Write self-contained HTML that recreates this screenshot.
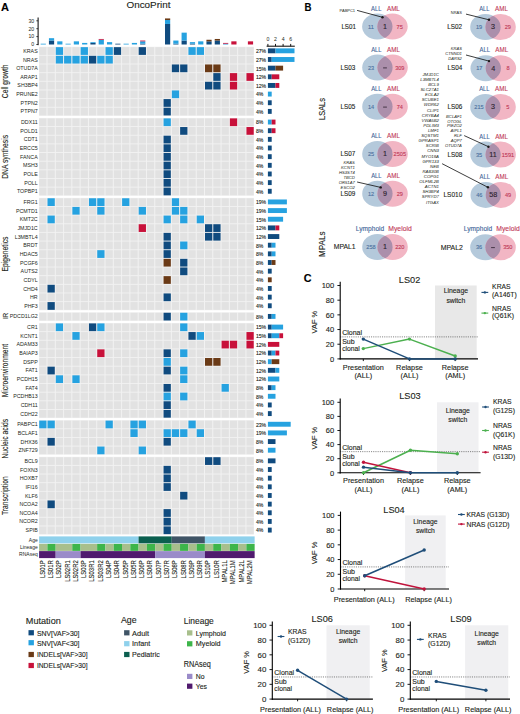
<!DOCTYPE html><html><head><meta charset="utf-8"><title>OncoPrint figure</title><style>html,body{margin:0;padding:0;background:#fff;}svg{display:block;}text{font-family:"Liberation Sans", sans-serif;}</style></head><body>
<svg width="520" height="714" viewBox="0 0 520 714">
<rect x="0" y="0" width="520" height="714" fill="#fff"/>
<text font-size="11" fill="#000" font-weight="bold" transform="translate(1 10.5)" stroke="#000" stroke-width="0.12">A</text>
<text font-size="9.6" fill="#231f20" text-anchor="middle" transform="translate(148.45 7.9) scale(1.029 1)" stroke="#231f20" stroke-width="0.12">OncoPrint</text>
<rect x="39.1" y="46.7" width="214.74" height="69.22" fill="#f2f2f2"/>
<rect x="39.2" y="47.15" width="7.29" height="7.75" fill="#e2e2e2"/>
<rect x="47.49" y="47.15" width="7.29" height="7.75" fill="#e2e2e2"/>
<rect x="55.78" y="47.15" width="7.29" height="7.75" fill="#26a2e0"/>
<rect x="64.07" y="47.15" width="7.29" height="7.75" fill="#e2e2e2"/>
<rect x="72.36" y="47.15" width="7.29" height="7.75" fill="#e2e2e2"/>
<rect x="80.65" y="47.15" width="7.29" height="7.75" fill="#26a2e0"/>
<rect x="88.94" y="47.15" width="7.29" height="7.75" fill="#e2e2e2"/>
<rect x="97.23" y="47.15" width="7.29" height="7.75" fill="#e2e2e2"/>
<rect x="105.52" y="47.15" width="7.29" height="7.75" fill="#26a2e0"/>
<rect x="113.81" y="47.15" width="7.29" height="7.75" fill="#104b7f"/>
<rect x="122.1" y="47.15" width="7.29" height="7.75" fill="#e2e2e2"/>
<rect x="130.39" y="47.15" width="7.29" height="7.75" fill="#e2e2e2"/>
<rect x="138.68" y="47.15" width="7.29" height="7.75" fill="#104b7f"/>
<rect x="146.97" y="47.15" width="7.29" height="7.75" fill="#e2e2e2"/>
<rect x="155.26" y="47.15" width="7.29" height="7.75" fill="#e2e2e2"/>
<rect x="163.55" y="47.15" width="7.29" height="7.75" fill="#e2e2e2"/>
<rect x="171.84" y="47.15" width="7.29" height="7.75" fill="#e2e2e2"/>
<rect x="180.13" y="47.15" width="7.29" height="7.75" fill="#e2e2e2"/>
<rect x="188.42" y="47.15" width="7.29" height="7.75" fill="#26a2e0"/>
<rect x="196.71" y="47.15" width="7.29" height="7.75" fill="#26a2e0"/>
<rect x="205" y="47.15" width="7.29" height="7.75" fill="#e2e2e2"/>
<rect x="213.29" y="47.15" width="7.29" height="7.75" fill="#e2e2e2"/>
<rect x="221.58" y="47.15" width="7.29" height="7.75" fill="#e2e2e2"/>
<rect x="229.87" y="47.15" width="7.29" height="7.75" fill="#e2e2e2"/>
<rect x="238.16" y="47.15" width="7.29" height="7.75" fill="#e2e2e2"/>
<rect x="246.45" y="47.15" width="7.29" height="7.75" fill="#e2e2e2"/>
<text font-size="5.3" fill="#231f20" text-anchor="end" transform="translate(37.7 52.88)">KRAS</text>
<rect x="39.2" y="55.8" width="7.29" height="7.75" fill="#e2e2e2"/>
<rect x="47.49" y="55.8" width="7.29" height="7.75" fill="#e2e2e2"/>
<rect x="55.78" y="55.8" width="7.29" height="7.75" fill="#26a2e0"/>
<rect x="64.07" y="55.8" width="7.29" height="7.75" fill="#26a2e0"/>
<rect x="72.36" y="55.8" width="7.29" height="7.75" fill="#26a2e0"/>
<rect x="80.65" y="55.8" width="7.29" height="7.75" fill="#26a2e0"/>
<rect x="88.94" y="55.8" width="7.29" height="7.75" fill="#104b7f"/>
<rect x="97.23" y="55.8" width="7.29" height="7.75" fill="#26a2e0"/>
<rect x="105.52" y="55.8" width="7.29" height="7.75" fill="#26a2e0"/>
<rect x="113.81" y="55.8" width="7.29" height="7.75" fill="#e2e2e2"/>
<rect x="122.1" y="55.8" width="7.29" height="7.75" fill="#e2e2e2"/>
<rect x="130.39" y="55.8" width="7.29" height="7.75" fill="#e2e2e2"/>
<rect x="138.68" y="55.8" width="7.29" height="7.75" fill="#e2e2e2"/>
<rect x="146.97" y="55.8" width="7.29" height="7.75" fill="#e2e2e2"/>
<rect x="155.26" y="55.8" width="7.29" height="7.75" fill="#e2e2e2"/>
<rect x="163.55" y="55.8" width="7.29" height="7.75" fill="#e2e2e2"/>
<rect x="171.84" y="55.8" width="7.29" height="7.75" fill="#e2e2e2"/>
<rect x="180.13" y="55.8" width="7.29" height="7.75" fill="#e2e2e2"/>
<rect x="188.42" y="55.8" width="7.29" height="7.75" fill="#e2e2e2"/>
<rect x="196.71" y="55.8" width="7.29" height="7.75" fill="#e2e2e2"/>
<rect x="205" y="55.8" width="7.29" height="7.75" fill="#e2e2e2"/>
<rect x="213.29" y="55.8" width="7.29" height="7.75" fill="#e2e2e2"/>
<rect x="221.58" y="55.8" width="7.29" height="7.75" fill="#e2e2e2"/>
<rect x="229.87" y="55.8" width="7.29" height="7.75" fill="#e2e2e2"/>
<rect x="238.16" y="55.8" width="7.29" height="7.75" fill="#e2e2e2"/>
<rect x="246.45" y="55.8" width="7.29" height="7.75" fill="#e2e2e2"/>
<text font-size="5.3" fill="#231f20" text-anchor="end" transform="translate(37.7 61.53)">NRAS</text>
<rect x="39.2" y="64.46" width="7.29" height="7.75" fill="#e2e2e2"/>
<rect x="47.49" y="64.46" width="7.29" height="7.75" fill="#e2e2e2"/>
<rect x="55.78" y="64.46" width="7.29" height="7.75" fill="#e2e2e2"/>
<rect x="64.07" y="64.46" width="7.29" height="7.75" fill="#e2e2e2"/>
<rect x="72.36" y="64.46" width="7.29" height="7.75" fill="#e2e2e2"/>
<rect x="80.65" y="64.46" width="7.29" height="7.75" fill="#e2e2e2"/>
<rect x="88.94" y="64.46" width="7.29" height="7.75" fill="#e2e2e2"/>
<rect x="97.23" y="64.46" width="7.29" height="7.75" fill="#e2e2e2"/>
<rect x="105.52" y="64.46" width="7.29" height="7.75" fill="#e2e2e2"/>
<rect x="113.81" y="64.46" width="7.29" height="7.75" fill="#e2e2e2"/>
<rect x="122.1" y="64.46" width="7.29" height="7.75" fill="#e2e2e2"/>
<rect x="130.39" y="64.46" width="7.29" height="7.75" fill="#e2e2e2"/>
<rect x="138.68" y="64.46" width="7.29" height="7.75" fill="#e2e2e2"/>
<rect x="146.97" y="64.46" width="7.29" height="7.75" fill="#e2e2e2"/>
<rect x="155.26" y="64.46" width="7.29" height="7.75" fill="#e2e2e2"/>
<rect x="163.55" y="64.46" width="7.29" height="7.75" fill="#e2e2e2"/>
<rect x="171.84" y="64.46" width="7.29" height="7.75" fill="#104b7f"/>
<rect x="180.13" y="64.46" width="7.29" height="7.75" fill="#104b7f"/>
<rect x="188.42" y="64.46" width="7.29" height="7.75" fill="#e2e2e2"/>
<rect x="196.71" y="64.46" width="7.29" height="7.75" fill="#e2e2e2"/>
<rect x="205" y="64.46" width="7.29" height="7.75" fill="#6a3a16"/>
<rect x="213.29" y="64.46" width="7.29" height="7.75" fill="#6a3a16"/>
<rect x="221.58" y="64.46" width="7.29" height="7.75" fill="#e2e2e2"/>
<rect x="229.87" y="64.46" width="7.29" height="7.75" fill="#e2e2e2"/>
<rect x="238.16" y="64.46" width="7.29" height="7.75" fill="#e2e2e2"/>
<rect x="246.45" y="64.46" width="7.29" height="7.75" fill="#e2e2e2"/>
<text font-size="5.3" fill="#231f20" text-anchor="end" transform="translate(37.7 70.18)">OTUD7A</text>
<rect x="39.2" y="73.11" width="7.29" height="7.75" fill="#e2e2e2"/>
<rect x="47.49" y="73.11" width="7.29" height="7.75" fill="#e2e2e2"/>
<rect x="55.78" y="73.11" width="7.29" height="7.75" fill="#e2e2e2"/>
<rect x="64.07" y="73.11" width="7.29" height="7.75" fill="#e2e2e2"/>
<rect x="72.36" y="73.11" width="7.29" height="7.75" fill="#e2e2e2"/>
<rect x="80.65" y="73.11" width="7.29" height="7.75" fill="#e2e2e2"/>
<rect x="88.94" y="73.11" width="7.29" height="7.75" fill="#e2e2e2"/>
<rect x="97.23" y="73.11" width="7.29" height="7.75" fill="#e2e2e2"/>
<rect x="105.52" y="73.11" width="7.29" height="7.75" fill="#e2e2e2"/>
<rect x="113.81" y="73.11" width="7.29" height="7.75" fill="#e2e2e2"/>
<rect x="122.1" y="73.11" width="7.29" height="7.75" fill="#e2e2e2"/>
<rect x="130.39" y="73.11" width="7.29" height="7.75" fill="#e2e2e2"/>
<rect x="138.68" y="73.11" width="7.29" height="7.75" fill="#e2e2e2"/>
<rect x="146.97" y="73.11" width="7.29" height="7.75" fill="#e2e2e2"/>
<rect x="155.26" y="73.11" width="7.29" height="7.75" fill="#e2e2e2"/>
<rect x="163.55" y="73.11" width="7.29" height="7.75" fill="#e2e2e2"/>
<rect x="171.84" y="73.11" width="7.29" height="7.75" fill="#e2e2e2"/>
<rect x="180.13" y="73.11" width="7.29" height="7.75" fill="#e2e2e2"/>
<rect x="188.42" y="73.11" width="7.29" height="7.75" fill="#e2e2e2"/>
<rect x="196.71" y="73.11" width="7.29" height="7.75" fill="#e2e2e2"/>
<rect x="205" y="73.11" width="7.29" height="7.75" fill="#e2e2e2"/>
<rect x="213.29" y="73.11" width="7.29" height="7.75" fill="#104b7f"/>
<rect x="221.58" y="73.11" width="7.29" height="7.75" fill="#e2e2e2"/>
<rect x="229.87" y="73.11" width="7.29" height="7.75" fill="#c8113a"/>
<rect x="238.16" y="73.11" width="7.29" height="7.75" fill="#e2e2e2"/>
<rect x="246.45" y="73.11" width="7.29" height="7.75" fill="#c8113a"/>
<text font-size="5.3" fill="#231f20" text-anchor="end" transform="translate(37.7 78.84)">ARAP1</text>
<rect x="39.2" y="81.76" width="7.29" height="7.75" fill="#e2e2e2"/>
<rect x="47.49" y="81.76" width="7.29" height="7.75" fill="#e2e2e2"/>
<rect x="55.78" y="81.76" width="7.29" height="7.75" fill="#e2e2e2"/>
<rect x="64.07" y="81.76" width="7.29" height="7.75" fill="#e2e2e2"/>
<rect x="72.36" y="81.76" width="7.29" height="7.75" fill="#e2e2e2"/>
<rect x="80.65" y="81.76" width="7.29" height="7.75" fill="#e2e2e2"/>
<rect x="88.94" y="81.76" width="7.29" height="7.75" fill="#e2e2e2"/>
<rect x="97.23" y="81.76" width="7.29" height="7.75" fill="#e2e2e2"/>
<rect x="105.52" y="81.76" width="7.29" height="7.75" fill="#e2e2e2"/>
<rect x="113.81" y="81.76" width="7.29" height="7.75" fill="#e2e2e2"/>
<rect x="122.1" y="81.76" width="7.29" height="7.75" fill="#e2e2e2"/>
<rect x="130.39" y="81.76" width="7.29" height="7.75" fill="#e2e2e2"/>
<rect x="138.68" y="81.76" width="7.29" height="7.75" fill="#e2e2e2"/>
<rect x="146.97" y="81.76" width="7.29" height="7.75" fill="#e2e2e2"/>
<rect x="155.26" y="81.76" width="7.29" height="7.75" fill="#e2e2e2"/>
<rect x="163.55" y="81.76" width="7.29" height="7.75" fill="#e2e2e2"/>
<rect x="171.84" y="81.76" width="7.29" height="7.75" fill="#e2e2e2"/>
<rect x="180.13" y="81.76" width="7.29" height="7.75" fill="#e2e2e2"/>
<rect x="188.42" y="81.76" width="7.29" height="7.75" fill="#e2e2e2"/>
<rect x="196.71" y="81.76" width="7.29" height="7.75" fill="#e2e2e2"/>
<rect x="205" y="81.76" width="7.29" height="7.75" fill="#104b7f"/>
<rect x="213.29" y="81.76" width="7.29" height="7.75" fill="#104b7f"/>
<rect x="221.58" y="81.76" width="7.29" height="7.75" fill="#e2e2e2"/>
<rect x="229.87" y="81.76" width="7.29" height="7.75" fill="#c8113a"/>
<rect x="238.16" y="81.76" width="7.29" height="7.75" fill="#e2e2e2"/>
<rect x="246.45" y="81.76" width="7.29" height="7.75" fill="#e2e2e2"/>
<text font-size="5.3" fill="#231f20" text-anchor="end" transform="translate(37.7 87.49)">SH3BP4</text>
<rect x="39.2" y="90.42" width="7.29" height="7.75" fill="#e2e2e2"/>
<rect x="47.49" y="90.42" width="7.29" height="7.75" fill="#e2e2e2"/>
<rect x="55.78" y="90.42" width="7.29" height="7.75" fill="#e2e2e2"/>
<rect x="64.07" y="90.42" width="7.29" height="7.75" fill="#e2e2e2"/>
<rect x="72.36" y="90.42" width="7.29" height="7.75" fill="#e2e2e2"/>
<rect x="80.65" y="90.42" width="7.29" height="7.75" fill="#e2e2e2"/>
<rect x="88.94" y="90.42" width="7.29" height="7.75" fill="#e2e2e2"/>
<rect x="97.23" y="90.42" width="7.29" height="7.75" fill="#e2e2e2"/>
<rect x="105.52" y="90.42" width="7.29" height="7.75" fill="#e2e2e2"/>
<rect x="113.81" y="90.42" width="7.29" height="7.75" fill="#e2e2e2"/>
<rect x="122.1" y="90.42" width="7.29" height="7.75" fill="#e2e2e2"/>
<rect x="130.39" y="90.42" width="7.29" height="7.75" fill="#e2e2e2"/>
<rect x="138.68" y="90.42" width="7.29" height="7.75" fill="#e2e2e2"/>
<rect x="146.97" y="90.42" width="7.29" height="7.75" fill="#e2e2e2"/>
<rect x="155.26" y="90.42" width="7.29" height="7.75" fill="#e2e2e2"/>
<rect x="163.55" y="90.42" width="7.29" height="7.75" fill="#e2e2e2"/>
<rect x="171.84" y="90.42" width="7.29" height="7.75" fill="#26a2e0"/>
<rect x="180.13" y="90.42" width="7.29" height="7.75" fill="#e2e2e2"/>
<rect x="188.42" y="90.42" width="7.29" height="7.75" fill="#e2e2e2"/>
<rect x="196.71" y="90.42" width="7.29" height="7.75" fill="#e2e2e2"/>
<rect x="205" y="90.42" width="7.29" height="7.75" fill="#e2e2e2"/>
<rect x="213.29" y="90.42" width="7.29" height="7.75" fill="#e2e2e2"/>
<rect x="221.58" y="90.42" width="7.29" height="7.75" fill="#e2e2e2"/>
<rect x="229.87" y="90.42" width="7.29" height="7.75" fill="#e2e2e2"/>
<rect x="238.16" y="90.42" width="7.29" height="7.75" fill="#e2e2e2"/>
<rect x="246.45" y="90.42" width="7.29" height="7.75" fill="#e2e2e2"/>
<text font-size="5.3" fill="#231f20" text-anchor="end" transform="translate(37.7 96.14)">PRUNE2</text>
<rect x="39.2" y="99.07" width="7.29" height="7.75" fill="#e2e2e2"/>
<rect x="47.49" y="99.07" width="7.29" height="7.75" fill="#e2e2e2"/>
<rect x="55.78" y="99.07" width="7.29" height="7.75" fill="#e2e2e2"/>
<rect x="64.07" y="99.07" width="7.29" height="7.75" fill="#e2e2e2"/>
<rect x="72.36" y="99.07" width="7.29" height="7.75" fill="#e2e2e2"/>
<rect x="80.65" y="99.07" width="7.29" height="7.75" fill="#e2e2e2"/>
<rect x="88.94" y="99.07" width="7.29" height="7.75" fill="#e2e2e2"/>
<rect x="97.23" y="99.07" width="7.29" height="7.75" fill="#e2e2e2"/>
<rect x="105.52" y="99.07" width="7.29" height="7.75" fill="#e2e2e2"/>
<rect x="113.81" y="99.07" width="7.29" height="7.75" fill="#e2e2e2"/>
<rect x="122.1" y="99.07" width="7.29" height="7.75" fill="#e2e2e2"/>
<rect x="130.39" y="99.07" width="7.29" height="7.75" fill="#e2e2e2"/>
<rect x="138.68" y="99.07" width="7.29" height="7.75" fill="#e2e2e2"/>
<rect x="146.97" y="99.07" width="7.29" height="7.75" fill="#e2e2e2"/>
<rect x="155.26" y="99.07" width="7.29" height="7.75" fill="#e2e2e2"/>
<rect x="163.55" y="99.07" width="7.29" height="7.75" fill="#104b7f"/>
<rect x="171.84" y="99.07" width="7.29" height="7.75" fill="#e2e2e2"/>
<rect x="180.13" y="99.07" width="7.29" height="7.75" fill="#e2e2e2"/>
<rect x="188.42" y="99.07" width="7.29" height="7.75" fill="#e2e2e2"/>
<rect x="196.71" y="99.07" width="7.29" height="7.75" fill="#e2e2e2"/>
<rect x="205" y="99.07" width="7.29" height="7.75" fill="#e2e2e2"/>
<rect x="213.29" y="99.07" width="7.29" height="7.75" fill="#e2e2e2"/>
<rect x="221.58" y="99.07" width="7.29" height="7.75" fill="#e2e2e2"/>
<rect x="229.87" y="99.07" width="7.29" height="7.75" fill="#e2e2e2"/>
<rect x="238.16" y="99.07" width="7.29" height="7.75" fill="#e2e2e2"/>
<rect x="246.45" y="99.07" width="7.29" height="7.75" fill="#e2e2e2"/>
<text font-size="5.3" fill="#231f20" text-anchor="end" transform="translate(37.7 104.79)">PTPN2</text>
<rect x="39.2" y="107.72" width="7.29" height="7.75" fill="#e2e2e2"/>
<rect x="47.49" y="107.72" width="7.29" height="7.75" fill="#e2e2e2"/>
<rect x="55.78" y="107.72" width="7.29" height="7.75" fill="#e2e2e2"/>
<rect x="64.07" y="107.72" width="7.29" height="7.75" fill="#e2e2e2"/>
<rect x="72.36" y="107.72" width="7.29" height="7.75" fill="#e2e2e2"/>
<rect x="80.65" y="107.72" width="7.29" height="7.75" fill="#e2e2e2"/>
<rect x="88.94" y="107.72" width="7.29" height="7.75" fill="#e2e2e2"/>
<rect x="97.23" y="107.72" width="7.29" height="7.75" fill="#e2e2e2"/>
<rect x="105.52" y="107.72" width="7.29" height="7.75" fill="#e2e2e2"/>
<rect x="113.81" y="107.72" width="7.29" height="7.75" fill="#e2e2e2"/>
<rect x="122.1" y="107.72" width="7.29" height="7.75" fill="#e2e2e2"/>
<rect x="130.39" y="107.72" width="7.29" height="7.75" fill="#e2e2e2"/>
<rect x="138.68" y="107.72" width="7.29" height="7.75" fill="#e2e2e2"/>
<rect x="146.97" y="107.72" width="7.29" height="7.75" fill="#e2e2e2"/>
<rect x="155.26" y="107.72" width="7.29" height="7.75" fill="#e2e2e2"/>
<rect x="163.55" y="107.72" width="7.29" height="7.75" fill="#104b7f"/>
<rect x="171.84" y="107.72" width="7.29" height="7.75" fill="#e2e2e2"/>
<rect x="180.13" y="107.72" width="7.29" height="7.75" fill="#e2e2e2"/>
<rect x="188.42" y="107.72" width="7.29" height="7.75" fill="#e2e2e2"/>
<rect x="196.71" y="107.72" width="7.29" height="7.75" fill="#e2e2e2"/>
<rect x="205" y="107.72" width="7.29" height="7.75" fill="#e2e2e2"/>
<rect x="213.29" y="107.72" width="7.29" height="7.75" fill="#e2e2e2"/>
<rect x="221.58" y="107.72" width="7.29" height="7.75" fill="#e2e2e2"/>
<rect x="229.87" y="107.72" width="7.29" height="7.75" fill="#e2e2e2"/>
<rect x="238.16" y="107.72" width="7.29" height="7.75" fill="#e2e2e2"/>
<rect x="246.45" y="107.72" width="7.29" height="7.75" fill="#e2e2e2"/>
<text font-size="5.3" fill="#231f20" text-anchor="end" transform="translate(37.7 113.45)">PTPN7</text>
<text font-size="8.8" fill="#231f20" text-anchor="middle" transform="translate(7.6 81.31) rotate(-90) scale(0.767 1)" stroke="#231f20" stroke-width="0.12">Cell growth</text>
<rect x="39.1" y="117.92" width="214.74" height="77.88" fill="#f2f2f2"/>
<rect x="39.2" y="118.37" width="7.29" height="7.75" fill="#e2e2e2"/>
<rect x="47.49" y="118.37" width="7.29" height="7.75" fill="#e2e2e2"/>
<rect x="55.78" y="118.37" width="7.29" height="7.75" fill="#e2e2e2"/>
<rect x="64.07" y="118.37" width="7.29" height="7.75" fill="#e2e2e2"/>
<rect x="72.36" y="118.37" width="7.29" height="7.75" fill="#e2e2e2"/>
<rect x="80.65" y="118.37" width="7.29" height="7.75" fill="#e2e2e2"/>
<rect x="88.94" y="118.37" width="7.29" height="7.75" fill="#e2e2e2"/>
<rect x="97.23" y="118.37" width="7.29" height="7.75" fill="#e2e2e2"/>
<rect x="105.52" y="118.37" width="7.29" height="7.75" fill="#e2e2e2"/>
<rect x="113.81" y="118.37" width="7.29" height="7.75" fill="#e2e2e2"/>
<rect x="122.1" y="118.37" width="7.29" height="7.75" fill="#e2e2e2"/>
<rect x="130.39" y="118.37" width="7.29" height="7.75" fill="#e2e2e2"/>
<rect x="138.68" y="118.37" width="7.29" height="7.75" fill="#e2e2e2"/>
<rect x="146.97" y="118.37" width="7.29" height="7.75" fill="#e2e2e2"/>
<rect x="155.26" y="118.37" width="7.29" height="7.75" fill="#e2e2e2"/>
<rect x="163.55" y="118.37" width="7.29" height="7.75" fill="#26a2e0"/>
<rect x="171.84" y="118.37" width="7.29" height="7.75" fill="#e2e2e2"/>
<rect x="180.13" y="118.37" width="7.29" height="7.75" fill="#e2e2e2"/>
<rect x="188.42" y="118.37" width="7.29" height="7.75" fill="#e2e2e2"/>
<rect x="196.71" y="118.37" width="7.29" height="7.75" fill="#e2e2e2"/>
<rect x="205" y="118.37" width="7.29" height="7.75" fill="#e2e2e2"/>
<rect x="213.29" y="118.37" width="7.29" height="7.75" fill="#e2e2e2"/>
<rect x="221.58" y="118.37" width="7.29" height="7.75" fill="#e2e2e2"/>
<rect x="229.87" y="118.37" width="7.29" height="7.75" fill="#c8113a"/>
<rect x="238.16" y="118.37" width="7.29" height="7.75" fill="#e2e2e2"/>
<rect x="246.45" y="118.37" width="7.29" height="7.75" fill="#e2e2e2"/>
<text font-size="5.3" fill="#231f20" text-anchor="end" transform="translate(37.7 124.1)">DDX11</text>
<rect x="39.2" y="127.03" width="7.29" height="7.75" fill="#e2e2e2"/>
<rect x="47.49" y="127.03" width="7.29" height="7.75" fill="#e2e2e2"/>
<rect x="55.78" y="127.03" width="7.29" height="7.75" fill="#e2e2e2"/>
<rect x="64.07" y="127.03" width="7.29" height="7.75" fill="#e2e2e2"/>
<rect x="72.36" y="127.03" width="7.29" height="7.75" fill="#e2e2e2"/>
<rect x="80.65" y="127.03" width="7.29" height="7.75" fill="#e2e2e2"/>
<rect x="88.94" y="127.03" width="7.29" height="7.75" fill="#e2e2e2"/>
<rect x="97.23" y="127.03" width="7.29" height="7.75" fill="#e2e2e2"/>
<rect x="105.52" y="127.03" width="7.29" height="7.75" fill="#e2e2e2"/>
<rect x="113.81" y="127.03" width="7.29" height="7.75" fill="#e2e2e2"/>
<rect x="122.1" y="127.03" width="7.29" height="7.75" fill="#e2e2e2"/>
<rect x="130.39" y="127.03" width="7.29" height="7.75" fill="#e2e2e2"/>
<rect x="138.68" y="127.03" width="7.29" height="7.75" fill="#e2e2e2"/>
<rect x="146.97" y="127.03" width="7.29" height="7.75" fill="#e2e2e2"/>
<rect x="155.26" y="127.03" width="7.29" height="7.75" fill="#e2e2e2"/>
<rect x="163.55" y="127.03" width="7.29" height="7.75" fill="#e2e2e2"/>
<rect x="171.84" y="127.03" width="7.29" height="7.75" fill="#e2e2e2"/>
<rect x="180.13" y="127.03" width="7.29" height="7.75" fill="#104b7f"/>
<rect x="188.42" y="127.03" width="7.29" height="7.75" fill="#e2e2e2"/>
<rect x="196.71" y="127.03" width="7.29" height="7.75" fill="#e2e2e2"/>
<rect x="205" y="127.03" width="7.29" height="7.75" fill="#e2e2e2"/>
<rect x="213.29" y="127.03" width="7.29" height="7.75" fill="#e2e2e2"/>
<rect x="221.58" y="127.03" width="7.29" height="7.75" fill="#e2e2e2"/>
<rect x="229.87" y="127.03" width="7.29" height="7.75" fill="#e2e2e2"/>
<rect x="238.16" y="127.03" width="7.29" height="7.75" fill="#e2e2e2"/>
<rect x="246.45" y="127.03" width="7.29" height="7.75" fill="#c8113a"/>
<text font-size="5.3" fill="#231f20" text-anchor="end" transform="translate(37.7 132.75)">POLD1</text>
<rect x="39.2" y="135.68" width="7.29" height="7.75" fill="#e2e2e2"/>
<rect x="47.49" y="135.68" width="7.29" height="7.75" fill="#e2e2e2"/>
<rect x="55.78" y="135.68" width="7.29" height="7.75" fill="#e2e2e2"/>
<rect x="64.07" y="135.68" width="7.29" height="7.75" fill="#e2e2e2"/>
<rect x="72.36" y="135.68" width="7.29" height="7.75" fill="#e2e2e2"/>
<rect x="80.65" y="135.68" width="7.29" height="7.75" fill="#e2e2e2"/>
<rect x="88.94" y="135.68" width="7.29" height="7.75" fill="#e2e2e2"/>
<rect x="97.23" y="135.68" width="7.29" height="7.75" fill="#e2e2e2"/>
<rect x="105.52" y="135.68" width="7.29" height="7.75" fill="#e2e2e2"/>
<rect x="113.81" y="135.68" width="7.29" height="7.75" fill="#e2e2e2"/>
<rect x="122.1" y="135.68" width="7.29" height="7.75" fill="#e2e2e2"/>
<rect x="130.39" y="135.68" width="7.29" height="7.75" fill="#e2e2e2"/>
<rect x="138.68" y="135.68" width="7.29" height="7.75" fill="#e2e2e2"/>
<rect x="146.97" y="135.68" width="7.29" height="7.75" fill="#e2e2e2"/>
<rect x="155.26" y="135.68" width="7.29" height="7.75" fill="#e2e2e2"/>
<rect x="163.55" y="135.68" width="7.29" height="7.75" fill="#104b7f"/>
<rect x="171.84" y="135.68" width="7.29" height="7.75" fill="#e2e2e2"/>
<rect x="180.13" y="135.68" width="7.29" height="7.75" fill="#e2e2e2"/>
<rect x="188.42" y="135.68" width="7.29" height="7.75" fill="#e2e2e2"/>
<rect x="196.71" y="135.68" width="7.29" height="7.75" fill="#e2e2e2"/>
<rect x="205" y="135.68" width="7.29" height="7.75" fill="#e2e2e2"/>
<rect x="213.29" y="135.68" width="7.29" height="7.75" fill="#e2e2e2"/>
<rect x="221.58" y="135.68" width="7.29" height="7.75" fill="#e2e2e2"/>
<rect x="229.87" y="135.68" width="7.29" height="7.75" fill="#e2e2e2"/>
<rect x="238.16" y="135.68" width="7.29" height="7.75" fill="#e2e2e2"/>
<rect x="246.45" y="135.68" width="7.29" height="7.75" fill="#e2e2e2"/>
<text font-size="5.3" fill="#231f20" text-anchor="end" transform="translate(37.7 141.41)">CDT1</text>
<rect x="39.2" y="144.33" width="7.29" height="7.75" fill="#e2e2e2"/>
<rect x="47.49" y="144.33" width="7.29" height="7.75" fill="#e2e2e2"/>
<rect x="55.78" y="144.33" width="7.29" height="7.75" fill="#e2e2e2"/>
<rect x="64.07" y="144.33" width="7.29" height="7.75" fill="#e2e2e2"/>
<rect x="72.36" y="144.33" width="7.29" height="7.75" fill="#e2e2e2"/>
<rect x="80.65" y="144.33" width="7.29" height="7.75" fill="#e2e2e2"/>
<rect x="88.94" y="144.33" width="7.29" height="7.75" fill="#e2e2e2"/>
<rect x="97.23" y="144.33" width="7.29" height="7.75" fill="#e2e2e2"/>
<rect x="105.52" y="144.33" width="7.29" height="7.75" fill="#e2e2e2"/>
<rect x="113.81" y="144.33" width="7.29" height="7.75" fill="#e2e2e2"/>
<rect x="122.1" y="144.33" width="7.29" height="7.75" fill="#e2e2e2"/>
<rect x="130.39" y="144.33" width="7.29" height="7.75" fill="#e2e2e2"/>
<rect x="138.68" y="144.33" width="7.29" height="7.75" fill="#e2e2e2"/>
<rect x="146.97" y="144.33" width="7.29" height="7.75" fill="#e2e2e2"/>
<rect x="155.26" y="144.33" width="7.29" height="7.75" fill="#e2e2e2"/>
<rect x="163.55" y="144.33" width="7.29" height="7.75" fill="#104b7f"/>
<rect x="171.84" y="144.33" width="7.29" height="7.75" fill="#e2e2e2"/>
<rect x="180.13" y="144.33" width="7.29" height="7.75" fill="#e2e2e2"/>
<rect x="188.42" y="144.33" width="7.29" height="7.75" fill="#e2e2e2"/>
<rect x="196.71" y="144.33" width="7.29" height="7.75" fill="#e2e2e2"/>
<rect x="205" y="144.33" width="7.29" height="7.75" fill="#e2e2e2"/>
<rect x="213.29" y="144.33" width="7.29" height="7.75" fill="#e2e2e2"/>
<rect x="221.58" y="144.33" width="7.29" height="7.75" fill="#e2e2e2"/>
<rect x="229.87" y="144.33" width="7.29" height="7.75" fill="#e2e2e2"/>
<rect x="238.16" y="144.33" width="7.29" height="7.75" fill="#e2e2e2"/>
<rect x="246.45" y="144.33" width="7.29" height="7.75" fill="#e2e2e2"/>
<text font-size="5.3" fill="#231f20" text-anchor="end" transform="translate(37.7 150.06)">ERCC5</text>
<rect x="39.2" y="152.99" width="7.29" height="7.75" fill="#e2e2e2"/>
<rect x="47.49" y="152.99" width="7.29" height="7.75" fill="#e2e2e2"/>
<rect x="55.78" y="152.99" width="7.29" height="7.75" fill="#e2e2e2"/>
<rect x="64.07" y="152.99" width="7.29" height="7.75" fill="#e2e2e2"/>
<rect x="72.36" y="152.99" width="7.29" height="7.75" fill="#e2e2e2"/>
<rect x="80.65" y="152.99" width="7.29" height="7.75" fill="#e2e2e2"/>
<rect x="88.94" y="152.99" width="7.29" height="7.75" fill="#e2e2e2"/>
<rect x="97.23" y="152.99" width="7.29" height="7.75" fill="#e2e2e2"/>
<rect x="105.52" y="152.99" width="7.29" height="7.75" fill="#e2e2e2"/>
<rect x="113.81" y="152.99" width="7.29" height="7.75" fill="#e2e2e2"/>
<rect x="122.1" y="152.99" width="7.29" height="7.75" fill="#e2e2e2"/>
<rect x="130.39" y="152.99" width="7.29" height="7.75" fill="#e2e2e2"/>
<rect x="138.68" y="152.99" width="7.29" height="7.75" fill="#e2e2e2"/>
<rect x="146.97" y="152.99" width="7.29" height="7.75" fill="#e2e2e2"/>
<rect x="155.26" y="152.99" width="7.29" height="7.75" fill="#e2e2e2"/>
<rect x="163.55" y="152.99" width="7.29" height="7.75" fill="#104b7f"/>
<rect x="171.84" y="152.99" width="7.29" height="7.75" fill="#e2e2e2"/>
<rect x="180.13" y="152.99" width="7.29" height="7.75" fill="#e2e2e2"/>
<rect x="188.42" y="152.99" width="7.29" height="7.75" fill="#e2e2e2"/>
<rect x="196.71" y="152.99" width="7.29" height="7.75" fill="#e2e2e2"/>
<rect x="205" y="152.99" width="7.29" height="7.75" fill="#e2e2e2"/>
<rect x="213.29" y="152.99" width="7.29" height="7.75" fill="#e2e2e2"/>
<rect x="221.58" y="152.99" width="7.29" height="7.75" fill="#e2e2e2"/>
<rect x="229.87" y="152.99" width="7.29" height="7.75" fill="#e2e2e2"/>
<rect x="238.16" y="152.99" width="7.29" height="7.75" fill="#e2e2e2"/>
<rect x="246.45" y="152.99" width="7.29" height="7.75" fill="#e2e2e2"/>
<text font-size="5.3" fill="#231f20" text-anchor="end" transform="translate(37.7 158.71)">FANCA</text>
<rect x="39.2" y="161.64" width="7.29" height="7.75" fill="#e2e2e2"/>
<rect x="47.49" y="161.64" width="7.29" height="7.75" fill="#e2e2e2"/>
<rect x="55.78" y="161.64" width="7.29" height="7.75" fill="#e2e2e2"/>
<rect x="64.07" y="161.64" width="7.29" height="7.75" fill="#e2e2e2"/>
<rect x="72.36" y="161.64" width="7.29" height="7.75" fill="#e2e2e2"/>
<rect x="80.65" y="161.64" width="7.29" height="7.75" fill="#e2e2e2"/>
<rect x="88.94" y="161.64" width="7.29" height="7.75" fill="#e2e2e2"/>
<rect x="97.23" y="161.64" width="7.29" height="7.75" fill="#e2e2e2"/>
<rect x="105.52" y="161.64" width="7.29" height="7.75" fill="#e2e2e2"/>
<rect x="113.81" y="161.64" width="7.29" height="7.75" fill="#e2e2e2"/>
<rect x="122.1" y="161.64" width="7.29" height="7.75" fill="#e2e2e2"/>
<rect x="130.39" y="161.64" width="7.29" height="7.75" fill="#e2e2e2"/>
<rect x="138.68" y="161.64" width="7.29" height="7.75" fill="#e2e2e2"/>
<rect x="146.97" y="161.64" width="7.29" height="7.75" fill="#e2e2e2"/>
<rect x="155.26" y="161.64" width="7.29" height="7.75" fill="#e2e2e2"/>
<rect x="163.55" y="161.64" width="7.29" height="7.75" fill="#104b7f"/>
<rect x="171.84" y="161.64" width="7.29" height="7.75" fill="#e2e2e2"/>
<rect x="180.13" y="161.64" width="7.29" height="7.75" fill="#e2e2e2"/>
<rect x="188.42" y="161.64" width="7.29" height="7.75" fill="#e2e2e2"/>
<rect x="196.71" y="161.64" width="7.29" height="7.75" fill="#e2e2e2"/>
<rect x="205" y="161.64" width="7.29" height="7.75" fill="#e2e2e2"/>
<rect x="213.29" y="161.64" width="7.29" height="7.75" fill="#e2e2e2"/>
<rect x="221.58" y="161.64" width="7.29" height="7.75" fill="#e2e2e2"/>
<rect x="229.87" y="161.64" width="7.29" height="7.75" fill="#e2e2e2"/>
<rect x="238.16" y="161.64" width="7.29" height="7.75" fill="#e2e2e2"/>
<rect x="246.45" y="161.64" width="7.29" height="7.75" fill="#e2e2e2"/>
<text font-size="5.3" fill="#231f20" text-anchor="end" transform="translate(37.7 167.37)">MSH3</text>
<rect x="39.2" y="170.29" width="7.29" height="7.75" fill="#e2e2e2"/>
<rect x="47.49" y="170.29" width="7.29" height="7.75" fill="#e2e2e2"/>
<rect x="55.78" y="170.29" width="7.29" height="7.75" fill="#e2e2e2"/>
<rect x="64.07" y="170.29" width="7.29" height="7.75" fill="#e2e2e2"/>
<rect x="72.36" y="170.29" width="7.29" height="7.75" fill="#e2e2e2"/>
<rect x="80.65" y="170.29" width="7.29" height="7.75" fill="#e2e2e2"/>
<rect x="88.94" y="170.29" width="7.29" height="7.75" fill="#e2e2e2"/>
<rect x="97.23" y="170.29" width="7.29" height="7.75" fill="#e2e2e2"/>
<rect x="105.52" y="170.29" width="7.29" height="7.75" fill="#e2e2e2"/>
<rect x="113.81" y="170.29" width="7.29" height="7.75" fill="#e2e2e2"/>
<rect x="122.1" y="170.29" width="7.29" height="7.75" fill="#e2e2e2"/>
<rect x="130.39" y="170.29" width="7.29" height="7.75" fill="#e2e2e2"/>
<rect x="138.68" y="170.29" width="7.29" height="7.75" fill="#e2e2e2"/>
<rect x="146.97" y="170.29" width="7.29" height="7.75" fill="#e2e2e2"/>
<rect x="155.26" y="170.29" width="7.29" height="7.75" fill="#e2e2e2"/>
<rect x="163.55" y="170.29" width="7.29" height="7.75" fill="#104b7f"/>
<rect x="171.84" y="170.29" width="7.29" height="7.75" fill="#e2e2e2"/>
<rect x="180.13" y="170.29" width="7.29" height="7.75" fill="#e2e2e2"/>
<rect x="188.42" y="170.29" width="7.29" height="7.75" fill="#e2e2e2"/>
<rect x="196.71" y="170.29" width="7.29" height="7.75" fill="#e2e2e2"/>
<rect x="205" y="170.29" width="7.29" height="7.75" fill="#e2e2e2"/>
<rect x="213.29" y="170.29" width="7.29" height="7.75" fill="#e2e2e2"/>
<rect x="221.58" y="170.29" width="7.29" height="7.75" fill="#e2e2e2"/>
<rect x="229.87" y="170.29" width="7.29" height="7.75" fill="#e2e2e2"/>
<rect x="238.16" y="170.29" width="7.29" height="7.75" fill="#e2e2e2"/>
<rect x="246.45" y="170.29" width="7.29" height="7.75" fill="#e2e2e2"/>
<text font-size="5.3" fill="#231f20" text-anchor="end" transform="translate(37.7 176.02)">POLE</text>
<rect x="39.2" y="178.94" width="7.29" height="7.75" fill="#e2e2e2"/>
<rect x="47.49" y="178.94" width="7.29" height="7.75" fill="#e2e2e2"/>
<rect x="55.78" y="178.94" width="7.29" height="7.75" fill="#e2e2e2"/>
<rect x="64.07" y="178.94" width="7.29" height="7.75" fill="#e2e2e2"/>
<rect x="72.36" y="178.94" width="7.29" height="7.75" fill="#e2e2e2"/>
<rect x="80.65" y="178.94" width="7.29" height="7.75" fill="#e2e2e2"/>
<rect x="88.94" y="178.94" width="7.29" height="7.75" fill="#e2e2e2"/>
<rect x="97.23" y="178.94" width="7.29" height="7.75" fill="#e2e2e2"/>
<rect x="105.52" y="178.94" width="7.29" height="7.75" fill="#e2e2e2"/>
<rect x="113.81" y="178.94" width="7.29" height="7.75" fill="#e2e2e2"/>
<rect x="122.1" y="178.94" width="7.29" height="7.75" fill="#e2e2e2"/>
<rect x="130.39" y="178.94" width="7.29" height="7.75" fill="#e2e2e2"/>
<rect x="138.68" y="178.94" width="7.29" height="7.75" fill="#e2e2e2"/>
<rect x="146.97" y="178.94" width="7.29" height="7.75" fill="#e2e2e2"/>
<rect x="155.26" y="178.94" width="7.29" height="7.75" fill="#e2e2e2"/>
<rect x="163.55" y="178.94" width="7.29" height="7.75" fill="#104b7f"/>
<rect x="171.84" y="178.94" width="7.29" height="7.75" fill="#e2e2e2"/>
<rect x="180.13" y="178.94" width="7.29" height="7.75" fill="#e2e2e2"/>
<rect x="188.42" y="178.94" width="7.29" height="7.75" fill="#e2e2e2"/>
<rect x="196.71" y="178.94" width="7.29" height="7.75" fill="#e2e2e2"/>
<rect x="205" y="178.94" width="7.29" height="7.75" fill="#e2e2e2"/>
<rect x="213.29" y="178.94" width="7.29" height="7.75" fill="#e2e2e2"/>
<rect x="221.58" y="178.94" width="7.29" height="7.75" fill="#e2e2e2"/>
<rect x="229.87" y="178.94" width="7.29" height="7.75" fill="#e2e2e2"/>
<rect x="238.16" y="178.94" width="7.29" height="7.75" fill="#e2e2e2"/>
<rect x="246.45" y="178.94" width="7.29" height="7.75" fill="#e2e2e2"/>
<text font-size="5.3" fill="#231f20" text-anchor="end" transform="translate(37.7 184.67)">POLL</text>
<rect x="39.2" y="187.6" width="7.29" height="7.75" fill="#e2e2e2"/>
<rect x="47.49" y="187.6" width="7.29" height="7.75" fill="#e2e2e2"/>
<rect x="55.78" y="187.6" width="7.29" height="7.75" fill="#e2e2e2"/>
<rect x="64.07" y="187.6" width="7.29" height="7.75" fill="#e2e2e2"/>
<rect x="72.36" y="187.6" width="7.29" height="7.75" fill="#e2e2e2"/>
<rect x="80.65" y="187.6" width="7.29" height="7.75" fill="#e2e2e2"/>
<rect x="88.94" y="187.6" width="7.29" height="7.75" fill="#e2e2e2"/>
<rect x="97.23" y="187.6" width="7.29" height="7.75" fill="#e2e2e2"/>
<rect x="105.52" y="187.6" width="7.29" height="7.75" fill="#e2e2e2"/>
<rect x="113.81" y="187.6" width="7.29" height="7.75" fill="#e2e2e2"/>
<rect x="122.1" y="187.6" width="7.29" height="7.75" fill="#e2e2e2"/>
<rect x="130.39" y="187.6" width="7.29" height="7.75" fill="#e2e2e2"/>
<rect x="138.68" y="187.6" width="7.29" height="7.75" fill="#e2e2e2"/>
<rect x="146.97" y="187.6" width="7.29" height="7.75" fill="#e2e2e2"/>
<rect x="155.26" y="187.6" width="7.29" height="7.75" fill="#e2e2e2"/>
<rect x="163.55" y="187.6" width="7.29" height="7.75" fill="#104b7f"/>
<rect x="171.84" y="187.6" width="7.29" height="7.75" fill="#e2e2e2"/>
<rect x="180.13" y="187.6" width="7.29" height="7.75" fill="#e2e2e2"/>
<rect x="188.42" y="187.6" width="7.29" height="7.75" fill="#e2e2e2"/>
<rect x="196.71" y="187.6" width="7.29" height="7.75" fill="#e2e2e2"/>
<rect x="205" y="187.6" width="7.29" height="7.75" fill="#e2e2e2"/>
<rect x="213.29" y="187.6" width="7.29" height="7.75" fill="#e2e2e2"/>
<rect x="221.58" y="187.6" width="7.29" height="7.75" fill="#e2e2e2"/>
<rect x="229.87" y="187.6" width="7.29" height="7.75" fill="#e2e2e2"/>
<rect x="238.16" y="187.6" width="7.29" height="7.75" fill="#e2e2e2"/>
<rect x="246.45" y="187.6" width="7.29" height="7.75" fill="#e2e2e2"/>
<text font-size="5.3" fill="#231f20" text-anchor="end" transform="translate(37.7 193.32)">TOPBP1</text>
<text font-size="8.8" fill="#231f20" text-anchor="middle" transform="translate(7.6 156.86) rotate(-90) scale(0.767 1)" stroke="#231f20" stroke-width="0.12">DNA synthesis</text>
<rect x="39.1" y="197.8" width="214.74" height="112.49" fill="#f2f2f2"/>
<rect x="39.2" y="198.25" width="7.29" height="7.75" fill="#e2e2e2"/>
<rect x="47.49" y="198.25" width="7.29" height="7.75" fill="#26a2e0"/>
<rect x="55.78" y="198.25" width="7.29" height="7.75" fill="#e2e2e2"/>
<rect x="64.07" y="198.25" width="7.29" height="7.75" fill="#e2e2e2"/>
<rect x="72.36" y="198.25" width="7.29" height="7.75" fill="#e2e2e2"/>
<rect x="80.65" y="198.25" width="7.29" height="7.75" fill="#e2e2e2"/>
<rect x="88.94" y="198.25" width="7.29" height="7.75" fill="#26a2e0"/>
<rect x="97.23" y="198.25" width="7.29" height="7.75" fill="#26a2e0"/>
<rect x="105.52" y="198.25" width="7.29" height="7.75" fill="#e2e2e2"/>
<rect x="113.81" y="198.25" width="7.29" height="7.75" fill="#e2e2e2"/>
<rect x="122.1" y="198.25" width="7.29" height="7.75" fill="#26a2e0"/>
<rect x="130.39" y="198.25" width="7.29" height="7.75" fill="#e2e2e2"/>
<rect x="138.68" y="198.25" width="7.29" height="7.75" fill="#e2e2e2"/>
<rect x="146.97" y="198.25" width="7.29" height="7.75" fill="#e2e2e2"/>
<rect x="155.26" y="198.25" width="7.29" height="7.75" fill="#e2e2e2"/>
<rect x="163.55" y="198.25" width="7.29" height="7.75" fill="#e2e2e2"/>
<rect x="171.84" y="198.25" width="7.29" height="7.75" fill="#26a2e0"/>
<rect x="180.13" y="198.25" width="7.29" height="7.75" fill="#e2e2e2"/>
<rect x="188.42" y="198.25" width="7.29" height="7.75" fill="#e2e2e2"/>
<rect x="196.71" y="198.25" width="7.29" height="7.75" fill="#e2e2e2"/>
<rect x="205" y="198.25" width="7.29" height="7.75" fill="#e2e2e2"/>
<rect x="213.29" y="198.25" width="7.29" height="7.75" fill="#e2e2e2"/>
<rect x="221.58" y="198.25" width="7.29" height="7.75" fill="#e2e2e2"/>
<rect x="229.87" y="198.25" width="7.29" height="7.75" fill="#e2e2e2"/>
<rect x="238.16" y="198.25" width="7.29" height="7.75" fill="#e2e2e2"/>
<rect x="246.45" y="198.25" width="7.29" height="7.75" fill="#e2e2e2"/>
<text font-size="5.3" fill="#231f20" text-anchor="end" transform="translate(37.7 203.98)">FRG1</text>
<rect x="39.2" y="206.9" width="7.29" height="7.75" fill="#e2e2e2"/>
<rect x="47.49" y="206.9" width="7.29" height="7.75" fill="#e2e2e2"/>
<rect x="55.78" y="206.9" width="7.29" height="7.75" fill="#e2e2e2"/>
<rect x="64.07" y="206.9" width="7.29" height="7.75" fill="#e2e2e2"/>
<rect x="72.36" y="206.9" width="7.29" height="7.75" fill="#26a2e0"/>
<rect x="80.65" y="206.9" width="7.29" height="7.75" fill="#e2e2e2"/>
<rect x="88.94" y="206.9" width="7.29" height="7.75" fill="#e2e2e2"/>
<rect x="97.23" y="206.9" width="7.29" height="7.75" fill="#26a2e0"/>
<rect x="105.52" y="206.9" width="7.29" height="7.75" fill="#e2e2e2"/>
<rect x="113.81" y="206.9" width="7.29" height="7.75" fill="#e2e2e2"/>
<rect x="122.1" y="206.9" width="7.29" height="7.75" fill="#e2e2e2"/>
<rect x="130.39" y="206.9" width="7.29" height="7.75" fill="#e2e2e2"/>
<rect x="138.68" y="206.9" width="7.29" height="7.75" fill="#26a2e0"/>
<rect x="146.97" y="206.9" width="7.29" height="7.75" fill="#e2e2e2"/>
<rect x="155.26" y="206.9" width="7.29" height="7.75" fill="#e2e2e2"/>
<rect x="163.55" y="206.9" width="7.29" height="7.75" fill="#e2e2e2"/>
<rect x="171.84" y="206.9" width="7.29" height="7.75" fill="#26a2e0"/>
<rect x="180.13" y="206.9" width="7.29" height="7.75" fill="#26a2e0"/>
<rect x="188.42" y="206.9" width="7.29" height="7.75" fill="#e2e2e2"/>
<rect x="196.71" y="206.9" width="7.29" height="7.75" fill="#e2e2e2"/>
<rect x="205" y="206.9" width="7.29" height="7.75" fill="#e2e2e2"/>
<rect x="213.29" y="206.9" width="7.29" height="7.75" fill="#e2e2e2"/>
<rect x="221.58" y="206.9" width="7.29" height="7.75" fill="#e2e2e2"/>
<rect x="229.87" y="206.9" width="7.29" height="7.75" fill="#e2e2e2"/>
<rect x="238.16" y="206.9" width="7.29" height="7.75" fill="#e2e2e2"/>
<rect x="246.45" y="206.9" width="7.29" height="7.75" fill="#e2e2e2"/>
<text font-size="5.3" fill="#231f20" text-anchor="end" transform="translate(37.7 212.63)">PCMTD1</text>
<rect x="39.2" y="215.56" width="7.29" height="7.75" fill="#e2e2e2"/>
<rect x="47.49" y="215.56" width="7.29" height="7.75" fill="#26a2e0"/>
<rect x="55.78" y="215.56" width="7.29" height="7.75" fill="#e2e2e2"/>
<rect x="64.07" y="215.56" width="7.29" height="7.75" fill="#e2e2e2"/>
<rect x="72.36" y="215.56" width="7.29" height="7.75" fill="#e2e2e2"/>
<rect x="80.65" y="215.56" width="7.29" height="7.75" fill="#e2e2e2"/>
<rect x="88.94" y="215.56" width="7.29" height="7.75" fill="#e2e2e2"/>
<rect x="97.23" y="215.56" width="7.29" height="7.75" fill="#e2e2e2"/>
<rect x="105.52" y="215.56" width="7.29" height="7.75" fill="#e2e2e2"/>
<rect x="113.81" y="215.56" width="7.29" height="7.75" fill="#e2e2e2"/>
<rect x="122.1" y="215.56" width="7.29" height="7.75" fill="#e2e2e2"/>
<rect x="130.39" y="215.56" width="7.29" height="7.75" fill="#e2e2e2"/>
<rect x="138.68" y="215.56" width="7.29" height="7.75" fill="#e2e2e2"/>
<rect x="146.97" y="215.56" width="7.29" height="7.75" fill="#e2e2e2"/>
<rect x="155.26" y="215.56" width="7.29" height="7.75" fill="#e2e2e2"/>
<rect x="163.55" y="215.56" width="7.29" height="7.75" fill="#26a2e0"/>
<rect x="171.84" y="215.56" width="7.29" height="7.75" fill="#e2e2e2"/>
<rect x="180.13" y="215.56" width="7.29" height="7.75" fill="#26a2e0"/>
<rect x="188.42" y="215.56" width="7.29" height="7.75" fill="#e2e2e2"/>
<rect x="196.71" y="215.56" width="7.29" height="7.75" fill="#26a2e0"/>
<rect x="205" y="215.56" width="7.29" height="7.75" fill="#e2e2e2"/>
<rect x="213.29" y="215.56" width="7.29" height="7.75" fill="#e2e2e2"/>
<rect x="221.58" y="215.56" width="7.29" height="7.75" fill="#e2e2e2"/>
<rect x="229.87" y="215.56" width="7.29" height="7.75" fill="#e2e2e2"/>
<rect x="238.16" y="215.56" width="7.29" height="7.75" fill="#e2e2e2"/>
<rect x="246.45" y="215.56" width="7.29" height="7.75" fill="#e2e2e2"/>
<text font-size="5.3" fill="#231f20" text-anchor="end" transform="translate(37.7 221.28)">KMT2C</text>
<rect x="39.2" y="224.21" width="7.29" height="7.75" fill="#e2e2e2"/>
<rect x="47.49" y="224.21" width="7.29" height="7.75" fill="#e2e2e2"/>
<rect x="55.78" y="224.21" width="7.29" height="7.75" fill="#e2e2e2"/>
<rect x="64.07" y="224.21" width="7.29" height="7.75" fill="#e2e2e2"/>
<rect x="72.36" y="224.21" width="7.29" height="7.75" fill="#e2e2e2"/>
<rect x="80.65" y="224.21" width="7.29" height="7.75" fill="#e2e2e2"/>
<rect x="88.94" y="224.21" width="7.29" height="7.75" fill="#e2e2e2"/>
<rect x="97.23" y="224.21" width="7.29" height="7.75" fill="#e2e2e2"/>
<rect x="105.52" y="224.21" width="7.29" height="7.75" fill="#e2e2e2"/>
<rect x="113.81" y="224.21" width="7.29" height="7.75" fill="#e2e2e2"/>
<rect x="122.1" y="224.21" width="7.29" height="7.75" fill="#e2e2e2"/>
<rect x="130.39" y="224.21" width="7.29" height="7.75" fill="#e2e2e2"/>
<rect x="138.68" y="224.21" width="7.29" height="7.75" fill="#c8113a"/>
<rect x="146.97" y="224.21" width="7.29" height="7.75" fill="#e2e2e2"/>
<rect x="155.26" y="224.21" width="7.29" height="7.75" fill="#e2e2e2"/>
<rect x="163.55" y="224.21" width="7.29" height="7.75" fill="#e2e2e2"/>
<rect x="171.84" y="224.21" width="7.29" height="7.75" fill="#e2e2e2"/>
<rect x="180.13" y="224.21" width="7.29" height="7.75" fill="#e2e2e2"/>
<rect x="188.42" y="224.21" width="7.29" height="7.75" fill="#e2e2e2"/>
<rect x="196.71" y="224.21" width="7.29" height="7.75" fill="#e2e2e2"/>
<rect x="205" y="224.21" width="7.29" height="7.75" fill="#104b7f"/>
<rect x="213.29" y="224.21" width="7.29" height="7.75" fill="#104b7f"/>
<rect x="221.58" y="224.21" width="7.29" height="7.75" fill="#e2e2e2"/>
<rect x="229.87" y="224.21" width="7.29" height="7.75" fill="#e2e2e2"/>
<rect x="238.16" y="224.21" width="7.29" height="7.75" fill="#e2e2e2"/>
<rect x="246.45" y="224.21" width="7.29" height="7.75" fill="#e2e2e2"/>
<text font-size="5.3" fill="#231f20" text-anchor="end" transform="translate(37.7 229.94)">JMJD1C</text>
<rect x="39.2" y="232.86" width="7.29" height="7.75" fill="#e2e2e2"/>
<rect x="47.49" y="232.86" width="7.29" height="7.75" fill="#e2e2e2"/>
<rect x="55.78" y="232.86" width="7.29" height="7.75" fill="#e2e2e2"/>
<rect x="64.07" y="232.86" width="7.29" height="7.75" fill="#e2e2e2"/>
<rect x="72.36" y="232.86" width="7.29" height="7.75" fill="#e2e2e2"/>
<rect x="80.65" y="232.86" width="7.29" height="7.75" fill="#e2e2e2"/>
<rect x="88.94" y="232.86" width="7.29" height="7.75" fill="#e2e2e2"/>
<rect x="97.23" y="232.86" width="7.29" height="7.75" fill="#e2e2e2"/>
<rect x="105.52" y="232.86" width="7.29" height="7.75" fill="#e2e2e2"/>
<rect x="113.81" y="232.86" width="7.29" height="7.75" fill="#e2e2e2"/>
<rect x="122.1" y="232.86" width="7.29" height="7.75" fill="#e2e2e2"/>
<rect x="130.39" y="232.86" width="7.29" height="7.75" fill="#e2e2e2"/>
<rect x="138.68" y="232.86" width="7.29" height="7.75" fill="#e2e2e2"/>
<rect x="146.97" y="232.86" width="7.29" height="7.75" fill="#e2e2e2"/>
<rect x="155.26" y="232.86" width="7.29" height="7.75" fill="#e2e2e2"/>
<rect x="163.55" y="232.86" width="7.29" height="7.75" fill="#104b7f"/>
<rect x="171.84" y="232.86" width="7.29" height="7.75" fill="#e2e2e2"/>
<rect x="180.13" y="232.86" width="7.29" height="7.75" fill="#e2e2e2"/>
<rect x="188.42" y="232.86" width="7.29" height="7.75" fill="#e2e2e2"/>
<rect x="196.71" y="232.86" width="7.29" height="7.75" fill="#e2e2e2"/>
<rect x="205" y="232.86" width="7.29" height="7.75" fill="#104b7f"/>
<rect x="213.29" y="232.86" width="7.29" height="7.75" fill="#104b7f"/>
<rect x="221.58" y="232.86" width="7.29" height="7.75" fill="#e2e2e2"/>
<rect x="229.87" y="232.86" width="7.29" height="7.75" fill="#e2e2e2"/>
<rect x="238.16" y="232.86" width="7.29" height="7.75" fill="#e2e2e2"/>
<rect x="246.45" y="232.86" width="7.29" height="7.75" fill="#e2e2e2"/>
<text font-size="5.3" fill="#231f20" text-anchor="end" transform="translate(37.7 238.59)">L3MBTL4</text>
<rect x="39.2" y="241.52" width="7.29" height="7.75" fill="#e2e2e2"/>
<rect x="47.49" y="241.52" width="7.29" height="7.75" fill="#e2e2e2"/>
<rect x="55.78" y="241.52" width="7.29" height="7.75" fill="#e2e2e2"/>
<rect x="64.07" y="241.52" width="7.29" height="7.75" fill="#e2e2e2"/>
<rect x="72.36" y="241.52" width="7.29" height="7.75" fill="#e2e2e2"/>
<rect x="80.65" y="241.52" width="7.29" height="7.75" fill="#e2e2e2"/>
<rect x="88.94" y="241.52" width="7.29" height="7.75" fill="#e2e2e2"/>
<rect x="97.23" y="241.52" width="7.29" height="7.75" fill="#e2e2e2"/>
<rect x="105.52" y="241.52" width="7.29" height="7.75" fill="#e2e2e2"/>
<rect x="113.81" y="241.52" width="7.29" height="7.75" fill="#e2e2e2"/>
<rect x="122.1" y="241.52" width="7.29" height="7.75" fill="#e2e2e2"/>
<rect x="130.39" y="241.52" width="7.29" height="7.75" fill="#e2e2e2"/>
<rect x="138.68" y="241.52" width="7.29" height="7.75" fill="#e2e2e2"/>
<rect x="146.97" y="241.52" width="7.29" height="7.75" fill="#e2e2e2"/>
<rect x="155.26" y="241.52" width="7.29" height="7.75" fill="#e2e2e2"/>
<rect x="163.55" y="241.52" width="7.29" height="7.75" fill="#104b7f"/>
<rect x="171.84" y="241.52" width="7.29" height="7.75" fill="#e2e2e2"/>
<rect x="180.13" y="241.52" width="7.29" height="7.75" fill="#26a2e0"/>
<rect x="188.42" y="241.52" width="7.29" height="7.75" fill="#e2e2e2"/>
<rect x="196.71" y="241.52" width="7.29" height="7.75" fill="#e2e2e2"/>
<rect x="205" y="241.52" width="7.29" height="7.75" fill="#e2e2e2"/>
<rect x="213.29" y="241.52" width="7.29" height="7.75" fill="#e2e2e2"/>
<rect x="221.58" y="241.52" width="7.29" height="7.75" fill="#e2e2e2"/>
<rect x="229.87" y="241.52" width="7.29" height="7.75" fill="#e2e2e2"/>
<rect x="238.16" y="241.52" width="7.29" height="7.75" fill="#e2e2e2"/>
<rect x="246.45" y="241.52" width="7.29" height="7.75" fill="#e2e2e2"/>
<text font-size="5.3" fill="#231f20" text-anchor="end" transform="translate(37.7 247.24)">BRDT</text>
<rect x="39.2" y="250.17" width="7.29" height="7.75" fill="#e2e2e2"/>
<rect x="47.49" y="250.17" width="7.29" height="7.75" fill="#e2e2e2"/>
<rect x="55.78" y="250.17" width="7.29" height="7.75" fill="#e2e2e2"/>
<rect x="64.07" y="250.17" width="7.29" height="7.75" fill="#e2e2e2"/>
<rect x="72.36" y="250.17" width="7.29" height="7.75" fill="#e2e2e2"/>
<rect x="80.65" y="250.17" width="7.29" height="7.75" fill="#e2e2e2"/>
<rect x="88.94" y="250.17" width="7.29" height="7.75" fill="#e2e2e2"/>
<rect x="97.23" y="250.17" width="7.29" height="7.75" fill="#26a2e0"/>
<rect x="105.52" y="250.17" width="7.29" height="7.75" fill="#e2e2e2"/>
<rect x="113.81" y="250.17" width="7.29" height="7.75" fill="#e2e2e2"/>
<rect x="122.1" y="250.17" width="7.29" height="7.75" fill="#e2e2e2"/>
<rect x="130.39" y="250.17" width="7.29" height="7.75" fill="#e2e2e2"/>
<rect x="138.68" y="250.17" width="7.29" height="7.75" fill="#e2e2e2"/>
<rect x="146.97" y="250.17" width="7.29" height="7.75" fill="#e2e2e2"/>
<rect x="155.26" y="250.17" width="7.29" height="7.75" fill="#e2e2e2"/>
<rect x="163.55" y="250.17" width="7.29" height="7.75" fill="#104b7f"/>
<rect x="171.84" y="250.17" width="7.29" height="7.75" fill="#e2e2e2"/>
<rect x="180.13" y="250.17" width="7.29" height="7.75" fill="#e2e2e2"/>
<rect x="188.42" y="250.17" width="7.29" height="7.75" fill="#e2e2e2"/>
<rect x="196.71" y="250.17" width="7.29" height="7.75" fill="#e2e2e2"/>
<rect x="205" y="250.17" width="7.29" height="7.75" fill="#e2e2e2"/>
<rect x="213.29" y="250.17" width="7.29" height="7.75" fill="#e2e2e2"/>
<rect x="221.58" y="250.17" width="7.29" height="7.75" fill="#e2e2e2"/>
<rect x="229.87" y="250.17" width="7.29" height="7.75" fill="#e2e2e2"/>
<rect x="238.16" y="250.17" width="7.29" height="7.75" fill="#e2e2e2"/>
<rect x="246.45" y="250.17" width="7.29" height="7.75" fill="#e2e2e2"/>
<text font-size="5.3" fill="#231f20" text-anchor="end" transform="translate(37.7 255.9)">HDAC5</text>
<rect x="39.2" y="258.82" width="7.29" height="7.75" fill="#e2e2e2"/>
<rect x="47.49" y="258.82" width="7.29" height="7.75" fill="#e2e2e2"/>
<rect x="55.78" y="258.82" width="7.29" height="7.75" fill="#e2e2e2"/>
<rect x="64.07" y="258.82" width="7.29" height="7.75" fill="#e2e2e2"/>
<rect x="72.36" y="258.82" width="7.29" height="7.75" fill="#e2e2e2"/>
<rect x="80.65" y="258.82" width="7.29" height="7.75" fill="#e2e2e2"/>
<rect x="88.94" y="258.82" width="7.29" height="7.75" fill="#e2e2e2"/>
<rect x="97.23" y="258.82" width="7.29" height="7.75" fill="#e2e2e2"/>
<rect x="105.52" y="258.82" width="7.29" height="7.75" fill="#e2e2e2"/>
<rect x="113.81" y="258.82" width="7.29" height="7.75" fill="#e2e2e2"/>
<rect x="122.1" y="258.82" width="7.29" height="7.75" fill="#e2e2e2"/>
<rect x="130.39" y="258.82" width="7.29" height="7.75" fill="#e2e2e2"/>
<rect x="138.68" y="258.82" width="7.29" height="7.75" fill="#e2e2e2"/>
<rect x="146.97" y="258.82" width="7.29" height="7.75" fill="#e2e2e2"/>
<rect x="155.26" y="258.82" width="7.29" height="7.75" fill="#e2e2e2"/>
<rect x="163.55" y="258.82" width="7.29" height="7.75" fill="#6a3a16"/>
<rect x="171.84" y="258.82" width="7.29" height="7.75" fill="#e2e2e2"/>
<rect x="180.13" y="258.82" width="7.29" height="7.75" fill="#104b7f"/>
<rect x="188.42" y="258.82" width="7.29" height="7.75" fill="#e2e2e2"/>
<rect x="196.71" y="258.82" width="7.29" height="7.75" fill="#e2e2e2"/>
<rect x="205" y="258.82" width="7.29" height="7.75" fill="#e2e2e2"/>
<rect x="213.29" y="258.82" width="7.29" height="7.75" fill="#e2e2e2"/>
<rect x="221.58" y="258.82" width="7.29" height="7.75" fill="#e2e2e2"/>
<rect x="229.87" y="258.82" width="7.29" height="7.75" fill="#e2e2e2"/>
<rect x="238.16" y="258.82" width="7.29" height="7.75" fill="#e2e2e2"/>
<rect x="246.45" y="258.82" width="7.29" height="7.75" fill="#e2e2e2"/>
<text font-size="5.3" fill="#231f20" text-anchor="end" transform="translate(37.7 264.55)">PCGF6</text>
<rect x="39.2" y="267.47" width="7.29" height="7.75" fill="#e2e2e2"/>
<rect x="47.49" y="267.47" width="7.29" height="7.75" fill="#e2e2e2"/>
<rect x="55.78" y="267.47" width="7.29" height="7.75" fill="#e2e2e2"/>
<rect x="64.07" y="267.47" width="7.29" height="7.75" fill="#e2e2e2"/>
<rect x="72.36" y="267.47" width="7.29" height="7.75" fill="#e2e2e2"/>
<rect x="80.65" y="267.47" width="7.29" height="7.75" fill="#e2e2e2"/>
<rect x="88.94" y="267.47" width="7.29" height="7.75" fill="#e2e2e2"/>
<rect x="97.23" y="267.47" width="7.29" height="7.75" fill="#e2e2e2"/>
<rect x="105.52" y="267.47" width="7.29" height="7.75" fill="#e2e2e2"/>
<rect x="113.81" y="267.47" width="7.29" height="7.75" fill="#e2e2e2"/>
<rect x="122.1" y="267.47" width="7.29" height="7.75" fill="#e2e2e2"/>
<rect x="130.39" y="267.47" width="7.29" height="7.75" fill="#e2e2e2"/>
<rect x="138.68" y="267.47" width="7.29" height="7.75" fill="#e2e2e2"/>
<rect x="146.97" y="267.47" width="7.29" height="7.75" fill="#e2e2e2"/>
<rect x="155.26" y="267.47" width="7.29" height="7.75" fill="#e2e2e2"/>
<rect x="163.55" y="267.47" width="7.29" height="7.75" fill="#e2e2e2"/>
<rect x="171.84" y="267.47" width="7.29" height="7.75" fill="#e2e2e2"/>
<rect x="180.13" y="267.47" width="7.29" height="7.75" fill="#104b7f"/>
<rect x="188.42" y="267.47" width="7.29" height="7.75" fill="#e2e2e2"/>
<rect x="196.71" y="267.47" width="7.29" height="7.75" fill="#e2e2e2"/>
<rect x="205" y="267.47" width="7.29" height="7.75" fill="#e2e2e2"/>
<rect x="213.29" y="267.47" width="7.29" height="7.75" fill="#e2e2e2"/>
<rect x="221.58" y="267.47" width="7.29" height="7.75" fill="#e2e2e2"/>
<rect x="229.87" y="267.47" width="7.29" height="7.75" fill="#e2e2e2"/>
<rect x="238.16" y="267.47" width="7.29" height="7.75" fill="#e2e2e2"/>
<rect x="246.45" y="267.47" width="7.29" height="7.75" fill="#e2e2e2"/>
<text font-size="5.3" fill="#231f20" text-anchor="end" transform="translate(37.7 273.2)">AUTS2</text>
<rect x="39.2" y="276.13" width="7.29" height="7.75" fill="#e2e2e2"/>
<rect x="47.49" y="276.13" width="7.29" height="7.75" fill="#e2e2e2"/>
<rect x="55.78" y="276.13" width="7.29" height="7.75" fill="#e2e2e2"/>
<rect x="64.07" y="276.13" width="7.29" height="7.75" fill="#e2e2e2"/>
<rect x="72.36" y="276.13" width="7.29" height="7.75" fill="#e2e2e2"/>
<rect x="80.65" y="276.13" width="7.29" height="7.75" fill="#e2e2e2"/>
<rect x="88.94" y="276.13" width="7.29" height="7.75" fill="#e2e2e2"/>
<rect x="97.23" y="276.13" width="7.29" height="7.75" fill="#e2e2e2"/>
<rect x="105.52" y="276.13" width="7.29" height="7.75" fill="#e2e2e2"/>
<rect x="113.81" y="276.13" width="7.29" height="7.75" fill="#e2e2e2"/>
<rect x="122.1" y="276.13" width="7.29" height="7.75" fill="#e2e2e2"/>
<rect x="130.39" y="276.13" width="7.29" height="7.75" fill="#e2e2e2"/>
<rect x="138.68" y="276.13" width="7.29" height="7.75" fill="#e2e2e2"/>
<rect x="146.97" y="276.13" width="7.29" height="7.75" fill="#e2e2e2"/>
<rect x="155.26" y="276.13" width="7.29" height="7.75" fill="#e2e2e2"/>
<rect x="163.55" y="276.13" width="7.29" height="7.75" fill="#6a3a16"/>
<rect x="171.84" y="276.13" width="7.29" height="7.75" fill="#e2e2e2"/>
<rect x="180.13" y="276.13" width="7.29" height="7.75" fill="#e2e2e2"/>
<rect x="188.42" y="276.13" width="7.29" height="7.75" fill="#e2e2e2"/>
<rect x="196.71" y="276.13" width="7.29" height="7.75" fill="#e2e2e2"/>
<rect x="205" y="276.13" width="7.29" height="7.75" fill="#e2e2e2"/>
<rect x="213.29" y="276.13" width="7.29" height="7.75" fill="#e2e2e2"/>
<rect x="221.58" y="276.13" width="7.29" height="7.75" fill="#e2e2e2"/>
<rect x="229.87" y="276.13" width="7.29" height="7.75" fill="#e2e2e2"/>
<rect x="238.16" y="276.13" width="7.29" height="7.75" fill="#e2e2e2"/>
<rect x="246.45" y="276.13" width="7.29" height="7.75" fill="#e2e2e2"/>
<text font-size="5.3" fill="#231f20" text-anchor="end" transform="translate(37.7 281.85)">CDYL</text>
<rect x="39.2" y="284.78" width="7.29" height="7.75" fill="#e2e2e2"/>
<rect x="47.49" y="284.78" width="7.29" height="7.75" fill="#104b7f"/>
<rect x="55.78" y="284.78" width="7.29" height="7.75" fill="#e2e2e2"/>
<rect x="64.07" y="284.78" width="7.29" height="7.75" fill="#e2e2e2"/>
<rect x="72.36" y="284.78" width="7.29" height="7.75" fill="#e2e2e2"/>
<rect x="80.65" y="284.78" width="7.29" height="7.75" fill="#e2e2e2"/>
<rect x="88.94" y="284.78" width="7.29" height="7.75" fill="#e2e2e2"/>
<rect x="97.23" y="284.78" width="7.29" height="7.75" fill="#e2e2e2"/>
<rect x="105.52" y="284.78" width="7.29" height="7.75" fill="#e2e2e2"/>
<rect x="113.81" y="284.78" width="7.29" height="7.75" fill="#e2e2e2"/>
<rect x="122.1" y="284.78" width="7.29" height="7.75" fill="#e2e2e2"/>
<rect x="130.39" y="284.78" width="7.29" height="7.75" fill="#e2e2e2"/>
<rect x="138.68" y="284.78" width="7.29" height="7.75" fill="#e2e2e2"/>
<rect x="146.97" y="284.78" width="7.29" height="7.75" fill="#e2e2e2"/>
<rect x="155.26" y="284.78" width="7.29" height="7.75" fill="#e2e2e2"/>
<rect x="163.55" y="284.78" width="7.29" height="7.75" fill="#e2e2e2"/>
<rect x="171.84" y="284.78" width="7.29" height="7.75" fill="#e2e2e2"/>
<rect x="180.13" y="284.78" width="7.29" height="7.75" fill="#e2e2e2"/>
<rect x="188.42" y="284.78" width="7.29" height="7.75" fill="#e2e2e2"/>
<rect x="196.71" y="284.78" width="7.29" height="7.75" fill="#e2e2e2"/>
<rect x="205" y="284.78" width="7.29" height="7.75" fill="#e2e2e2"/>
<rect x="213.29" y="284.78" width="7.29" height="7.75" fill="#e2e2e2"/>
<rect x="221.58" y="284.78" width="7.29" height="7.75" fill="#e2e2e2"/>
<rect x="229.87" y="284.78" width="7.29" height="7.75" fill="#e2e2e2"/>
<rect x="238.16" y="284.78" width="7.29" height="7.75" fill="#e2e2e2"/>
<rect x="246.45" y="284.78" width="7.29" height="7.75" fill="#e2e2e2"/>
<text font-size="5.3" fill="#231f20" text-anchor="end" transform="translate(37.7 290.51)">CHD4</text>
<rect x="39.2" y="293.43" width="7.29" height="7.75" fill="#e2e2e2"/>
<rect x="47.49" y="293.43" width="7.29" height="7.75" fill="#e2e2e2"/>
<rect x="55.78" y="293.43" width="7.29" height="7.75" fill="#e2e2e2"/>
<rect x="64.07" y="293.43" width="7.29" height="7.75" fill="#e2e2e2"/>
<rect x="72.36" y="293.43" width="7.29" height="7.75" fill="#e2e2e2"/>
<rect x="80.65" y="293.43" width="7.29" height="7.75" fill="#e2e2e2"/>
<rect x="88.94" y="293.43" width="7.29" height="7.75" fill="#e2e2e2"/>
<rect x="97.23" y="293.43" width="7.29" height="7.75" fill="#e2e2e2"/>
<rect x="105.52" y="293.43" width="7.29" height="7.75" fill="#e2e2e2"/>
<rect x="113.81" y="293.43" width="7.29" height="7.75" fill="#e2e2e2"/>
<rect x="122.1" y="293.43" width="7.29" height="7.75" fill="#e2e2e2"/>
<rect x="130.39" y="293.43" width="7.29" height="7.75" fill="#e2e2e2"/>
<rect x="138.68" y="293.43" width="7.29" height="7.75" fill="#e2e2e2"/>
<rect x="146.97" y="293.43" width="7.29" height="7.75" fill="#e2e2e2"/>
<rect x="155.26" y="293.43" width="7.29" height="7.75" fill="#e2e2e2"/>
<rect x="163.55" y="293.43" width="7.29" height="7.75" fill="#104b7f"/>
<rect x="171.84" y="293.43" width="7.29" height="7.75" fill="#e2e2e2"/>
<rect x="180.13" y="293.43" width="7.29" height="7.75" fill="#e2e2e2"/>
<rect x="188.42" y="293.43" width="7.29" height="7.75" fill="#e2e2e2"/>
<rect x="196.71" y="293.43" width="7.29" height="7.75" fill="#e2e2e2"/>
<rect x="205" y="293.43" width="7.29" height="7.75" fill="#e2e2e2"/>
<rect x="213.29" y="293.43" width="7.29" height="7.75" fill="#e2e2e2"/>
<rect x="221.58" y="293.43" width="7.29" height="7.75" fill="#e2e2e2"/>
<rect x="229.87" y="293.43" width="7.29" height="7.75" fill="#e2e2e2"/>
<rect x="238.16" y="293.43" width="7.29" height="7.75" fill="#e2e2e2"/>
<rect x="246.45" y="293.43" width="7.29" height="7.75" fill="#e2e2e2"/>
<text font-size="5.3" fill="#231f20" text-anchor="end" transform="translate(37.7 299.16)">HR</text>
<rect x="39.2" y="302.09" width="7.29" height="7.75" fill="#e2e2e2"/>
<rect x="47.49" y="302.09" width="7.29" height="7.75" fill="#104b7f"/>
<rect x="55.78" y="302.09" width="7.29" height="7.75" fill="#e2e2e2"/>
<rect x="64.07" y="302.09" width="7.29" height="7.75" fill="#e2e2e2"/>
<rect x="72.36" y="302.09" width="7.29" height="7.75" fill="#e2e2e2"/>
<rect x="80.65" y="302.09" width="7.29" height="7.75" fill="#e2e2e2"/>
<rect x="88.94" y="302.09" width="7.29" height="7.75" fill="#e2e2e2"/>
<rect x="97.23" y="302.09" width="7.29" height="7.75" fill="#e2e2e2"/>
<rect x="105.52" y="302.09" width="7.29" height="7.75" fill="#e2e2e2"/>
<rect x="113.81" y="302.09" width="7.29" height="7.75" fill="#e2e2e2"/>
<rect x="122.1" y="302.09" width="7.29" height="7.75" fill="#e2e2e2"/>
<rect x="130.39" y="302.09" width="7.29" height="7.75" fill="#e2e2e2"/>
<rect x="138.68" y="302.09" width="7.29" height="7.75" fill="#e2e2e2"/>
<rect x="146.97" y="302.09" width="7.29" height="7.75" fill="#e2e2e2"/>
<rect x="155.26" y="302.09" width="7.29" height="7.75" fill="#e2e2e2"/>
<rect x="163.55" y="302.09" width="7.29" height="7.75" fill="#e2e2e2"/>
<rect x="171.84" y="302.09" width="7.29" height="7.75" fill="#e2e2e2"/>
<rect x="180.13" y="302.09" width="7.29" height="7.75" fill="#e2e2e2"/>
<rect x="188.42" y="302.09" width="7.29" height="7.75" fill="#e2e2e2"/>
<rect x="196.71" y="302.09" width="7.29" height="7.75" fill="#e2e2e2"/>
<rect x="205" y="302.09" width="7.29" height="7.75" fill="#e2e2e2"/>
<rect x="213.29" y="302.09" width="7.29" height="7.75" fill="#e2e2e2"/>
<rect x="221.58" y="302.09" width="7.29" height="7.75" fill="#e2e2e2"/>
<rect x="229.87" y="302.09" width="7.29" height="7.75" fill="#e2e2e2"/>
<rect x="238.16" y="302.09" width="7.29" height="7.75" fill="#e2e2e2"/>
<rect x="246.45" y="302.09" width="7.29" height="7.75" fill="#e2e2e2"/>
<text font-size="5.3" fill="#231f20" text-anchor="end" transform="translate(37.7 307.81)">PHF3</text>
<text font-size="8.8" fill="#231f20" text-anchor="middle" transform="translate(7.6 254.05) rotate(-90) scale(0.767 1)" stroke="#231f20" stroke-width="0.12">Epigenetics</text>
<rect x="39.1" y="312.29" width="214.74" height="8.65" fill="#f2f2f2"/>
<rect x="39.2" y="312.74" width="7.29" height="7.75" fill="#e2e2e2"/>
<rect x="47.49" y="312.74" width="7.29" height="7.75" fill="#e2e2e2"/>
<rect x="55.78" y="312.74" width="7.29" height="7.75" fill="#e2e2e2"/>
<rect x="64.07" y="312.74" width="7.29" height="7.75" fill="#e2e2e2"/>
<rect x="72.36" y="312.74" width="7.29" height="7.75" fill="#e2e2e2"/>
<rect x="80.65" y="312.74" width="7.29" height="7.75" fill="#e2e2e2"/>
<rect x="88.94" y="312.74" width="7.29" height="7.75" fill="#e2e2e2"/>
<rect x="97.23" y="312.74" width="7.29" height="7.75" fill="#e2e2e2"/>
<rect x="105.52" y="312.74" width="7.29" height="7.75" fill="#e2e2e2"/>
<rect x="113.81" y="312.74" width="7.29" height="7.75" fill="#e2e2e2"/>
<rect x="122.1" y="312.74" width="7.29" height="7.75" fill="#e2e2e2"/>
<rect x="130.39" y="312.74" width="7.29" height="7.75" fill="#e2e2e2"/>
<rect x="138.68" y="312.74" width="7.29" height="7.75" fill="#e2e2e2"/>
<rect x="146.97" y="312.74" width="7.29" height="7.75" fill="#e2e2e2"/>
<rect x="155.26" y="312.74" width="7.29" height="7.75" fill="#e2e2e2"/>
<rect x="163.55" y="312.74" width="7.29" height="7.75" fill="#104b7f"/>
<rect x="171.84" y="312.74" width="7.29" height="7.75" fill="#e2e2e2"/>
<rect x="180.13" y="312.74" width="7.29" height="7.75" fill="#26a2e0"/>
<rect x="188.42" y="312.74" width="7.29" height="7.75" fill="#e2e2e2"/>
<rect x="196.71" y="312.74" width="7.29" height="7.75" fill="#e2e2e2"/>
<rect x="205" y="312.74" width="7.29" height="7.75" fill="#e2e2e2"/>
<rect x="213.29" y="312.74" width="7.29" height="7.75" fill="#e2e2e2"/>
<rect x="221.58" y="312.74" width="7.29" height="7.75" fill="#e2e2e2"/>
<rect x="229.87" y="312.74" width="7.29" height="7.75" fill="#e2e2e2"/>
<rect x="238.16" y="312.74" width="7.29" height="7.75" fill="#e2e2e2"/>
<rect x="246.45" y="312.74" width="7.29" height="7.75" fill="#e2e2e2"/>
<text font-size="5.3" fill="#231f20" text-anchor="end" transform="translate(37.7 318.47)">PDCD1LG2</text>
<text font-size="7.8" fill="#231f20" text-anchor="middle" transform="translate(7.6 316.02) rotate(-90) scale(0.769 1)" stroke="#231f20" stroke-width="0.12">IR</text>
<rect x="39.1" y="322.94" width="214.74" height="95.18" fill="#f2f2f2"/>
<rect x="39.2" y="323.39" width="7.29" height="7.75" fill="#e2e2e2"/>
<rect x="47.49" y="323.39" width="7.29" height="7.75" fill="#e2e2e2"/>
<rect x="55.78" y="323.39" width="7.29" height="7.75" fill="#26a2e0"/>
<rect x="64.07" y="323.39" width="7.29" height="7.75" fill="#e2e2e2"/>
<rect x="72.36" y="323.39" width="7.29" height="7.75" fill="#e2e2e2"/>
<rect x="80.65" y="323.39" width="7.29" height="7.75" fill="#e2e2e2"/>
<rect x="88.94" y="323.39" width="7.29" height="7.75" fill="#104b7f"/>
<rect x="97.23" y="323.39" width="7.29" height="7.75" fill="#26a2e0"/>
<rect x="105.52" y="323.39" width="7.29" height="7.75" fill="#e2e2e2"/>
<rect x="113.81" y="323.39" width="7.29" height="7.75" fill="#e2e2e2"/>
<rect x="122.1" y="323.39" width="7.29" height="7.75" fill="#e2e2e2"/>
<rect x="130.39" y="323.39" width="7.29" height="7.75" fill="#e2e2e2"/>
<rect x="138.68" y="323.39" width="7.29" height="7.75" fill="#e2e2e2"/>
<rect x="146.97" y="323.39" width="7.29" height="7.75" fill="#e2e2e2"/>
<rect x="155.26" y="323.39" width="7.29" height="7.75" fill="#e2e2e2"/>
<rect x="163.55" y="323.39" width="7.29" height="7.75" fill="#e2e2e2"/>
<rect x="171.84" y="323.39" width="7.29" height="7.75" fill="#e2e2e2"/>
<rect x="180.13" y="323.39" width="7.29" height="7.75" fill="#26a2e0"/>
<rect x="188.42" y="323.39" width="7.29" height="7.75" fill="#e2e2e2"/>
<rect x="196.71" y="323.39" width="7.29" height="7.75" fill="#e2e2e2"/>
<rect x="205" y="323.39" width="7.29" height="7.75" fill="#e2e2e2"/>
<rect x="213.29" y="323.39" width="7.29" height="7.75" fill="#e2e2e2"/>
<rect x="221.58" y="323.39" width="7.29" height="7.75" fill="#e2e2e2"/>
<rect x="229.87" y="323.39" width="7.29" height="7.75" fill="#e2e2e2"/>
<rect x="238.16" y="323.39" width="7.29" height="7.75" fill="#e2e2e2"/>
<rect x="246.45" y="323.39" width="7.29" height="7.75" fill="#e2e2e2"/>
<text font-size="5.3" fill="#231f20" text-anchor="end" transform="translate(37.7 329.12)">CR1</text>
<rect x="39.2" y="332.05" width="7.29" height="7.75" fill="#e2e2e2"/>
<rect x="47.49" y="332.05" width="7.29" height="7.75" fill="#e2e2e2"/>
<rect x="55.78" y="332.05" width="7.29" height="7.75" fill="#e2e2e2"/>
<rect x="64.07" y="332.05" width="7.29" height="7.75" fill="#e2e2e2"/>
<rect x="72.36" y="332.05" width="7.29" height="7.75" fill="#26a2e0"/>
<rect x="80.65" y="332.05" width="7.29" height="7.75" fill="#e2e2e2"/>
<rect x="88.94" y="332.05" width="7.29" height="7.75" fill="#e2e2e2"/>
<rect x="97.23" y="332.05" width="7.29" height="7.75" fill="#e2e2e2"/>
<rect x="105.52" y="332.05" width="7.29" height="7.75" fill="#e2e2e2"/>
<rect x="113.81" y="332.05" width="7.29" height="7.75" fill="#e2e2e2"/>
<rect x="122.1" y="332.05" width="7.29" height="7.75" fill="#e2e2e2"/>
<rect x="130.39" y="332.05" width="7.29" height="7.75" fill="#e2e2e2"/>
<rect x="138.68" y="332.05" width="7.29" height="7.75" fill="#e2e2e2"/>
<rect x="146.97" y="332.05" width="7.29" height="7.75" fill="#e2e2e2"/>
<rect x="155.26" y="332.05" width="7.29" height="7.75" fill="#e2e2e2"/>
<rect x="163.55" y="332.05" width="7.29" height="7.75" fill="#e2e2e2"/>
<rect x="171.84" y="332.05" width="7.29" height="7.75" fill="#e2e2e2"/>
<rect x="180.13" y="332.05" width="7.29" height="7.75" fill="#e2e2e2"/>
<rect x="188.42" y="332.05" width="7.29" height="7.75" fill="#104b7f"/>
<rect x="196.71" y="332.05" width="7.29" height="7.75" fill="#26a2e0"/>
<rect x="205" y="332.05" width="7.29" height="7.75" fill="#e2e2e2"/>
<rect x="213.29" y="332.05" width="7.29" height="7.75" fill="#e2e2e2"/>
<rect x="221.58" y="332.05" width="7.29" height="7.75" fill="#e2e2e2"/>
<rect x="229.87" y="332.05" width="7.29" height="7.75" fill="#e2e2e2"/>
<rect x="238.16" y="332.05" width="7.29" height="7.75" fill="#e2e2e2"/>
<rect x="246.45" y="332.05" width="7.29" height="7.75" fill="#c8113a"/>
<text font-size="5.3" fill="#231f20" text-anchor="end" transform="translate(37.7 337.77)">KCNT1</text>
<rect x="39.2" y="340.7" width="7.29" height="7.75" fill="#e2e2e2"/>
<rect x="47.49" y="340.7" width="7.29" height="7.75" fill="#e2e2e2"/>
<rect x="55.78" y="340.7" width="7.29" height="7.75" fill="#e2e2e2"/>
<rect x="64.07" y="340.7" width="7.29" height="7.75" fill="#e2e2e2"/>
<rect x="72.36" y="340.7" width="7.29" height="7.75" fill="#e2e2e2"/>
<rect x="80.65" y="340.7" width="7.29" height="7.75" fill="#e2e2e2"/>
<rect x="88.94" y="340.7" width="7.29" height="7.75" fill="#e2e2e2"/>
<rect x="97.23" y="340.7" width="7.29" height="7.75" fill="#e2e2e2"/>
<rect x="105.52" y="340.7" width="7.29" height="7.75" fill="#e2e2e2"/>
<rect x="113.81" y="340.7" width="7.29" height="7.75" fill="#e2e2e2"/>
<rect x="122.1" y="340.7" width="7.29" height="7.75" fill="#e2e2e2"/>
<rect x="130.39" y="340.7" width="7.29" height="7.75" fill="#e2e2e2"/>
<rect x="138.68" y="340.7" width="7.29" height="7.75" fill="#e2e2e2"/>
<rect x="146.97" y="340.7" width="7.29" height="7.75" fill="#e2e2e2"/>
<rect x="155.26" y="340.7" width="7.29" height="7.75" fill="#e2e2e2"/>
<rect x="163.55" y="340.7" width="7.29" height="7.75" fill="#e2e2e2"/>
<rect x="171.84" y="340.7" width="7.29" height="7.75" fill="#e2e2e2"/>
<rect x="180.13" y="340.7" width="7.29" height="7.75" fill="#e2e2e2"/>
<rect x="188.42" y="340.7" width="7.29" height="7.75" fill="#e2e2e2"/>
<rect x="196.71" y="340.7" width="7.29" height="7.75" fill="#e2e2e2"/>
<rect x="205" y="340.7" width="7.29" height="7.75" fill="#e2e2e2"/>
<rect x="213.29" y="340.7" width="7.29" height="7.75" fill="#e2e2e2"/>
<rect x="221.58" y="340.7" width="7.29" height="7.75" fill="#c8113a"/>
<rect x="229.87" y="340.7" width="7.29" height="7.75" fill="#c8113a"/>
<rect x="238.16" y="340.7" width="7.29" height="7.75" fill="#e2e2e2"/>
<rect x="246.45" y="340.7" width="7.29" height="7.75" fill="#c8113a"/>
<text font-size="5.3" fill="#231f20" text-anchor="end" transform="translate(37.7 346.43)">ADAM33</text>
<rect x="39.2" y="349.35" width="7.29" height="7.75" fill="#e2e2e2"/>
<rect x="47.49" y="349.35" width="7.29" height="7.75" fill="#e2e2e2"/>
<rect x="55.78" y="349.35" width="7.29" height="7.75" fill="#e2e2e2"/>
<rect x="64.07" y="349.35" width="7.29" height="7.75" fill="#e2e2e2"/>
<rect x="72.36" y="349.35" width="7.29" height="7.75" fill="#e2e2e2"/>
<rect x="80.65" y="349.35" width="7.29" height="7.75" fill="#e2e2e2"/>
<rect x="88.94" y="349.35" width="7.29" height="7.75" fill="#e2e2e2"/>
<rect x="97.23" y="349.35" width="7.29" height="7.75" fill="#c8113a"/>
<rect x="105.52" y="349.35" width="7.29" height="7.75" fill="#e2e2e2"/>
<rect x="113.81" y="349.35" width="7.29" height="7.75" fill="#e2e2e2"/>
<rect x="122.1" y="349.35" width="7.29" height="7.75" fill="#e2e2e2"/>
<rect x="130.39" y="349.35" width="7.29" height="7.75" fill="#e2e2e2"/>
<rect x="138.68" y="349.35" width="7.29" height="7.75" fill="#e2e2e2"/>
<rect x="146.97" y="349.35" width="7.29" height="7.75" fill="#e2e2e2"/>
<rect x="155.26" y="349.35" width="7.29" height="7.75" fill="#e2e2e2"/>
<rect x="163.55" y="349.35" width="7.29" height="7.75" fill="#104b7f"/>
<rect x="171.84" y="349.35" width="7.29" height="7.75" fill="#e2e2e2"/>
<rect x="180.13" y="349.35" width="7.29" height="7.75" fill="#26a2e0"/>
<rect x="188.42" y="349.35" width="7.29" height="7.75" fill="#e2e2e2"/>
<rect x="196.71" y="349.35" width="7.29" height="7.75" fill="#e2e2e2"/>
<rect x="205" y="349.35" width="7.29" height="7.75" fill="#e2e2e2"/>
<rect x="213.29" y="349.35" width="7.29" height="7.75" fill="#e2e2e2"/>
<rect x="221.58" y="349.35" width="7.29" height="7.75" fill="#e2e2e2"/>
<rect x="229.87" y="349.35" width="7.29" height="7.75" fill="#e2e2e2"/>
<rect x="238.16" y="349.35" width="7.29" height="7.75" fill="#e2e2e2"/>
<rect x="246.45" y="349.35" width="7.29" height="7.75" fill="#e2e2e2"/>
<text font-size="5.3" fill="#231f20" text-anchor="end" transform="translate(37.7 355.08)">BAIAP3</text>
<rect x="39.2" y="358.01" width="7.29" height="7.75" fill="#e2e2e2"/>
<rect x="47.49" y="358.01" width="7.29" height="7.75" fill="#e2e2e2"/>
<rect x="55.78" y="358.01" width="7.29" height="7.75" fill="#e2e2e2"/>
<rect x="64.07" y="358.01" width="7.29" height="7.75" fill="#e2e2e2"/>
<rect x="72.36" y="358.01" width="7.29" height="7.75" fill="#e2e2e2"/>
<rect x="80.65" y="358.01" width="7.29" height="7.75" fill="#e2e2e2"/>
<rect x="88.94" y="358.01" width="7.29" height="7.75" fill="#e2e2e2"/>
<rect x="97.23" y="358.01" width="7.29" height="7.75" fill="#e2e2e2"/>
<rect x="105.52" y="358.01" width="7.29" height="7.75" fill="#e2e2e2"/>
<rect x="113.81" y="358.01" width="7.29" height="7.75" fill="#e2e2e2"/>
<rect x="122.1" y="358.01" width="7.29" height="7.75" fill="#e2e2e2"/>
<rect x="130.39" y="358.01" width="7.29" height="7.75" fill="#e2e2e2"/>
<rect x="138.68" y="358.01" width="7.29" height="7.75" fill="#e2e2e2"/>
<rect x="146.97" y="358.01" width="7.29" height="7.75" fill="#e2e2e2"/>
<rect x="155.26" y="358.01" width="7.29" height="7.75" fill="#e2e2e2"/>
<rect x="163.55" y="358.01" width="7.29" height="7.75" fill="#26a2e0"/>
<rect x="171.84" y="358.01" width="7.29" height="7.75" fill="#e2e2e2"/>
<rect x="180.13" y="358.01" width="7.29" height="7.75" fill="#e2e2e2"/>
<rect x="188.42" y="358.01" width="7.29" height="7.75" fill="#e2e2e2"/>
<rect x="196.71" y="358.01" width="7.29" height="7.75" fill="#e2e2e2"/>
<rect x="205" y="358.01" width="7.29" height="7.75" fill="#6a3a16"/>
<rect x="213.29" y="358.01" width="7.29" height="7.75" fill="#6a3a16"/>
<rect x="221.58" y="358.01" width="7.29" height="7.75" fill="#e2e2e2"/>
<rect x="229.87" y="358.01" width="7.29" height="7.75" fill="#e2e2e2"/>
<rect x="238.16" y="358.01" width="7.29" height="7.75" fill="#e2e2e2"/>
<rect x="246.45" y="358.01" width="7.29" height="7.75" fill="#e2e2e2"/>
<text font-size="5.3" fill="#231f20" text-anchor="end" transform="translate(37.7 363.73)">DSPP</text>
<rect x="39.2" y="366.66" width="7.29" height="7.75" fill="#e2e2e2"/>
<rect x="47.49" y="366.66" width="7.29" height="7.75" fill="#104b7f"/>
<rect x="55.78" y="366.66" width="7.29" height="7.75" fill="#e2e2e2"/>
<rect x="64.07" y="366.66" width="7.29" height="7.75" fill="#e2e2e2"/>
<rect x="72.36" y="366.66" width="7.29" height="7.75" fill="#e2e2e2"/>
<rect x="80.65" y="366.66" width="7.29" height="7.75" fill="#e2e2e2"/>
<rect x="88.94" y="366.66" width="7.29" height="7.75" fill="#e2e2e2"/>
<rect x="97.23" y="366.66" width="7.29" height="7.75" fill="#e2e2e2"/>
<rect x="105.52" y="366.66" width="7.29" height="7.75" fill="#e2e2e2"/>
<rect x="113.81" y="366.66" width="7.29" height="7.75" fill="#e2e2e2"/>
<rect x="122.1" y="366.66" width="7.29" height="7.75" fill="#e2e2e2"/>
<rect x="130.39" y="366.66" width="7.29" height="7.75" fill="#e2e2e2"/>
<rect x="138.68" y="366.66" width="7.29" height="7.75" fill="#e2e2e2"/>
<rect x="146.97" y="366.66" width="7.29" height="7.75" fill="#e2e2e2"/>
<rect x="155.26" y="366.66" width="7.29" height="7.75" fill="#e2e2e2"/>
<rect x="163.55" y="366.66" width="7.29" height="7.75" fill="#104b7f"/>
<rect x="171.84" y="366.66" width="7.29" height="7.75" fill="#e2e2e2"/>
<rect x="180.13" y="366.66" width="7.29" height="7.75" fill="#26a2e0"/>
<rect x="188.42" y="366.66" width="7.29" height="7.75" fill="#e2e2e2"/>
<rect x="196.71" y="366.66" width="7.29" height="7.75" fill="#e2e2e2"/>
<rect x="205" y="366.66" width="7.29" height="7.75" fill="#e2e2e2"/>
<rect x="213.29" y="366.66" width="7.29" height="7.75" fill="#e2e2e2"/>
<rect x="221.58" y="366.66" width="7.29" height="7.75" fill="#e2e2e2"/>
<rect x="229.87" y="366.66" width="7.29" height="7.75" fill="#e2e2e2"/>
<rect x="238.16" y="366.66" width="7.29" height="7.75" fill="#e2e2e2"/>
<rect x="246.45" y="366.66" width="7.29" height="7.75" fill="#e2e2e2"/>
<text font-size="5.3" fill="#231f20" text-anchor="end" transform="translate(37.7 372.38)">FAT1</text>
<rect x="39.2" y="375.31" width="7.29" height="7.75" fill="#e2e2e2"/>
<rect x="47.49" y="375.31" width="7.29" height="7.75" fill="#e2e2e2"/>
<rect x="55.78" y="375.31" width="7.29" height="7.75" fill="#26a2e0"/>
<rect x="64.07" y="375.31" width="7.29" height="7.75" fill="#e2e2e2"/>
<rect x="72.36" y="375.31" width="7.29" height="7.75" fill="#26a2e0"/>
<rect x="80.65" y="375.31" width="7.29" height="7.75" fill="#e2e2e2"/>
<rect x="88.94" y="375.31" width="7.29" height="7.75" fill="#e2e2e2"/>
<rect x="97.23" y="375.31" width="7.29" height="7.75" fill="#e2e2e2"/>
<rect x="105.52" y="375.31" width="7.29" height="7.75" fill="#e2e2e2"/>
<rect x="113.81" y="375.31" width="7.29" height="7.75" fill="#e2e2e2"/>
<rect x="122.1" y="375.31" width="7.29" height="7.75" fill="#e2e2e2"/>
<rect x="130.39" y="375.31" width="7.29" height="7.75" fill="#e2e2e2"/>
<rect x="138.68" y="375.31" width="7.29" height="7.75" fill="#e2e2e2"/>
<rect x="146.97" y="375.31" width="7.29" height="7.75" fill="#e2e2e2"/>
<rect x="155.26" y="375.31" width="7.29" height="7.75" fill="#e2e2e2"/>
<rect x="163.55" y="375.31" width="7.29" height="7.75" fill="#e2e2e2"/>
<rect x="171.84" y="375.31" width="7.29" height="7.75" fill="#e2e2e2"/>
<rect x="180.13" y="375.31" width="7.29" height="7.75" fill="#26a2e0"/>
<rect x="188.42" y="375.31" width="7.29" height="7.75" fill="#e2e2e2"/>
<rect x="196.71" y="375.31" width="7.29" height="7.75" fill="#e2e2e2"/>
<rect x="205" y="375.31" width="7.29" height="7.75" fill="#e2e2e2"/>
<rect x="213.29" y="375.31" width="7.29" height="7.75" fill="#e2e2e2"/>
<rect x="221.58" y="375.31" width="7.29" height="7.75" fill="#e2e2e2"/>
<rect x="229.87" y="375.31" width="7.29" height="7.75" fill="#e2e2e2"/>
<rect x="238.16" y="375.31" width="7.29" height="7.75" fill="#e2e2e2"/>
<rect x="246.45" y="375.31" width="7.29" height="7.75" fill="#e2e2e2"/>
<text font-size="5.3" fill="#231f20" text-anchor="end" transform="translate(37.7 381.04)">PCDH15</text>
<rect x="39.2" y="383.96" width="7.29" height="7.75" fill="#e2e2e2"/>
<rect x="47.49" y="383.96" width="7.29" height="7.75" fill="#e2e2e2"/>
<rect x="55.78" y="383.96" width="7.29" height="7.75" fill="#e2e2e2"/>
<rect x="64.07" y="383.96" width="7.29" height="7.75" fill="#e2e2e2"/>
<rect x="72.36" y="383.96" width="7.29" height="7.75" fill="#e2e2e2"/>
<rect x="80.65" y="383.96" width="7.29" height="7.75" fill="#e2e2e2"/>
<rect x="88.94" y="383.96" width="7.29" height="7.75" fill="#e2e2e2"/>
<rect x="97.23" y="383.96" width="7.29" height="7.75" fill="#e2e2e2"/>
<rect x="105.52" y="383.96" width="7.29" height="7.75" fill="#e2e2e2"/>
<rect x="113.81" y="383.96" width="7.29" height="7.75" fill="#e2e2e2"/>
<rect x="122.1" y="383.96" width="7.29" height="7.75" fill="#e2e2e2"/>
<rect x="130.39" y="383.96" width="7.29" height="7.75" fill="#e2e2e2"/>
<rect x="138.68" y="383.96" width="7.29" height="7.75" fill="#e2e2e2"/>
<rect x="146.97" y="383.96" width="7.29" height="7.75" fill="#e2e2e2"/>
<rect x="155.26" y="383.96" width="7.29" height="7.75" fill="#e2e2e2"/>
<rect x="163.55" y="383.96" width="7.29" height="7.75" fill="#104b7f"/>
<rect x="171.84" y="383.96" width="7.29" height="7.75" fill="#e2e2e2"/>
<rect x="180.13" y="383.96" width="7.29" height="7.75" fill="#e2e2e2"/>
<rect x="188.42" y="383.96" width="7.29" height="7.75" fill="#e2e2e2"/>
<rect x="196.71" y="383.96" width="7.29" height="7.75" fill="#e2e2e2"/>
<rect x="205" y="383.96" width="7.29" height="7.75" fill="#e2e2e2"/>
<rect x="213.29" y="383.96" width="7.29" height="7.75" fill="#e2e2e2"/>
<rect x="221.58" y="383.96" width="7.29" height="7.75" fill="#26a2e0"/>
<rect x="229.87" y="383.96" width="7.29" height="7.75" fill="#e2e2e2"/>
<rect x="238.16" y="383.96" width="7.29" height="7.75" fill="#e2e2e2"/>
<rect x="246.45" y="383.96" width="7.29" height="7.75" fill="#e2e2e2"/>
<text font-size="5.3" fill="#231f20" text-anchor="end" transform="translate(37.7 389.69)">FAT4</text>
<rect x="39.2" y="392.62" width="7.29" height="7.75" fill="#e2e2e2"/>
<rect x="47.49" y="392.62" width="7.29" height="7.75" fill="#e2e2e2"/>
<rect x="55.78" y="392.62" width="7.29" height="7.75" fill="#e2e2e2"/>
<rect x="64.07" y="392.62" width="7.29" height="7.75" fill="#e2e2e2"/>
<rect x="72.36" y="392.62" width="7.29" height="7.75" fill="#e2e2e2"/>
<rect x="80.65" y="392.62" width="7.29" height="7.75" fill="#e2e2e2"/>
<rect x="88.94" y="392.62" width="7.29" height="7.75" fill="#e2e2e2"/>
<rect x="97.23" y="392.62" width="7.29" height="7.75" fill="#e2e2e2"/>
<rect x="105.52" y="392.62" width="7.29" height="7.75" fill="#e2e2e2"/>
<rect x="113.81" y="392.62" width="7.29" height="7.75" fill="#e2e2e2"/>
<rect x="122.1" y="392.62" width="7.29" height="7.75" fill="#e2e2e2"/>
<rect x="130.39" y="392.62" width="7.29" height="7.75" fill="#e2e2e2"/>
<rect x="138.68" y="392.62" width="7.29" height="7.75" fill="#e2e2e2"/>
<rect x="146.97" y="392.62" width="7.29" height="7.75" fill="#e2e2e2"/>
<rect x="155.26" y="392.62" width="7.29" height="7.75" fill="#e2e2e2"/>
<rect x="163.55" y="392.62" width="7.29" height="7.75" fill="#26a2e0"/>
<rect x="171.84" y="392.62" width="7.29" height="7.75" fill="#e2e2e2"/>
<rect x="180.13" y="392.62" width="7.29" height="7.75" fill="#26a2e0"/>
<rect x="188.42" y="392.62" width="7.29" height="7.75" fill="#e2e2e2"/>
<rect x="196.71" y="392.62" width="7.29" height="7.75" fill="#e2e2e2"/>
<rect x="205" y="392.62" width="7.29" height="7.75" fill="#e2e2e2"/>
<rect x="213.29" y="392.62" width="7.29" height="7.75" fill="#e2e2e2"/>
<rect x="221.58" y="392.62" width="7.29" height="7.75" fill="#e2e2e2"/>
<rect x="229.87" y="392.62" width="7.29" height="7.75" fill="#e2e2e2"/>
<rect x="238.16" y="392.62" width="7.29" height="7.75" fill="#e2e2e2"/>
<rect x="246.45" y="392.62" width="7.29" height="7.75" fill="#e2e2e2"/>
<text font-size="5.3" fill="#231f20" text-anchor="end" transform="translate(37.7 398.34)">PCDHB13</text>
<rect x="39.2" y="401.27" width="7.29" height="7.75" fill="#e2e2e2"/>
<rect x="47.49" y="401.27" width="7.29" height="7.75" fill="#e2e2e2"/>
<rect x="55.78" y="401.27" width="7.29" height="7.75" fill="#e2e2e2"/>
<rect x="64.07" y="401.27" width="7.29" height="7.75" fill="#e2e2e2"/>
<rect x="72.36" y="401.27" width="7.29" height="7.75" fill="#e2e2e2"/>
<rect x="80.65" y="401.27" width="7.29" height="7.75" fill="#e2e2e2"/>
<rect x="88.94" y="401.27" width="7.29" height="7.75" fill="#e2e2e2"/>
<rect x="97.23" y="401.27" width="7.29" height="7.75" fill="#e2e2e2"/>
<rect x="105.52" y="401.27" width="7.29" height="7.75" fill="#e2e2e2"/>
<rect x="113.81" y="401.27" width="7.29" height="7.75" fill="#e2e2e2"/>
<rect x="122.1" y="401.27" width="7.29" height="7.75" fill="#e2e2e2"/>
<rect x="130.39" y="401.27" width="7.29" height="7.75" fill="#e2e2e2"/>
<rect x="138.68" y="401.27" width="7.29" height="7.75" fill="#e2e2e2"/>
<rect x="146.97" y="401.27" width="7.29" height="7.75" fill="#e2e2e2"/>
<rect x="155.26" y="401.27" width="7.29" height="7.75" fill="#e2e2e2"/>
<rect x="163.55" y="401.27" width="7.29" height="7.75" fill="#104b7f"/>
<rect x="171.84" y="401.27" width="7.29" height="7.75" fill="#e2e2e2"/>
<rect x="180.13" y="401.27" width="7.29" height="7.75" fill="#e2e2e2"/>
<rect x="188.42" y="401.27" width="7.29" height="7.75" fill="#e2e2e2"/>
<rect x="196.71" y="401.27" width="7.29" height="7.75" fill="#e2e2e2"/>
<rect x="205" y="401.27" width="7.29" height="7.75" fill="#e2e2e2"/>
<rect x="213.29" y="401.27" width="7.29" height="7.75" fill="#e2e2e2"/>
<rect x="221.58" y="401.27" width="7.29" height="7.75" fill="#e2e2e2"/>
<rect x="229.87" y="401.27" width="7.29" height="7.75" fill="#e2e2e2"/>
<rect x="238.16" y="401.27" width="7.29" height="7.75" fill="#e2e2e2"/>
<rect x="246.45" y="401.27" width="7.29" height="7.75" fill="#e2e2e2"/>
<text font-size="5.3" fill="#231f20" text-anchor="end" transform="translate(37.7 407)">CDH11</text>
<rect x="39.2" y="409.92" width="7.29" height="7.75" fill="#e2e2e2"/>
<rect x="47.49" y="409.92" width="7.29" height="7.75" fill="#e2e2e2"/>
<rect x="55.78" y="409.92" width="7.29" height="7.75" fill="#e2e2e2"/>
<rect x="64.07" y="409.92" width="7.29" height="7.75" fill="#e2e2e2"/>
<rect x="72.36" y="409.92" width="7.29" height="7.75" fill="#e2e2e2"/>
<rect x="80.65" y="409.92" width="7.29" height="7.75" fill="#e2e2e2"/>
<rect x="88.94" y="409.92" width="7.29" height="7.75" fill="#e2e2e2"/>
<rect x="97.23" y="409.92" width="7.29" height="7.75" fill="#e2e2e2"/>
<rect x="105.52" y="409.92" width="7.29" height="7.75" fill="#e2e2e2"/>
<rect x="113.81" y="409.92" width="7.29" height="7.75" fill="#e2e2e2"/>
<rect x="122.1" y="409.92" width="7.29" height="7.75" fill="#e2e2e2"/>
<rect x="130.39" y="409.92" width="7.29" height="7.75" fill="#e2e2e2"/>
<rect x="138.68" y="409.92" width="7.29" height="7.75" fill="#e2e2e2"/>
<rect x="146.97" y="409.92" width="7.29" height="7.75" fill="#e2e2e2"/>
<rect x="155.26" y="409.92" width="7.29" height="7.75" fill="#e2e2e2"/>
<rect x="163.55" y="409.92" width="7.29" height="7.75" fill="#104b7f"/>
<rect x="171.84" y="409.92" width="7.29" height="7.75" fill="#e2e2e2"/>
<rect x="180.13" y="409.92" width="7.29" height="7.75" fill="#e2e2e2"/>
<rect x="188.42" y="409.92" width="7.29" height="7.75" fill="#e2e2e2"/>
<rect x="196.71" y="409.92" width="7.29" height="7.75" fill="#e2e2e2"/>
<rect x="205" y="409.92" width="7.29" height="7.75" fill="#e2e2e2"/>
<rect x="213.29" y="409.92" width="7.29" height="7.75" fill="#e2e2e2"/>
<rect x="221.58" y="409.92" width="7.29" height="7.75" fill="#e2e2e2"/>
<rect x="229.87" y="409.92" width="7.29" height="7.75" fill="#e2e2e2"/>
<rect x="238.16" y="409.92" width="7.29" height="7.75" fill="#e2e2e2"/>
<rect x="246.45" y="409.92" width="7.29" height="7.75" fill="#e2e2e2"/>
<text font-size="5.3" fill="#231f20" text-anchor="end" transform="translate(37.7 415.65)">CDH22</text>
<text font-size="8.8" fill="#231f20" text-anchor="middle" transform="translate(7.6 370.53) rotate(-90) scale(0.767 1)" stroke="#231f20" stroke-width="0.12">Microenvironment</text>
<rect x="39.1" y="420.13" width="214.74" height="34.61" fill="#f2f2f2"/>
<rect x="39.2" y="420.58" width="7.29" height="7.75" fill="#26a2e0"/>
<rect x="47.49" y="420.58" width="7.29" height="7.75" fill="#26a2e0"/>
<rect x="55.78" y="420.58" width="7.29" height="7.75" fill="#e2e2e2"/>
<rect x="64.07" y="420.58" width="7.29" height="7.75" fill="#e2e2e2"/>
<rect x="72.36" y="420.58" width="7.29" height="7.75" fill="#e2e2e2"/>
<rect x="80.65" y="420.58" width="7.29" height="7.75" fill="#e2e2e2"/>
<rect x="88.94" y="420.58" width="7.29" height="7.75" fill="#e2e2e2"/>
<rect x="97.23" y="420.58" width="7.29" height="7.75" fill="#e2e2e2"/>
<rect x="105.52" y="420.58" width="7.29" height="7.75" fill="#26a2e0"/>
<rect x="113.81" y="420.58" width="7.29" height="7.75" fill="#e2e2e2"/>
<rect x="122.1" y="420.58" width="7.29" height="7.75" fill="#e2e2e2"/>
<rect x="130.39" y="420.58" width="7.29" height="7.75" fill="#26a2e0"/>
<rect x="138.68" y="420.58" width="7.29" height="7.75" fill="#26a2e0"/>
<rect x="146.97" y="420.58" width="7.29" height="7.75" fill="#e2e2e2"/>
<rect x="155.26" y="420.58" width="7.29" height="7.75" fill="#e2e2e2"/>
<rect x="163.55" y="420.58" width="7.29" height="7.75" fill="#e2e2e2"/>
<rect x="171.84" y="420.58" width="7.29" height="7.75" fill="#e2e2e2"/>
<rect x="180.13" y="420.58" width="7.29" height="7.75" fill="#e2e2e2"/>
<rect x="188.42" y="420.58" width="7.29" height="7.75" fill="#26a2e0"/>
<rect x="196.71" y="420.58" width="7.29" height="7.75" fill="#e2e2e2"/>
<rect x="205" y="420.58" width="7.29" height="7.75" fill="#e2e2e2"/>
<rect x="213.29" y="420.58" width="7.29" height="7.75" fill="#e2e2e2"/>
<rect x="221.58" y="420.58" width="7.29" height="7.75" fill="#e2e2e2"/>
<rect x="229.87" y="420.58" width="7.29" height="7.75" fill="#e2e2e2"/>
<rect x="238.16" y="420.58" width="7.29" height="7.75" fill="#e2e2e2"/>
<rect x="246.45" y="420.58" width="7.29" height="7.75" fill="#e2e2e2"/>
<text font-size="5.3" fill="#231f20" text-anchor="end" transform="translate(37.7 426.3)">PABPC1</text>
<rect x="39.2" y="429.23" width="7.29" height="7.75" fill="#e2e2e2"/>
<rect x="47.49" y="429.23" width="7.29" height="7.75" fill="#e2e2e2"/>
<rect x="55.78" y="429.23" width="7.29" height="7.75" fill="#e2e2e2"/>
<rect x="64.07" y="429.23" width="7.29" height="7.75" fill="#e2e2e2"/>
<rect x="72.36" y="429.23" width="7.29" height="7.75" fill="#e2e2e2"/>
<rect x="80.65" y="429.23" width="7.29" height="7.75" fill="#e2e2e2"/>
<rect x="88.94" y="429.23" width="7.29" height="7.75" fill="#e2e2e2"/>
<rect x="97.23" y="429.23" width="7.29" height="7.75" fill="#e2e2e2"/>
<rect x="105.52" y="429.23" width="7.29" height="7.75" fill="#e2e2e2"/>
<rect x="113.81" y="429.23" width="7.29" height="7.75" fill="#e2e2e2"/>
<rect x="122.1" y="429.23" width="7.29" height="7.75" fill="#e2e2e2"/>
<rect x="130.39" y="429.23" width="7.29" height="7.75" fill="#26a2e0"/>
<rect x="138.68" y="429.23" width="7.29" height="7.75" fill="#e2e2e2"/>
<rect x="146.97" y="429.23" width="7.29" height="7.75" fill="#e2e2e2"/>
<rect x="155.26" y="429.23" width="7.29" height="7.75" fill="#e2e2e2"/>
<rect x="163.55" y="429.23" width="7.29" height="7.75" fill="#26a2e0"/>
<rect x="171.84" y="429.23" width="7.29" height="7.75" fill="#26a2e0"/>
<rect x="180.13" y="429.23" width="7.29" height="7.75" fill="#26a2e0"/>
<rect x="188.42" y="429.23" width="7.29" height="7.75" fill="#e2e2e2"/>
<rect x="196.71" y="429.23" width="7.29" height="7.75" fill="#26a2e0"/>
<rect x="205" y="429.23" width="7.29" height="7.75" fill="#e2e2e2"/>
<rect x="213.29" y="429.23" width="7.29" height="7.75" fill="#e2e2e2"/>
<rect x="221.58" y="429.23" width="7.29" height="7.75" fill="#e2e2e2"/>
<rect x="229.87" y="429.23" width="7.29" height="7.75" fill="#e2e2e2"/>
<rect x="238.16" y="429.23" width="7.29" height="7.75" fill="#e2e2e2"/>
<rect x="246.45" y="429.23" width="7.29" height="7.75" fill="#e2e2e2"/>
<text font-size="5.3" fill="#231f20" text-anchor="end" transform="translate(37.7 434.96)">BCLAF1</text>
<rect x="39.2" y="437.88" width="7.29" height="7.75" fill="#e2e2e2"/>
<rect x="47.49" y="437.88" width="7.29" height="7.75" fill="#104b7f"/>
<rect x="55.78" y="437.88" width="7.29" height="7.75" fill="#e2e2e2"/>
<rect x="64.07" y="437.88" width="7.29" height="7.75" fill="#e2e2e2"/>
<rect x="72.36" y="437.88" width="7.29" height="7.75" fill="#e2e2e2"/>
<rect x="80.65" y="437.88" width="7.29" height="7.75" fill="#e2e2e2"/>
<rect x="88.94" y="437.88" width="7.29" height="7.75" fill="#e2e2e2"/>
<rect x="97.23" y="437.88" width="7.29" height="7.75" fill="#e2e2e2"/>
<rect x="105.52" y="437.88" width="7.29" height="7.75" fill="#e2e2e2"/>
<rect x="113.81" y="437.88" width="7.29" height="7.75" fill="#e2e2e2"/>
<rect x="122.1" y="437.88" width="7.29" height="7.75" fill="#e2e2e2"/>
<rect x="130.39" y="437.88" width="7.29" height="7.75" fill="#e2e2e2"/>
<rect x="138.68" y="437.88" width="7.29" height="7.75" fill="#e2e2e2"/>
<rect x="146.97" y="437.88" width="7.29" height="7.75" fill="#e2e2e2"/>
<rect x="155.26" y="437.88" width="7.29" height="7.75" fill="#e2e2e2"/>
<rect x="163.55" y="437.88" width="7.29" height="7.75" fill="#104b7f"/>
<rect x="171.84" y="437.88" width="7.29" height="7.75" fill="#e2e2e2"/>
<rect x="180.13" y="437.88" width="7.29" height="7.75" fill="#e2e2e2"/>
<rect x="188.42" y="437.88" width="7.29" height="7.75" fill="#e2e2e2"/>
<rect x="196.71" y="437.88" width="7.29" height="7.75" fill="#e2e2e2"/>
<rect x="205" y="437.88" width="7.29" height="7.75" fill="#e2e2e2"/>
<rect x="213.29" y="437.88" width="7.29" height="7.75" fill="#e2e2e2"/>
<rect x="221.58" y="437.88" width="7.29" height="7.75" fill="#e2e2e2"/>
<rect x="229.87" y="437.88" width="7.29" height="7.75" fill="#e2e2e2"/>
<rect x="238.16" y="437.88" width="7.29" height="7.75" fill="#e2e2e2"/>
<rect x="246.45" y="437.88" width="7.29" height="7.75" fill="#e2e2e2"/>
<text font-size="5.3" fill="#231f20" text-anchor="end" transform="translate(37.7 443.61)">DHX36</text>
<rect x="39.2" y="446.54" width="7.29" height="7.75" fill="#e2e2e2"/>
<rect x="47.49" y="446.54" width="7.29" height="7.75" fill="#e2e2e2"/>
<rect x="55.78" y="446.54" width="7.29" height="7.75" fill="#e2e2e2"/>
<rect x="64.07" y="446.54" width="7.29" height="7.75" fill="#e2e2e2"/>
<rect x="72.36" y="446.54" width="7.29" height="7.75" fill="#e2e2e2"/>
<rect x="80.65" y="446.54" width="7.29" height="7.75" fill="#e2e2e2"/>
<rect x="88.94" y="446.54" width="7.29" height="7.75" fill="#e2e2e2"/>
<rect x="97.23" y="446.54" width="7.29" height="7.75" fill="#26a2e0"/>
<rect x="105.52" y="446.54" width="7.29" height="7.75" fill="#e2e2e2"/>
<rect x="113.81" y="446.54" width="7.29" height="7.75" fill="#e2e2e2"/>
<rect x="122.1" y="446.54" width="7.29" height="7.75" fill="#e2e2e2"/>
<rect x="130.39" y="446.54" width="7.29" height="7.75" fill="#e2e2e2"/>
<rect x="138.68" y="446.54" width="7.29" height="7.75" fill="#26a2e0"/>
<rect x="146.97" y="446.54" width="7.29" height="7.75" fill="#e2e2e2"/>
<rect x="155.26" y="446.54" width="7.29" height="7.75" fill="#e2e2e2"/>
<rect x="163.55" y="446.54" width="7.29" height="7.75" fill="#e2e2e2"/>
<rect x="171.84" y="446.54" width="7.29" height="7.75" fill="#e2e2e2"/>
<rect x="180.13" y="446.54" width="7.29" height="7.75" fill="#e2e2e2"/>
<rect x="188.42" y="446.54" width="7.29" height="7.75" fill="#e2e2e2"/>
<rect x="196.71" y="446.54" width="7.29" height="7.75" fill="#e2e2e2"/>
<rect x="205" y="446.54" width="7.29" height="7.75" fill="#e2e2e2"/>
<rect x="213.29" y="446.54" width="7.29" height="7.75" fill="#e2e2e2"/>
<rect x="221.58" y="446.54" width="7.29" height="7.75" fill="#e2e2e2"/>
<rect x="229.87" y="446.54" width="7.29" height="7.75" fill="#e2e2e2"/>
<rect x="238.16" y="446.54" width="7.29" height="7.75" fill="#e2e2e2"/>
<rect x="246.45" y="446.54" width="7.29" height="7.75" fill="#e2e2e2"/>
<text font-size="5.3" fill="#231f20" text-anchor="end" transform="translate(37.7 452.26)">ZNF729</text>
<text font-size="8.8" fill="#231f20" text-anchor="middle" transform="translate(7.6 438.73) rotate(-90) scale(0.767 1)" stroke="#231f20" stroke-width="0.12">Nucleic acids</text>
<rect x="39.1" y="456.74" width="214.74" height="77.88" fill="#f2f2f2"/>
<rect x="39.2" y="457.19" width="7.29" height="7.75" fill="#e2e2e2"/>
<rect x="47.49" y="457.19" width="7.29" height="7.75" fill="#e2e2e2"/>
<rect x="55.78" y="457.19" width="7.29" height="7.75" fill="#e2e2e2"/>
<rect x="64.07" y="457.19" width="7.29" height="7.75" fill="#e2e2e2"/>
<rect x="72.36" y="457.19" width="7.29" height="7.75" fill="#e2e2e2"/>
<rect x="80.65" y="457.19" width="7.29" height="7.75" fill="#e2e2e2"/>
<rect x="88.94" y="457.19" width="7.29" height="7.75" fill="#e2e2e2"/>
<rect x="97.23" y="457.19" width="7.29" height="7.75" fill="#e2e2e2"/>
<rect x="105.52" y="457.19" width="7.29" height="7.75" fill="#e2e2e2"/>
<rect x="113.81" y="457.19" width="7.29" height="7.75" fill="#e2e2e2"/>
<rect x="122.1" y="457.19" width="7.29" height="7.75" fill="#e2e2e2"/>
<rect x="130.39" y="457.19" width="7.29" height="7.75" fill="#e2e2e2"/>
<rect x="138.68" y="457.19" width="7.29" height="7.75" fill="#e2e2e2"/>
<rect x="146.97" y="457.19" width="7.29" height="7.75" fill="#e2e2e2"/>
<rect x="155.26" y="457.19" width="7.29" height="7.75" fill="#e2e2e2"/>
<rect x="163.55" y="457.19" width="7.29" height="7.75" fill="#e2e2e2"/>
<rect x="171.84" y="457.19" width="7.29" height="7.75" fill="#e2e2e2"/>
<rect x="180.13" y="457.19" width="7.29" height="7.75" fill="#e2e2e2"/>
<rect x="188.42" y="457.19" width="7.29" height="7.75" fill="#e2e2e2"/>
<rect x="196.71" y="457.19" width="7.29" height="7.75" fill="#e2e2e2"/>
<rect x="205" y="457.19" width="7.29" height="7.75" fill="#104b7f"/>
<rect x="213.29" y="457.19" width="7.29" height="7.75" fill="#104b7f"/>
<rect x="221.58" y="457.19" width="7.29" height="7.75" fill="#e2e2e2"/>
<rect x="229.87" y="457.19" width="7.29" height="7.75" fill="#e2e2e2"/>
<rect x="238.16" y="457.19" width="7.29" height="7.75" fill="#e2e2e2"/>
<rect x="246.45" y="457.19" width="7.29" height="7.75" fill="#e2e2e2"/>
<text font-size="5.3" fill="#231f20" text-anchor="end" transform="translate(37.7 462.91)">BCL9</text>
<rect x="39.2" y="465.84" width="7.29" height="7.75" fill="#e2e2e2"/>
<rect x="47.49" y="465.84" width="7.29" height="7.75" fill="#e2e2e2"/>
<rect x="55.78" y="465.84" width="7.29" height="7.75" fill="#e2e2e2"/>
<rect x="64.07" y="465.84" width="7.29" height="7.75" fill="#e2e2e2"/>
<rect x="72.36" y="465.84" width="7.29" height="7.75" fill="#e2e2e2"/>
<rect x="80.65" y="465.84" width="7.29" height="7.75" fill="#e2e2e2"/>
<rect x="88.94" y="465.84" width="7.29" height="7.75" fill="#e2e2e2"/>
<rect x="97.23" y="465.84" width="7.29" height="7.75" fill="#e2e2e2"/>
<rect x="105.52" y="465.84" width="7.29" height="7.75" fill="#e2e2e2"/>
<rect x="113.81" y="465.84" width="7.29" height="7.75" fill="#e2e2e2"/>
<rect x="122.1" y="465.84" width="7.29" height="7.75" fill="#e2e2e2"/>
<rect x="130.39" y="465.84" width="7.29" height="7.75" fill="#e2e2e2"/>
<rect x="138.68" y="465.84" width="7.29" height="7.75" fill="#e2e2e2"/>
<rect x="146.97" y="465.84" width="7.29" height="7.75" fill="#e2e2e2"/>
<rect x="155.26" y="465.84" width="7.29" height="7.75" fill="#e2e2e2"/>
<rect x="163.55" y="465.84" width="7.29" height="7.75" fill="#104b7f"/>
<rect x="171.84" y="465.84" width="7.29" height="7.75" fill="#e2e2e2"/>
<rect x="180.13" y="465.84" width="7.29" height="7.75" fill="#e2e2e2"/>
<rect x="188.42" y="465.84" width="7.29" height="7.75" fill="#e2e2e2"/>
<rect x="196.71" y="465.84" width="7.29" height="7.75" fill="#e2e2e2"/>
<rect x="205" y="465.84" width="7.29" height="7.75" fill="#e2e2e2"/>
<rect x="213.29" y="465.84" width="7.29" height="7.75" fill="#e2e2e2"/>
<rect x="221.58" y="465.84" width="7.29" height="7.75" fill="#e2e2e2"/>
<rect x="229.87" y="465.84" width="7.29" height="7.75" fill="#e2e2e2"/>
<rect x="238.16" y="465.84" width="7.29" height="7.75" fill="#e2e2e2"/>
<rect x="246.45" y="465.84" width="7.29" height="7.75" fill="#e2e2e2"/>
<text font-size="5.3" fill="#231f20" text-anchor="end" transform="translate(37.7 471.57)">FOXN3</text>
<rect x="39.2" y="474.49" width="7.29" height="7.75" fill="#e2e2e2"/>
<rect x="47.49" y="474.49" width="7.29" height="7.75" fill="#e2e2e2"/>
<rect x="55.78" y="474.49" width="7.29" height="7.75" fill="#e2e2e2"/>
<rect x="64.07" y="474.49" width="7.29" height="7.75" fill="#e2e2e2"/>
<rect x="72.36" y="474.49" width="7.29" height="7.75" fill="#e2e2e2"/>
<rect x="80.65" y="474.49" width="7.29" height="7.75" fill="#e2e2e2"/>
<rect x="88.94" y="474.49" width="7.29" height="7.75" fill="#e2e2e2"/>
<rect x="97.23" y="474.49" width="7.29" height="7.75" fill="#e2e2e2"/>
<rect x="105.52" y="474.49" width="7.29" height="7.75" fill="#e2e2e2"/>
<rect x="113.81" y="474.49" width="7.29" height="7.75" fill="#e2e2e2"/>
<rect x="122.1" y="474.49" width="7.29" height="7.75" fill="#e2e2e2"/>
<rect x="130.39" y="474.49" width="7.29" height="7.75" fill="#e2e2e2"/>
<rect x="138.68" y="474.49" width="7.29" height="7.75" fill="#e2e2e2"/>
<rect x="146.97" y="474.49" width="7.29" height="7.75" fill="#e2e2e2"/>
<rect x="155.26" y="474.49" width="7.29" height="7.75" fill="#e2e2e2"/>
<rect x="163.55" y="474.49" width="7.29" height="7.75" fill="#104b7f"/>
<rect x="171.84" y="474.49" width="7.29" height="7.75" fill="#e2e2e2"/>
<rect x="180.13" y="474.49" width="7.29" height="7.75" fill="#e2e2e2"/>
<rect x="188.42" y="474.49" width="7.29" height="7.75" fill="#e2e2e2"/>
<rect x="196.71" y="474.49" width="7.29" height="7.75" fill="#e2e2e2"/>
<rect x="205" y="474.49" width="7.29" height="7.75" fill="#e2e2e2"/>
<rect x="213.29" y="474.49" width="7.29" height="7.75" fill="#e2e2e2"/>
<rect x="221.58" y="474.49" width="7.29" height="7.75" fill="#e2e2e2"/>
<rect x="229.87" y="474.49" width="7.29" height="7.75" fill="#e2e2e2"/>
<rect x="238.16" y="474.49" width="7.29" height="7.75" fill="#e2e2e2"/>
<rect x="246.45" y="474.49" width="7.29" height="7.75" fill="#e2e2e2"/>
<text font-size="5.3" fill="#231f20" text-anchor="end" transform="translate(37.7 480.22)">HOXB7</text>
<rect x="39.2" y="483.15" width="7.29" height="7.75" fill="#e2e2e2"/>
<rect x="47.49" y="483.15" width="7.29" height="7.75" fill="#e2e2e2"/>
<rect x="55.78" y="483.15" width="7.29" height="7.75" fill="#e2e2e2"/>
<rect x="64.07" y="483.15" width="7.29" height="7.75" fill="#e2e2e2"/>
<rect x="72.36" y="483.15" width="7.29" height="7.75" fill="#e2e2e2"/>
<rect x="80.65" y="483.15" width="7.29" height="7.75" fill="#e2e2e2"/>
<rect x="88.94" y="483.15" width="7.29" height="7.75" fill="#e2e2e2"/>
<rect x="97.23" y="483.15" width="7.29" height="7.75" fill="#e2e2e2"/>
<rect x="105.52" y="483.15" width="7.29" height="7.75" fill="#e2e2e2"/>
<rect x="113.81" y="483.15" width="7.29" height="7.75" fill="#e2e2e2"/>
<rect x="122.1" y="483.15" width="7.29" height="7.75" fill="#e2e2e2"/>
<rect x="130.39" y="483.15" width="7.29" height="7.75" fill="#e2e2e2"/>
<rect x="138.68" y="483.15" width="7.29" height="7.75" fill="#e2e2e2"/>
<rect x="146.97" y="483.15" width="7.29" height="7.75" fill="#e2e2e2"/>
<rect x="155.26" y="483.15" width="7.29" height="7.75" fill="#e2e2e2"/>
<rect x="163.55" y="483.15" width="7.29" height="7.75" fill="#104b7f"/>
<rect x="171.84" y="483.15" width="7.29" height="7.75" fill="#e2e2e2"/>
<rect x="180.13" y="483.15" width="7.29" height="7.75" fill="#e2e2e2"/>
<rect x="188.42" y="483.15" width="7.29" height="7.75" fill="#e2e2e2"/>
<rect x="196.71" y="483.15" width="7.29" height="7.75" fill="#e2e2e2"/>
<rect x="205" y="483.15" width="7.29" height="7.75" fill="#e2e2e2"/>
<rect x="213.29" y="483.15" width="7.29" height="7.75" fill="#e2e2e2"/>
<rect x="221.58" y="483.15" width="7.29" height="7.75" fill="#e2e2e2"/>
<rect x="229.87" y="483.15" width="7.29" height="7.75" fill="#e2e2e2"/>
<rect x="238.16" y="483.15" width="7.29" height="7.75" fill="#e2e2e2"/>
<rect x="246.45" y="483.15" width="7.29" height="7.75" fill="#e2e2e2"/>
<text font-size="5.3" fill="#231f20" text-anchor="end" transform="translate(37.7 488.87)">IFI16</text>
<rect x="39.2" y="491.8" width="7.29" height="7.75" fill="#e2e2e2"/>
<rect x="47.49" y="491.8" width="7.29" height="7.75" fill="#e2e2e2"/>
<rect x="55.78" y="491.8" width="7.29" height="7.75" fill="#e2e2e2"/>
<rect x="64.07" y="491.8" width="7.29" height="7.75" fill="#e2e2e2"/>
<rect x="72.36" y="491.8" width="7.29" height="7.75" fill="#e2e2e2"/>
<rect x="80.65" y="491.8" width="7.29" height="7.75" fill="#e2e2e2"/>
<rect x="88.94" y="491.8" width="7.29" height="7.75" fill="#e2e2e2"/>
<rect x="97.23" y="491.8" width="7.29" height="7.75" fill="#e2e2e2"/>
<rect x="105.52" y="491.8" width="7.29" height="7.75" fill="#e2e2e2"/>
<rect x="113.81" y="491.8" width="7.29" height="7.75" fill="#e2e2e2"/>
<rect x="122.1" y="491.8" width="7.29" height="7.75" fill="#e2e2e2"/>
<rect x="130.39" y="491.8" width="7.29" height="7.75" fill="#e2e2e2"/>
<rect x="138.68" y="491.8" width="7.29" height="7.75" fill="#e2e2e2"/>
<rect x="146.97" y="491.8" width="7.29" height="7.75" fill="#e2e2e2"/>
<rect x="155.26" y="491.8" width="7.29" height="7.75" fill="#e2e2e2"/>
<rect x="163.55" y="491.8" width="7.29" height="7.75" fill="#e2e2e2"/>
<rect x="171.84" y="491.8" width="7.29" height="7.75" fill="#e2e2e2"/>
<rect x="180.13" y="491.8" width="7.29" height="7.75" fill="#104b7f"/>
<rect x="188.42" y="491.8" width="7.29" height="7.75" fill="#e2e2e2"/>
<rect x="196.71" y="491.8" width="7.29" height="7.75" fill="#e2e2e2"/>
<rect x="205" y="491.8" width="7.29" height="7.75" fill="#e2e2e2"/>
<rect x="213.29" y="491.8" width="7.29" height="7.75" fill="#e2e2e2"/>
<rect x="221.58" y="491.8" width="7.29" height="7.75" fill="#e2e2e2"/>
<rect x="229.87" y="491.8" width="7.29" height="7.75" fill="#e2e2e2"/>
<rect x="238.16" y="491.8" width="7.29" height="7.75" fill="#e2e2e2"/>
<rect x="246.45" y="491.8" width="7.29" height="7.75" fill="#e2e2e2"/>
<text font-size="5.3" fill="#231f20" text-anchor="end" transform="translate(37.7 497.53)">KLF6</text>
<rect x="39.2" y="500.45" width="7.29" height="7.75" fill="#e2e2e2"/>
<rect x="47.49" y="500.45" width="7.29" height="7.75" fill="#104b7f"/>
<rect x="55.78" y="500.45" width="7.29" height="7.75" fill="#e2e2e2"/>
<rect x="64.07" y="500.45" width="7.29" height="7.75" fill="#e2e2e2"/>
<rect x="72.36" y="500.45" width="7.29" height="7.75" fill="#e2e2e2"/>
<rect x="80.65" y="500.45" width="7.29" height="7.75" fill="#e2e2e2"/>
<rect x="88.94" y="500.45" width="7.29" height="7.75" fill="#e2e2e2"/>
<rect x="97.23" y="500.45" width="7.29" height="7.75" fill="#e2e2e2"/>
<rect x="105.52" y="500.45" width="7.29" height="7.75" fill="#e2e2e2"/>
<rect x="113.81" y="500.45" width="7.29" height="7.75" fill="#e2e2e2"/>
<rect x="122.1" y="500.45" width="7.29" height="7.75" fill="#e2e2e2"/>
<rect x="130.39" y="500.45" width="7.29" height="7.75" fill="#e2e2e2"/>
<rect x="138.68" y="500.45" width="7.29" height="7.75" fill="#e2e2e2"/>
<rect x="146.97" y="500.45" width="7.29" height="7.75" fill="#e2e2e2"/>
<rect x="155.26" y="500.45" width="7.29" height="7.75" fill="#e2e2e2"/>
<rect x="163.55" y="500.45" width="7.29" height="7.75" fill="#e2e2e2"/>
<rect x="171.84" y="500.45" width="7.29" height="7.75" fill="#e2e2e2"/>
<rect x="180.13" y="500.45" width="7.29" height="7.75" fill="#e2e2e2"/>
<rect x="188.42" y="500.45" width="7.29" height="7.75" fill="#e2e2e2"/>
<rect x="196.71" y="500.45" width="7.29" height="7.75" fill="#e2e2e2"/>
<rect x="205" y="500.45" width="7.29" height="7.75" fill="#e2e2e2"/>
<rect x="213.29" y="500.45" width="7.29" height="7.75" fill="#e2e2e2"/>
<rect x="221.58" y="500.45" width="7.29" height="7.75" fill="#e2e2e2"/>
<rect x="229.87" y="500.45" width="7.29" height="7.75" fill="#e2e2e2"/>
<rect x="238.16" y="500.45" width="7.29" height="7.75" fill="#e2e2e2"/>
<rect x="246.45" y="500.45" width="7.29" height="7.75" fill="#e2e2e2"/>
<text font-size="5.3" fill="#231f20" text-anchor="end" transform="translate(37.7 506.18)">NCOA2</text>
<rect x="39.2" y="509.11" width="7.29" height="7.75" fill="#e2e2e2"/>
<rect x="47.49" y="509.11" width="7.29" height="7.75" fill="#e2e2e2"/>
<rect x="55.78" y="509.11" width="7.29" height="7.75" fill="#e2e2e2"/>
<rect x="64.07" y="509.11" width="7.29" height="7.75" fill="#e2e2e2"/>
<rect x="72.36" y="509.11" width="7.29" height="7.75" fill="#e2e2e2"/>
<rect x="80.65" y="509.11" width="7.29" height="7.75" fill="#e2e2e2"/>
<rect x="88.94" y="509.11" width="7.29" height="7.75" fill="#e2e2e2"/>
<rect x="97.23" y="509.11" width="7.29" height="7.75" fill="#e2e2e2"/>
<rect x="105.52" y="509.11" width="7.29" height="7.75" fill="#e2e2e2"/>
<rect x="113.81" y="509.11" width="7.29" height="7.75" fill="#e2e2e2"/>
<rect x="122.1" y="509.11" width="7.29" height="7.75" fill="#e2e2e2"/>
<rect x="130.39" y="509.11" width="7.29" height="7.75" fill="#e2e2e2"/>
<rect x="138.68" y="509.11" width="7.29" height="7.75" fill="#e2e2e2"/>
<rect x="146.97" y="509.11" width="7.29" height="7.75" fill="#e2e2e2"/>
<rect x="155.26" y="509.11" width="7.29" height="7.75" fill="#e2e2e2"/>
<rect x="163.55" y="509.11" width="7.29" height="7.75" fill="#104b7f"/>
<rect x="171.84" y="509.11" width="7.29" height="7.75" fill="#e2e2e2"/>
<rect x="180.13" y="509.11" width="7.29" height="7.75" fill="#e2e2e2"/>
<rect x="188.42" y="509.11" width="7.29" height="7.75" fill="#e2e2e2"/>
<rect x="196.71" y="509.11" width="7.29" height="7.75" fill="#e2e2e2"/>
<rect x="205" y="509.11" width="7.29" height="7.75" fill="#e2e2e2"/>
<rect x="213.29" y="509.11" width="7.29" height="7.75" fill="#e2e2e2"/>
<rect x="221.58" y="509.11" width="7.29" height="7.75" fill="#e2e2e2"/>
<rect x="229.87" y="509.11" width="7.29" height="7.75" fill="#e2e2e2"/>
<rect x="238.16" y="509.11" width="7.29" height="7.75" fill="#e2e2e2"/>
<rect x="246.45" y="509.11" width="7.29" height="7.75" fill="#e2e2e2"/>
<text font-size="5.3" fill="#231f20" text-anchor="end" transform="translate(37.7 514.83)">NCOA4</text>
<rect x="39.2" y="517.76" width="7.29" height="7.75" fill="#e2e2e2"/>
<rect x="47.49" y="517.76" width="7.29" height="7.75" fill="#e2e2e2"/>
<rect x="55.78" y="517.76" width="7.29" height="7.75" fill="#e2e2e2"/>
<rect x="64.07" y="517.76" width="7.29" height="7.75" fill="#e2e2e2"/>
<rect x="72.36" y="517.76" width="7.29" height="7.75" fill="#e2e2e2"/>
<rect x="80.65" y="517.76" width="7.29" height="7.75" fill="#e2e2e2"/>
<rect x="88.94" y="517.76" width="7.29" height="7.75" fill="#e2e2e2"/>
<rect x="97.23" y="517.76" width="7.29" height="7.75" fill="#e2e2e2"/>
<rect x="105.52" y="517.76" width="7.29" height="7.75" fill="#e2e2e2"/>
<rect x="113.81" y="517.76" width="7.29" height="7.75" fill="#e2e2e2"/>
<rect x="122.1" y="517.76" width="7.29" height="7.75" fill="#e2e2e2"/>
<rect x="130.39" y="517.76" width="7.29" height="7.75" fill="#e2e2e2"/>
<rect x="138.68" y="517.76" width="7.29" height="7.75" fill="#e2e2e2"/>
<rect x="146.97" y="517.76" width="7.29" height="7.75" fill="#e2e2e2"/>
<rect x="155.26" y="517.76" width="7.29" height="7.75" fill="#e2e2e2"/>
<rect x="163.55" y="517.76" width="7.29" height="7.75" fill="#104b7f"/>
<rect x="171.84" y="517.76" width="7.29" height="7.75" fill="#e2e2e2"/>
<rect x="180.13" y="517.76" width="7.29" height="7.75" fill="#e2e2e2"/>
<rect x="188.42" y="517.76" width="7.29" height="7.75" fill="#e2e2e2"/>
<rect x="196.71" y="517.76" width="7.29" height="7.75" fill="#e2e2e2"/>
<rect x="205" y="517.76" width="7.29" height="7.75" fill="#e2e2e2"/>
<rect x="213.29" y="517.76" width="7.29" height="7.75" fill="#e2e2e2"/>
<rect x="221.58" y="517.76" width="7.29" height="7.75" fill="#e2e2e2"/>
<rect x="229.87" y="517.76" width="7.29" height="7.75" fill="#e2e2e2"/>
<rect x="238.16" y="517.76" width="7.29" height="7.75" fill="#e2e2e2"/>
<rect x="246.45" y="517.76" width="7.29" height="7.75" fill="#e2e2e2"/>
<text font-size="5.3" fill="#231f20" text-anchor="end" transform="translate(37.7 523.49)">NCOR2</text>
<rect x="39.2" y="526.41" width="7.29" height="7.75" fill="#e2e2e2"/>
<rect x="47.49" y="526.41" width="7.29" height="7.75" fill="#e2e2e2"/>
<rect x="55.78" y="526.41" width="7.29" height="7.75" fill="#e2e2e2"/>
<rect x="64.07" y="526.41" width="7.29" height="7.75" fill="#e2e2e2"/>
<rect x="72.36" y="526.41" width="7.29" height="7.75" fill="#e2e2e2"/>
<rect x="80.65" y="526.41" width="7.29" height="7.75" fill="#e2e2e2"/>
<rect x="88.94" y="526.41" width="7.29" height="7.75" fill="#e2e2e2"/>
<rect x="97.23" y="526.41" width="7.29" height="7.75" fill="#e2e2e2"/>
<rect x="105.52" y="526.41" width="7.29" height="7.75" fill="#e2e2e2"/>
<rect x="113.81" y="526.41" width="7.29" height="7.75" fill="#e2e2e2"/>
<rect x="122.1" y="526.41" width="7.29" height="7.75" fill="#e2e2e2"/>
<rect x="130.39" y="526.41" width="7.29" height="7.75" fill="#e2e2e2"/>
<rect x="138.68" y="526.41" width="7.29" height="7.75" fill="#e2e2e2"/>
<rect x="146.97" y="526.41" width="7.29" height="7.75" fill="#e2e2e2"/>
<rect x="155.26" y="526.41" width="7.29" height="7.75" fill="#e2e2e2"/>
<rect x="163.55" y="526.41" width="7.29" height="7.75" fill="#104b7f"/>
<rect x="171.84" y="526.41" width="7.29" height="7.75" fill="#e2e2e2"/>
<rect x="180.13" y="526.41" width="7.29" height="7.75" fill="#e2e2e2"/>
<rect x="188.42" y="526.41" width="7.29" height="7.75" fill="#e2e2e2"/>
<rect x="196.71" y="526.41" width="7.29" height="7.75" fill="#e2e2e2"/>
<rect x="205" y="526.41" width="7.29" height="7.75" fill="#e2e2e2"/>
<rect x="213.29" y="526.41" width="7.29" height="7.75" fill="#e2e2e2"/>
<rect x="221.58" y="526.41" width="7.29" height="7.75" fill="#e2e2e2"/>
<rect x="229.87" y="526.41" width="7.29" height="7.75" fill="#e2e2e2"/>
<rect x="238.16" y="526.41" width="7.29" height="7.75" fill="#e2e2e2"/>
<rect x="246.45" y="526.41" width="7.29" height="7.75" fill="#e2e2e2"/>
<text font-size="5.3" fill="#231f20" text-anchor="end" transform="translate(37.7 532.14)">SPIB</text>
<text font-size="8.8" fill="#231f20" text-anchor="middle" transform="translate(7.6 495.68) rotate(-90) scale(0.767 1)" stroke="#231f20" stroke-width="0.12">Transcription</text>
<rect x="39.1" y="536.4" width="99.48" height="7" fill="#8fd1ec"/>
<rect x="138.58" y="536.4" width="33.16" height="7" fill="#0b5f4f"/>
<rect x="171.74" y="536.4" width="33.16" height="7" fill="#3f5466"/>
<rect x="204.9" y="536.4" width="49.74" height="7" fill="#8fd1ec"/>
<text font-size="5" fill="#231f20" text-anchor="end" transform="translate(37.7 541.65)">Age</text>
<rect x="39.1" y="543.9" width="8.29" height="7" fill="#a8bf8c"/>
<rect x="47.39" y="543.9" width="8.29" height="7" fill="#3db54a"/>
<rect x="55.68" y="543.9" width="16.58" height="7" fill="#a8bf8c"/>
<rect x="72.26" y="543.9" width="8.29" height="7" fill="#3db54a"/>
<rect x="80.55" y="543.9" width="16.58" height="7" fill="#a8bf8c"/>
<rect x="97.13" y="543.9" width="8.29" height="7" fill="#3db54a"/>
<rect x="105.42" y="543.9" width="8.29" height="7" fill="#a8bf8c"/>
<rect x="113.71" y="543.9" width="8.29" height="7" fill="#3db54a"/>
<rect x="122" y="543.9" width="8.29" height="7" fill="#a8bf8c"/>
<rect x="130.29" y="543.9" width="8.29" height="7" fill="#3db54a"/>
<rect x="138.58" y="543.9" width="8.29" height="7" fill="#a8bf8c"/>
<rect x="146.87" y="543.9" width="8.29" height="7" fill="#3db54a"/>
<rect x="155.16" y="543.9" width="8.29" height="7" fill="#a8bf8c"/>
<rect x="163.45" y="543.9" width="8.29" height="7" fill="#3db54a"/>
<rect x="171.74" y="543.9" width="8.29" height="7" fill="#a8bf8c"/>
<rect x="180.03" y="543.9" width="8.29" height="7" fill="#3db54a"/>
<rect x="188.32" y="543.9" width="8.29" height="7" fill="#a8bf8c"/>
<rect x="196.61" y="543.9" width="8.29" height="7" fill="#3db54a"/>
<rect x="204.9" y="543.9" width="8.29" height="7" fill="#a8bf8c"/>
<rect x="213.19" y="543.9" width="8.29" height="7" fill="#3db54a"/>
<rect x="221.48" y="543.9" width="8.29" height="7" fill="#a8bf8c"/>
<rect x="229.77" y="543.9" width="8.29" height="7" fill="#3db54a"/>
<rect x="238.06" y="543.9" width="8.29" height="7" fill="#a8bf8c"/>
<rect x="246.35" y="543.9" width="8.29" height="7" fill="#3db54a"/>
<text font-size="5" fill="#231f20" text-anchor="end" transform="translate(37.7 549.15)">Lineage</text>
<rect x="39.1" y="551.1" width="16.58" height="7" fill="#501a6e"/>
<rect x="55.68" y="551.1" width="24.87" height="7" fill="#9a8bc9"/>
<rect x="80.55" y="551.1" width="74.61" height="7" fill="#501a6e"/>
<rect x="155.16" y="551.1" width="49.74" height="7" fill="#9a8bc9"/>
<rect x="204.9" y="551.1" width="49.74" height="7" fill="#501a6e"/>
<text font-size="5" fill="#231f20" text-anchor="end" transform="translate(37.7 556.35)">RNAseq</text>
<text font-size="6.3" fill="#231f20" text-anchor="end" transform="translate(44.7 560.2) rotate(-90) scale(0.947 1)" stroke="#231f20" stroke-width="0.12">LS01P</text>
<text font-size="6.3" fill="#231f20" text-anchor="end" transform="translate(52.98 560.2) rotate(-90) scale(0.947 1)" stroke="#231f20" stroke-width="0.12">LS01R</text>
<text font-size="6.3" fill="#231f20" text-anchor="end" transform="translate(61.28 560.2) rotate(-90) scale(0.947 1)" stroke="#231f20" stroke-width="0.12">LS02P</text>
<text font-size="6.3" fill="#231f20" text-anchor="end" transform="translate(69.56 560.2) rotate(-90) scale(0.947 1)" stroke="#231f20" stroke-width="0.12">LS02R1</text>
<text font-size="6.3" fill="#231f20" text-anchor="end" transform="translate(77.85 560.2) rotate(-90) scale(0.947 1)" stroke="#231f20" stroke-width="0.12">LS02R2</text>
<text font-size="6.3" fill="#231f20" text-anchor="end" transform="translate(86.14 560.2) rotate(-90) scale(0.947 1)" stroke="#231f20" stroke-width="0.12">LS03P</text>
<text font-size="6.3" fill="#231f20" text-anchor="end" transform="translate(94.44 560.2) rotate(-90) scale(0.947 1)" stroke="#231f20" stroke-width="0.12">LS03R1</text>
<text font-size="6.3" fill="#231f20" text-anchor="end" transform="translate(102.72 560.2) rotate(-90) scale(0.947 1)" stroke="#231f20" stroke-width="0.12">LS03R2</text>
<text font-size="6.3" fill="#231f20" text-anchor="end" transform="translate(111.01 560.2) rotate(-90) scale(0.947 1)" stroke="#231f20" stroke-width="0.12">LS04P</text>
<text font-size="6.3" fill="#231f20" text-anchor="end" transform="translate(119.3 560.2) rotate(-90) scale(0.947 1)" stroke="#231f20" stroke-width="0.12">LS04R</text>
<text font-size="6.3" fill="#231f20" text-anchor="end" transform="translate(127.59 560.2) rotate(-90) scale(0.947 1)" stroke="#231f20" stroke-width="0.12">LS05P</text>
<text font-size="6.3" fill="#231f20" text-anchor="end" transform="translate(135.88 560.2) rotate(-90) scale(0.947 1)" stroke="#231f20" stroke-width="0.12">LS05R</text>
<text font-size="6.3" fill="#231f20" text-anchor="end" transform="translate(144.17 560.2) rotate(-90) scale(0.947 1)" stroke="#231f20" stroke-width="0.12">LS06P</text>
<text font-size="6.3" fill="#231f20" text-anchor="end" transform="translate(152.46 560.2) rotate(-90) scale(0.947 1)" stroke="#231f20" stroke-width="0.12">LS06R</text>
<text font-size="6.3" fill="#231f20" text-anchor="end" transform="translate(160.75 560.2) rotate(-90) scale(0.947 1)" stroke="#231f20" stroke-width="0.12">LS07P</text>
<text font-size="6.3" fill="#231f20" text-anchor="end" transform="translate(169.04 560.2) rotate(-90) scale(0.947 1)" stroke="#231f20" stroke-width="0.12">LS07R</text>
<text font-size="6.3" fill="#231f20" text-anchor="end" transform="translate(177.33 560.2) rotate(-90) scale(0.947 1)" stroke="#231f20" stroke-width="0.12">LS08P</text>
<text font-size="6.3" fill="#231f20" text-anchor="end" transform="translate(185.62 560.2) rotate(-90) scale(0.947 1)" stroke="#231f20" stroke-width="0.12">LS08R</text>
<text font-size="6.3" fill="#231f20" text-anchor="end" transform="translate(193.91 560.2) rotate(-90) scale(0.947 1)" stroke="#231f20" stroke-width="0.12">LS09P</text>
<text font-size="6.3" fill="#231f20" text-anchor="end" transform="translate(202.2 560.2) rotate(-90) scale(0.947 1)" stroke="#231f20" stroke-width="0.12">LS09R</text>
<text font-size="6.3" fill="#231f20" text-anchor="end" transform="translate(210.49 560.2) rotate(-90) scale(0.947 1)" stroke="#231f20" stroke-width="0.12">LS10P</text>
<text font-size="6.3" fill="#231f20" text-anchor="end" transform="translate(218.78 560.2) rotate(-90) scale(0.947 1)" stroke="#231f20" stroke-width="0.12">LS10R</text>
<text font-size="6.3" fill="#231f20" text-anchor="end" transform="translate(227.07 560.2) rotate(-90) scale(0.947 1)" stroke="#231f20" stroke-width="0.12">MPAL1L</text>
<text font-size="6.3" fill="#231f20" text-anchor="end" transform="translate(235.36 560.2) rotate(-90) scale(0.947 1)" stroke="#231f20" stroke-width="0.12">MPAL1M</text>
<text font-size="6.3" fill="#231f20" text-anchor="end" transform="translate(243.65 560.2) rotate(-90) scale(0.947 1)" stroke="#231f20" stroke-width="0.12">MPAL2L</text>
<text font-size="6.3" fill="#231f20" text-anchor="end" transform="translate(251.94 560.2) rotate(-90) scale(0.947 1)" stroke="#231f20" stroke-width="0.12">MPAL2M</text>
<line x1="38.1" y1="17.5" x2="38.1" y2="45.2" stroke="#000" stroke-width="1"/>
<line x1="36.3" y1="44.5" x2="38.1" y2="44.5" stroke="#000" stroke-width="0.7"/>
<text font-size="5.2" fill="#231f20" text-anchor="end" transform="translate(34.2 46.35)">0</text>
<line x1="36.3" y1="36.6" x2="38.1" y2="36.6" stroke="#000" stroke-width="0.7"/>
<text font-size="5.2" fill="#231f20" text-anchor="end" transform="translate(34.2 38.45)">10</text>
<line x1="36.3" y1="28.7" x2="38.1" y2="28.7" stroke="#000" stroke-width="0.7"/>
<text font-size="5.2" fill="#231f20" text-anchor="end" transform="translate(34.2 30.55)">20</text>
<line x1="36.3" y1="20.8" x2="38.1" y2="20.8" stroke="#000" stroke-width="0.7"/>
<text font-size="5.2" fill="#231f20" text-anchor="end" transform="translate(34.2 22.65)">30</text>
<rect x="40.65" y="43.71" width="5.2" height="0.79" fill="#26a2e0"/>
<rect x="48.93" y="40.55" width="5.2" height="3.95" fill="#104b7f"/>
<rect x="48.93" y="38.18" width="5.2" height="2.37" fill="#26a2e0"/>
<rect x="57.23" y="41.34" width="5.2" height="3.16" fill="#26a2e0"/>
<rect x="65.52" y="43.71" width="5.2" height="0.79" fill="#26a2e0"/>
<rect x="73.8" y="41.34" width="5.2" height="3.16" fill="#26a2e0"/>
<rect x="82.09" y="42.92" width="5.2" height="1.58" fill="#26a2e0"/>
<rect x="90.39" y="42.92" width="5.2" height="1.58" fill="#104b7f"/>
<rect x="90.39" y="42.13" width="5.2" height="0.79" fill="#26a2e0"/>
<rect x="98.67" y="39.76" width="5.2" height="4.74" fill="#26a2e0"/>
<rect x="98.67" y="38.97" width="5.2" height="0.79" fill="#c8113a"/>
<rect x="106.96" y="42.13" width="5.2" height="2.37" fill="#26a2e0"/>
<rect x="115.25" y="43.71" width="5.2" height="0.79" fill="#104b7f"/>
<rect x="123.55" y="43.71" width="5.2" height="0.79" fill="#26a2e0"/>
<rect x="131.84" y="42.92" width="5.2" height="1.58" fill="#26a2e0"/>
<rect x="140.12" y="43.71" width="5.2" height="0.79" fill="#104b7f"/>
<rect x="140.12" y="41.34" width="5.2" height="2.37" fill="#26a2e0"/>
<rect x="140.12" y="40.55" width="5.2" height="0.79" fill="#c8113a"/>
<rect x="165" y="23.96" width="5.2" height="20.54" fill="#104b7f"/>
<rect x="165" y="20.01" width="5.2" height="3.95" fill="#26a2e0"/>
<rect x="165" y="18.43" width="5.2" height="1.58" fill="#6a3a16"/>
<rect x="173.28" y="43.71" width="5.2" height="0.79" fill="#104b7f"/>
<rect x="173.28" y="40.55" width="5.2" height="3.16" fill="#26a2e0"/>
<rect x="181.57" y="40.55" width="5.2" height="3.95" fill="#104b7f"/>
<rect x="181.57" y="32.65" width="5.2" height="7.9" fill="#26a2e0"/>
<rect x="189.86" y="43.71" width="5.2" height="0.79" fill="#104b7f"/>
<rect x="189.86" y="42.13" width="5.2" height="1.58" fill="#26a2e0"/>
<rect x="198.16" y="41.34" width="5.2" height="3.16" fill="#26a2e0"/>
<rect x="206.44" y="41.34" width="5.2" height="3.16" fill="#104b7f"/>
<rect x="206.44" y="39.76" width="5.2" height="1.58" fill="#6a3a16"/>
<rect x="214.73" y="40.55" width="5.2" height="3.95" fill="#104b7f"/>
<rect x="214.73" y="38.97" width="5.2" height="1.58" fill="#6a3a16"/>
<rect x="223.03" y="43.71" width="5.2" height="0.79" fill="#26a2e0"/>
<rect x="223.03" y="42.92" width="5.2" height="0.79" fill="#c8113a"/>
<rect x="231.31" y="41.34" width="5.2" height="3.16" fill="#c8113a"/>
<rect x="247.89" y="41.34" width="5.2" height="3.16" fill="#c8113a"/>
<line x1="266.6" y1="46.2" x2="294.8" y2="46.2" stroke="#000" stroke-width="1"/>
<line x1="267.9" y1="43.9" x2="267.9" y2="46.2" stroke="#000" stroke-width="0.9"/>
<text font-size="5.2" fill="#231f20" text-anchor="middle" transform="translate(267.9 41.4)">0</text>
<line x1="275.5" y1="43.9" x2="275.5" y2="46.2" stroke="#000" stroke-width="0.9"/>
<text font-size="5.2" fill="#231f20" text-anchor="middle" transform="translate(275.5 41.4)">2</text>
<line x1="283.1" y1="43.9" x2="283.1" y2="46.2" stroke="#000" stroke-width="0.9"/>
<text font-size="5.2" fill="#231f20" text-anchor="middle" transform="translate(283.1 41.4)">4</text>
<line x1="290.7" y1="43.9" x2="290.7" y2="46.2" stroke="#000" stroke-width="0.9"/>
<text font-size="5.2" fill="#231f20" text-anchor="middle" transform="translate(290.7 41.4)">6</text>
<text font-size="5.5" fill="#231f20" transform="translate(255.9 53.23) scale(0.930 1)" stroke="#231f20" stroke-width="0.12">27%</text>
<rect x="267.9" y="48.38" width="7.6" height="4.9" fill="#104b7f"/>
<rect x="275.5" y="48.38" width="19" height="4.9" fill="#26a2e0"/>
<text font-size="5.5" fill="#231f20" transform="translate(255.9 61.88) scale(0.930 1)" stroke="#231f20" stroke-width="0.12">27%</text>
<rect x="267.9" y="57.03" width="3.8" height="4.9" fill="#104b7f"/>
<rect x="271.7" y="57.03" width="22.8" height="4.9" fill="#26a2e0"/>
<text font-size="5.5" fill="#231f20" transform="translate(255.9 70.53) scale(0.930 1)" stroke="#231f20" stroke-width="0.12">15%</text>
<rect x="267.9" y="65.68" width="7.6" height="4.9" fill="#104b7f"/>
<rect x="275.5" y="65.68" width="7.6" height="4.9" fill="#6a3a16"/>
<text font-size="5.5" fill="#231f20" transform="translate(255.9 79.19) scale(0.930 1)" stroke="#231f20" stroke-width="0.12">12%</text>
<rect x="267.9" y="74.34" width="3.8" height="4.9" fill="#104b7f"/>
<rect x="271.7" y="74.34" width="7.6" height="4.9" fill="#c8113a"/>
<text font-size="5.5" fill="#231f20" transform="translate(255.9 87.84) scale(0.930 1)" stroke="#231f20" stroke-width="0.12">12%</text>
<rect x="267.9" y="82.99" width="7.6" height="4.9" fill="#104b7f"/>
<rect x="275.5" y="82.99" width="3.8" height="4.9" fill="#c8113a"/>
<text font-size="5.5" fill="#231f20" transform="translate(255.9 96.49) scale(0.930 1)" stroke="#231f20" stroke-width="0.12">4%</text>
<rect x="267.9" y="91.64" width="3.8" height="4.9" fill="#26a2e0"/>
<text font-size="5.5" fill="#231f20" transform="translate(255.9 105.14) scale(0.930 1)" stroke="#231f20" stroke-width="0.12">4%</text>
<rect x="267.9" y="100.29" width="3.8" height="4.9" fill="#104b7f"/>
<text font-size="5.5" fill="#231f20" transform="translate(255.9 113.8) scale(0.930 1)" stroke="#231f20" stroke-width="0.12">4%</text>
<rect x="267.9" y="108.95" width="3.8" height="4.9" fill="#104b7f"/>
<text font-size="5.5" fill="#231f20" transform="translate(255.9 124.45) scale(0.930 1)" stroke="#231f20" stroke-width="0.12">8%</text>
<rect x="267.9" y="119.6" width="3.8" height="4.9" fill="#26a2e0"/>
<rect x="271.7" y="119.6" width="3.8" height="4.9" fill="#c8113a"/>
<text font-size="5.5" fill="#231f20" transform="translate(255.9 133.1) scale(0.930 1)" stroke="#231f20" stroke-width="0.12">8%</text>
<rect x="267.9" y="128.25" width="3.8" height="4.9" fill="#104b7f"/>
<rect x="271.7" y="128.25" width="3.8" height="4.9" fill="#c8113a"/>
<text font-size="5.5" fill="#231f20" transform="translate(255.9 141.76) scale(0.930 1)" stroke="#231f20" stroke-width="0.12">4%</text>
<rect x="267.9" y="136.91" width="3.8" height="4.9" fill="#104b7f"/>
<text font-size="5.5" fill="#231f20" transform="translate(255.9 150.41) scale(0.930 1)" stroke="#231f20" stroke-width="0.12">4%</text>
<rect x="267.9" y="145.56" width="3.8" height="4.9" fill="#104b7f"/>
<text font-size="5.5" fill="#231f20" transform="translate(255.9 159.06) scale(0.930 1)" stroke="#231f20" stroke-width="0.12">4%</text>
<rect x="267.9" y="154.21" width="3.8" height="4.9" fill="#104b7f"/>
<text font-size="5.5" fill="#231f20" transform="translate(255.9 167.72) scale(0.930 1)" stroke="#231f20" stroke-width="0.12">4%</text>
<rect x="267.9" y="162.87" width="3.8" height="4.9" fill="#104b7f"/>
<text font-size="5.5" fill="#231f20" transform="translate(255.9 176.37) scale(0.930 1)" stroke="#231f20" stroke-width="0.12">4%</text>
<rect x="267.9" y="171.52" width="3.8" height="4.9" fill="#104b7f"/>
<text font-size="5.5" fill="#231f20" transform="translate(255.9 185.02) scale(0.930 1)" stroke="#231f20" stroke-width="0.12">4%</text>
<rect x="267.9" y="180.17" width="3.8" height="4.9" fill="#104b7f"/>
<text font-size="5.5" fill="#231f20" transform="translate(255.9 193.67) scale(0.930 1)" stroke="#231f20" stroke-width="0.12">4%</text>
<rect x="267.9" y="188.82" width="3.8" height="4.9" fill="#104b7f"/>
<text font-size="5.5" fill="#231f20" transform="translate(255.9 204.33) scale(0.930 1)" stroke="#231f20" stroke-width="0.12">19%</text>
<rect x="267.9" y="199.48" width="19" height="4.9" fill="#26a2e0"/>
<text font-size="5.5" fill="#231f20" transform="translate(255.9 212.98) scale(0.930 1)" stroke="#231f20" stroke-width="0.12">19%</text>
<rect x="267.9" y="208.13" width="19" height="4.9" fill="#26a2e0"/>
<text font-size="5.5" fill="#231f20" transform="translate(255.9 221.63) scale(0.930 1)" stroke="#231f20" stroke-width="0.12">15%</text>
<rect x="267.9" y="216.78" width="15.2" height="4.9" fill="#26a2e0"/>
<text font-size="5.5" fill="#231f20" transform="translate(255.9 230.29) scale(0.930 1)" stroke="#231f20" stroke-width="0.12">12%</text>
<rect x="267.9" y="225.44" width="7.6" height="4.9" fill="#104b7f"/>
<rect x="275.5" y="225.44" width="3.8" height="4.9" fill="#c8113a"/>
<text font-size="5.5" fill="#231f20" transform="translate(255.9 238.94) scale(0.930 1)" stroke="#231f20" stroke-width="0.12">12%</text>
<rect x="267.9" y="234.09" width="11.4" height="4.9" fill="#104b7f"/>
<text font-size="5.5" fill="#231f20" transform="translate(255.9 247.59) scale(0.930 1)" stroke="#231f20" stroke-width="0.12">8%</text>
<rect x="267.9" y="242.74" width="3.8" height="4.9" fill="#104b7f"/>
<rect x="271.7" y="242.74" width="3.8" height="4.9" fill="#26a2e0"/>
<text font-size="5.5" fill="#231f20" transform="translate(255.9 256.25) scale(0.930 1)" stroke="#231f20" stroke-width="0.12">8%</text>
<rect x="267.9" y="251.4" width="3.8" height="4.9" fill="#104b7f"/>
<rect x="271.7" y="251.4" width="3.8" height="4.9" fill="#26a2e0"/>
<text font-size="5.5" fill="#231f20" transform="translate(255.9 264.9) scale(0.930 1)" stroke="#231f20" stroke-width="0.12">8%</text>
<rect x="267.9" y="260.05" width="3.8" height="4.9" fill="#104b7f"/>
<rect x="271.7" y="260.05" width="3.8" height="4.9" fill="#6a3a16"/>
<text font-size="5.5" fill="#231f20" transform="translate(255.9 273.55) scale(0.930 1)" stroke="#231f20" stroke-width="0.12">4%</text>
<rect x="267.9" y="268.7" width="3.8" height="4.9" fill="#104b7f"/>
<text font-size="5.5" fill="#231f20" transform="translate(255.9 282.2) scale(0.930 1)" stroke="#231f20" stroke-width="0.12">4%</text>
<rect x="267.9" y="277.35" width="3.8" height="4.9" fill="#6a3a16"/>
<text font-size="5.5" fill="#231f20" transform="translate(255.9 290.86) scale(0.930 1)" stroke="#231f20" stroke-width="0.12">4%</text>
<rect x="267.9" y="286.01" width="3.8" height="4.9" fill="#104b7f"/>
<text font-size="5.5" fill="#231f20" transform="translate(255.9 299.51) scale(0.930 1)" stroke="#231f20" stroke-width="0.12">4%</text>
<rect x="267.9" y="294.66" width="3.8" height="4.9" fill="#104b7f"/>
<text font-size="5.5" fill="#231f20" transform="translate(255.9 308.16) scale(0.930 1)" stroke="#231f20" stroke-width="0.12">4%</text>
<rect x="267.9" y="303.31" width="3.8" height="4.9" fill="#104b7f"/>
<text font-size="5.5" fill="#231f20" transform="translate(255.9 318.82) scale(0.930 1)" stroke="#231f20" stroke-width="0.12">8%</text>
<rect x="267.9" y="313.97" width="3.8" height="4.9" fill="#104b7f"/>
<rect x="271.7" y="313.97" width="3.8" height="4.9" fill="#26a2e0"/>
<text font-size="5.5" fill="#231f20" transform="translate(255.9 329.47) scale(0.930 1)" stroke="#231f20" stroke-width="0.12">15%</text>
<rect x="267.9" y="324.62" width="3.8" height="4.9" fill="#104b7f"/>
<rect x="271.7" y="324.62" width="11.4" height="4.9" fill="#26a2e0"/>
<text font-size="5.5" fill="#231f20" transform="translate(255.9 338.12) scale(0.930 1)" stroke="#231f20" stroke-width="0.12">15%</text>
<rect x="267.9" y="333.27" width="3.8" height="4.9" fill="#104b7f"/>
<rect x="271.7" y="333.27" width="7.6" height="4.9" fill="#26a2e0"/>
<rect x="279.3" y="333.27" width="3.8" height="4.9" fill="#c8113a"/>
<text font-size="5.5" fill="#231f20" transform="translate(255.9 346.78) scale(0.930 1)" stroke="#231f20" stroke-width="0.12">12%</text>
<rect x="267.9" y="341.93" width="11.4" height="4.9" fill="#c8113a"/>
<text font-size="5.5" fill="#231f20" transform="translate(255.9 355.43) scale(0.930 1)" stroke="#231f20" stroke-width="0.12">12%</text>
<rect x="267.9" y="350.58" width="3.8" height="4.9" fill="#104b7f"/>
<rect x="271.7" y="350.58" width="3.8" height="4.9" fill="#26a2e0"/>
<rect x="275.5" y="350.58" width="3.8" height="4.9" fill="#c8113a"/>
<text font-size="5.5" fill="#231f20" transform="translate(255.9 364.08) scale(0.930 1)" stroke="#231f20" stroke-width="0.12">12%</text>
<rect x="267.9" y="359.23" width="3.8" height="4.9" fill="#26a2e0"/>
<rect x="271.7" y="359.23" width="7.6" height="4.9" fill="#6a3a16"/>
<text font-size="5.5" fill="#231f20" transform="translate(255.9 372.73) scale(0.930 1)" stroke="#231f20" stroke-width="0.12">12%</text>
<rect x="267.9" y="367.88" width="7.6" height="4.9" fill="#104b7f"/>
<rect x="275.5" y="367.88" width="3.8" height="4.9" fill="#26a2e0"/>
<text font-size="5.5" fill="#231f20" transform="translate(255.9 381.39) scale(0.930 1)" stroke="#231f20" stroke-width="0.12">12%</text>
<rect x="267.9" y="376.54" width="11.4" height="4.9" fill="#26a2e0"/>
<text font-size="5.5" fill="#231f20" transform="translate(255.9 390.04) scale(0.930 1)" stroke="#231f20" stroke-width="0.12">8%</text>
<rect x="267.9" y="385.19" width="3.8" height="4.9" fill="#104b7f"/>
<rect x="271.7" y="385.19" width="3.8" height="4.9" fill="#26a2e0"/>
<text font-size="5.5" fill="#231f20" transform="translate(255.9 398.69) scale(0.930 1)" stroke="#231f20" stroke-width="0.12">8%</text>
<rect x="267.9" y="393.84" width="7.6" height="4.9" fill="#26a2e0"/>
<text font-size="5.5" fill="#231f20" transform="translate(255.9 407.35) scale(0.930 1)" stroke="#231f20" stroke-width="0.12">4%</text>
<rect x="267.9" y="402.5" width="3.8" height="4.9" fill="#104b7f"/>
<text font-size="5.5" fill="#231f20" transform="translate(255.9 416) scale(0.930 1)" stroke="#231f20" stroke-width="0.12">4%</text>
<rect x="267.9" y="411.15" width="3.8" height="4.9" fill="#104b7f"/>
<text font-size="5.5" fill="#231f20" transform="translate(255.9 426.65) scale(0.930 1)" stroke="#231f20" stroke-width="0.12">23%</text>
<rect x="267.9" y="421.8" width="22.8" height="4.9" fill="#26a2e0"/>
<text font-size="5.5" fill="#231f20" transform="translate(255.9 435.31) scale(0.930 1)" stroke="#231f20" stroke-width="0.12">19%</text>
<rect x="267.9" y="430.46" width="19" height="4.9" fill="#26a2e0"/>
<text font-size="5.5" fill="#231f20" transform="translate(255.9 443.96) scale(0.930 1)" stroke="#231f20" stroke-width="0.12">8%</text>
<rect x="267.9" y="439.11" width="7.6" height="4.9" fill="#104b7f"/>
<text font-size="5.5" fill="#231f20" transform="translate(255.9 452.61) scale(0.930 1)" stroke="#231f20" stroke-width="0.12">8%</text>
<rect x="267.9" y="447.76" width="7.6" height="4.9" fill="#26a2e0"/>
<text font-size="5.5" fill="#231f20" transform="translate(255.9 463.26) scale(0.930 1)" stroke="#231f20" stroke-width="0.12">8%</text>
<rect x="267.9" y="458.41" width="7.6" height="4.9" fill="#104b7f"/>
<text font-size="5.5" fill="#231f20" transform="translate(255.9 471.92) scale(0.930 1)" stroke="#231f20" stroke-width="0.12">4%</text>
<rect x="267.9" y="467.07" width="3.8" height="4.9" fill="#104b7f"/>
<text font-size="5.5" fill="#231f20" transform="translate(255.9 480.57) scale(0.930 1)" stroke="#231f20" stroke-width="0.12">4%</text>
<rect x="267.9" y="475.72" width="3.8" height="4.9" fill="#104b7f"/>
<text font-size="5.5" fill="#231f20" transform="translate(255.9 489.22) scale(0.930 1)" stroke="#231f20" stroke-width="0.12">4%</text>
<rect x="267.9" y="484.37" width="3.8" height="4.9" fill="#104b7f"/>
<text font-size="5.5" fill="#231f20" transform="translate(255.9 497.88) scale(0.930 1)" stroke="#231f20" stroke-width="0.12">4%</text>
<rect x="267.9" y="493.03" width="3.8" height="4.9" fill="#104b7f"/>
<text font-size="5.5" fill="#231f20" transform="translate(255.9 506.53) scale(0.930 1)" stroke="#231f20" stroke-width="0.12">4%</text>
<rect x="267.9" y="501.68" width="3.8" height="4.9" fill="#104b7f"/>
<text font-size="5.5" fill="#231f20" transform="translate(255.9 515.18) scale(0.930 1)" stroke="#231f20" stroke-width="0.12">4%</text>
<rect x="267.9" y="510.33" width="3.8" height="4.9" fill="#104b7f"/>
<text font-size="5.5" fill="#231f20" transform="translate(255.9 523.84) scale(0.930 1)" stroke="#231f20" stroke-width="0.12">4%</text>
<rect x="267.9" y="518.99" width="3.8" height="4.9" fill="#104b7f"/>
<text font-size="5.5" fill="#231f20" transform="translate(255.9 532.49) scale(0.930 1)" stroke="#231f20" stroke-width="0.12">4%</text>
<rect x="267.9" y="527.64" width="3.8" height="4.9" fill="#104b7f"/>
<text font-size="8.6" fill="#231f20" transform="translate(25.8 624) scale(1.061 1)" stroke="#231f20" stroke-width="0.12">Mutation</text>
<rect x="28.5" y="630.15" width="5.4" height="5.2" fill="#104b7f"/>
<text font-size="6.9" fill="#231f20" transform="translate(36.9 635.7)" stroke="#231f20" stroke-width="0.12">SNV[VAF&gt;30]</text>
<rect x="28.5" y="640.1" width="5.4" height="5.2" fill="#26a2e0"/>
<text font-size="6.9" fill="#231f20" transform="translate(36.9 646)" stroke="#231f20" stroke-width="0.12">SNV[VAF&lt;30]</text>
<rect x="28.5" y="651.9" width="5.4" height="5.2" fill="#6a3a16"/>
<text font-size="6.9" fill="#231f20" transform="translate(36.9 656.9) scale(0.973 1)" stroke="#231f20" stroke-width="0.12">INDELs[VAF&gt;30]</text>
<rect x="28.5" y="662.9" width="5.4" height="5.2" fill="#c8113a"/>
<text font-size="6.9" fill="#231f20" transform="translate(36.9 667.9) scale(0.973 1)" stroke="#231f20" stroke-width="0.12">INDELs[VAF&gt;30]</text>
<text font-size="8.6" fill="#231f20" transform="translate(121 623.4) scale(1.020 1)" stroke="#231f20" stroke-width="0.12">Age</text>
<rect x="124.1" y="630.2" width="5.4" height="5.2" fill="#3f5466"/>
<text font-size="7.2" fill="#231f20" transform="translate(132.1 635.5) scale(1.030 1)" stroke="#231f20" stroke-width="0.12">Adult</text>
<rect x="124.1" y="641.1" width="5.4" height="5.2" fill="#8fd1ec"/>
<text font-size="7.2" fill="#231f20" transform="translate(132.1 646.3) scale(1.010 1)" stroke="#231f20" stroke-width="0.12">Infant</text>
<rect x="124.1" y="651.9" width="5.4" height="5.2" fill="#0b5f4f"/>
<text font-size="7.2" fill="#231f20" transform="translate(132.1 657) scale(0.989 1)" stroke="#231f20" stroke-width="0.12">Pediatric</text>
<text font-size="8.6" fill="#231f20" transform="translate(183.8 623.5) scale(0.980 1)" stroke="#231f20" stroke-width="0.12">Lineage</text>
<rect x="187" y="630.3" width="5.4" height="5.2" fill="#a8bf8c"/>
<text font-size="7.2" fill="#231f20" transform="translate(195.8 635.6) scale(0.973 1)" stroke="#231f20" stroke-width="0.12">Lymphoid</text>
<rect x="187" y="641.2" width="5.4" height="5.2" fill="#3db54a"/>
<text font-size="7.2" fill="#231f20" transform="translate(195.8 646.4)" stroke="#231f20" stroke-width="0.12">Myeloid</text>
<text font-size="8.6" fill="#231f20" transform="translate(183.8 666.8) scale(0.843 1)" stroke="#231f20" stroke-width="0.12">RNAseq</text>
<rect x="187" y="673.8" width="5.4" height="5.2" fill="#9a8bc9"/>
<text font-size="7.2" fill="#231f20" transform="translate(195.8 679) scale(0.956 1)" stroke="#231f20" stroke-width="0.12">No</text>
<rect x="187" y="683.6" width="5.4" height="5.2" fill="#501a6e"/>
<text font-size="7.2" fill="#231f20" transform="translate(195.8 688.8) scale(0.954 1)" stroke="#231f20" stroke-width="0.12">Yes</text>
<text font-size="11.4" fill="#000" font-weight="bold" transform="translate(304.4 10.6) scale(0.850 1)" stroke="#000" stroke-width="0.12">B</text>
<clipPath id="vc1"><ellipse cx="377.3" cy="26.6" rx="15.2" ry="13"/></clipPath>
<ellipse cx="377.3" cy="26.6" rx="15.2" ry="13" fill="#b4c9db"/>
<ellipse cx="392.5" cy="26.6" rx="15.2" ry="13" fill="#f2b6c4"/>
<ellipse cx="392.5" cy="26.6" rx="15.2" ry="13" fill="#ab8fab" clip-path="url(#vc1)"/>
<text font-size="5.6" fill="#4d71a0" text-anchor="middle" transform="translate(370.9 28.6)" stroke="#4d71a0" stroke-width="0.12">11</text>
<text font-size="5.6" fill="#c03a58" text-anchor="middle" transform="translate(399.7 28.6)" stroke="#c03a58" stroke-width="0.12">75</text>
<text font-size="7.2" fill="#2a1e2c" text-anchor="middle" transform="translate(384.9 29)" stroke="#2a1e2c" stroke-width="0.12">1</text>
<text font-size="6.8" fill="#44679a" text-anchor="middle" transform="translate(376.3 10.8) scale(0.860 1)" stroke="#44679a" stroke-width="0.12">ALL</text>
<text font-size="6.8" fill="#c23b5a" text-anchor="middle" transform="translate(393.4 10.8) scale(0.923 1)" stroke="#c23b5a" stroke-width="0.12">AML</text>
<text font-size="7.1" fill="#231f20" text-anchor="end" transform="translate(356 28.8) scale(0.881 1)" stroke="#231f20" stroke-width="0.12">LS01</text>
<clipPath id="vc2"><ellipse cx="485.4" cy="27" rx="15.2" ry="13"/></clipPath>
<ellipse cx="485.4" cy="27" rx="15.2" ry="13" fill="#b4c9db"/>
<ellipse cx="500.6" cy="27" rx="15.2" ry="13" fill="#f2b6c4"/>
<ellipse cx="500.6" cy="27" rx="15.2" ry="13" fill="#ab8fab" clip-path="url(#vc2)"/>
<text font-size="5.6" fill="#4d71a0" text-anchor="middle" transform="translate(479 29)" stroke="#4d71a0" stroke-width="0.12">19</text>
<text font-size="5.6" fill="#c03a58" text-anchor="middle" transform="translate(507.8 29)" stroke="#c03a58" stroke-width="0.12">29</text>
<text font-size="7.2" fill="#2a1e2c" text-anchor="middle" transform="translate(493 29.4)" stroke="#2a1e2c" stroke-width="0.12">3</text>
<text font-size="6.8" fill="#44679a" text-anchor="middle" transform="translate(484.4 11.2) scale(0.860 1)" stroke="#44679a" stroke-width="0.12">ALL</text>
<text font-size="6.8" fill="#c23b5a" text-anchor="middle" transform="translate(501.5 11.2) scale(0.923 1)" stroke="#c23b5a" stroke-width="0.12">AML</text>
<text font-size="7.1" fill="#231f20" text-anchor="end" transform="translate(462 29.2) scale(0.893 1)" stroke="#231f20" stroke-width="0.12">LS02</text>
<clipPath id="vc3"><ellipse cx="377.4" cy="67.6" rx="15.2" ry="13"/></clipPath>
<ellipse cx="377.4" cy="67.6" rx="15.2" ry="13" fill="#b4c9db"/>
<ellipse cx="392.6" cy="67.6" rx="15.2" ry="13" fill="#f2b6c4"/>
<ellipse cx="392.6" cy="67.6" rx="15.2" ry="13" fill="#ab8fab" clip-path="url(#vc3)"/>
<text font-size="5.6" fill="#4d71a0" text-anchor="middle" transform="translate(371 69.6)" stroke="#4d71a0" stroke-width="0.12">23</text>
<text font-size="5.6" fill="#c03a58" text-anchor="middle" transform="translate(399.8 69.6)" stroke="#c03a58" stroke-width="0.12">309</text>
<line x1="383.1" y1="67.9" x2="386.9" y2="67.9" stroke="#3a2b3c" stroke-width="0.9"/>
<text font-size="6.8" fill="#44679a" text-anchor="middle" transform="translate(376.4 51.8) scale(0.860 1)" stroke="#44679a" stroke-width="0.12">ALL</text>
<text font-size="6.8" fill="#c23b5a" text-anchor="middle" transform="translate(393.5 51.8) scale(0.923 1)" stroke="#c23b5a" stroke-width="0.12">AML</text>
<text font-size="7.1" fill="#231f20" text-anchor="end" transform="translate(355.3 69.8) scale(0.893 1)" stroke="#231f20" stroke-width="0.12">LS03</text>
<clipPath id="vc4"><ellipse cx="485.7" cy="68.2" rx="15.2" ry="13"/></clipPath>
<ellipse cx="485.7" cy="68.2" rx="15.2" ry="13" fill="#b4c9db"/>
<ellipse cx="500.9" cy="68.2" rx="15.2" ry="13" fill="#f2b6c4"/>
<ellipse cx="500.9" cy="68.2" rx="15.2" ry="13" fill="#ab8fab" clip-path="url(#vc4)"/>
<text font-size="5.6" fill="#4d71a0" text-anchor="middle" transform="translate(479.3 70.2)" stroke="#4d71a0" stroke-width="0.12">17</text>
<text font-size="5.6" fill="#c03a58" text-anchor="middle" transform="translate(508.1 70.2)" stroke="#c03a58" stroke-width="0.12">8</text>
<text font-size="7.2" fill="#2a1e2c" text-anchor="middle" transform="translate(493.3 70.6)" stroke="#2a1e2c" stroke-width="0.12">4</text>
<text font-size="6.8" fill="#44679a" text-anchor="middle" transform="translate(484.7 52.4) scale(0.860 1)" stroke="#44679a" stroke-width="0.12">ALL</text>
<text font-size="6.8" fill="#c23b5a" text-anchor="middle" transform="translate(501.8 52.4) scale(0.923 1)" stroke="#c23b5a" stroke-width="0.12">AML</text>
<text font-size="7.1" fill="#231f20" text-anchor="end" transform="translate(462.3 70.4) scale(0.893 1)" stroke="#231f20" stroke-width="0.12">LS04</text>
<clipPath id="vc5"><ellipse cx="377.4" cy="106.8" rx="15.2" ry="13"/></clipPath>
<ellipse cx="377.4" cy="106.8" rx="15.2" ry="13" fill="#b4c9db"/>
<ellipse cx="392.6" cy="106.8" rx="15.2" ry="13" fill="#f2b6c4"/>
<ellipse cx="392.6" cy="106.8" rx="15.2" ry="13" fill="#ab8fab" clip-path="url(#vc5)"/>
<text font-size="5.6" fill="#4d71a0" text-anchor="middle" transform="translate(371 108.8)" stroke="#4d71a0" stroke-width="0.12">14</text>
<text font-size="5.6" fill="#c03a58" text-anchor="middle" transform="translate(399.8 108.8)" stroke="#c03a58" stroke-width="0.12">74</text>
<line x1="383.1" y1="107.1" x2="386.9" y2="107.1" stroke="#3a2b3c" stroke-width="0.9"/>
<text font-size="6.8" fill="#44679a" text-anchor="middle" transform="translate(376.4 91) scale(0.860 1)" stroke="#44679a" stroke-width="0.12">ALL</text>
<text font-size="6.8" fill="#c23b5a" text-anchor="middle" transform="translate(393.5 91) scale(0.923 1)" stroke="#c23b5a" stroke-width="0.12">AML</text>
<text font-size="7.1" fill="#231f20" text-anchor="end" transform="translate(355.3 109) scale(0.893 1)" stroke="#231f20" stroke-width="0.12">LS05</text>
<clipPath id="vc6"><ellipse cx="485.4" cy="107" rx="15.2" ry="13"/></clipPath>
<ellipse cx="485.4" cy="107" rx="15.2" ry="13" fill="#b4c9db"/>
<ellipse cx="500.6" cy="107" rx="15.2" ry="13" fill="#f2b6c4"/>
<ellipse cx="500.6" cy="107" rx="15.2" ry="13" fill="#ab8fab" clip-path="url(#vc6)"/>
<text font-size="5.6" fill="#4d71a0" text-anchor="middle" transform="translate(479 109)" stroke="#4d71a0" stroke-width="0.12">215</text>
<text font-size="5.6" fill="#c03a58" text-anchor="middle" transform="translate(507.8 109)" stroke="#c03a58" stroke-width="0.12">5</text>
<text font-size="7.2" fill="#2a1e2c" text-anchor="middle" transform="translate(493 109.4)" stroke="#2a1e2c" stroke-width="0.12">3</text>
<text font-size="6.8" fill="#44679a" text-anchor="middle" transform="translate(484.4 91.2) scale(0.860 1)" stroke="#44679a" stroke-width="0.12">ALL</text>
<text font-size="6.8" fill="#c23b5a" text-anchor="middle" transform="translate(501.5 91.2) scale(0.923 1)" stroke="#c23b5a" stroke-width="0.12">AML</text>
<text font-size="7.1" fill="#231f20" text-anchor="end" transform="translate(462.3 109.2) scale(0.893 1)" stroke="#231f20" stroke-width="0.12">LS06</text>
<clipPath id="vc7"><ellipse cx="377.4" cy="154" rx="15.2" ry="13"/></clipPath>
<ellipse cx="377.4" cy="154" rx="15.2" ry="13" fill="#b4c9db"/>
<ellipse cx="392.6" cy="154" rx="15.2" ry="13" fill="#f2b6c4"/>
<ellipse cx="392.6" cy="154" rx="15.2" ry="13" fill="#ab8fab" clip-path="url(#vc7)"/>
<text font-size="5.6" fill="#4d71a0" text-anchor="middle" transform="translate(371 156)" stroke="#4d71a0" stroke-width="0.12">25</text>
<text font-size="5.6" fill="#c03a58" text-anchor="middle" transform="translate(399.8 156)" stroke="#c03a58" stroke-width="0.12">2505</text>
<text font-size="7.2" fill="#2a1e2c" text-anchor="middle" transform="translate(385 156.4)" stroke="#2a1e2c" stroke-width="0.12">1</text>
<text font-size="6.8" fill="#44679a" text-anchor="middle" transform="translate(376.4 138.2) scale(0.860 1)" stroke="#44679a" stroke-width="0.12">ALL</text>
<text font-size="6.8" fill="#c23b5a" text-anchor="middle" transform="translate(393.5 138.2) scale(0.923 1)" stroke="#c23b5a" stroke-width="0.12">AML</text>
<text font-size="7.1" fill="#231f20" text-anchor="end" transform="translate(355.3 156.2) scale(0.893 1)" stroke="#231f20" stroke-width="0.12">LS07</text>
<clipPath id="vc8"><ellipse cx="485.5" cy="154.6" rx="15.2" ry="13"/></clipPath>
<ellipse cx="485.5" cy="154.6" rx="15.2" ry="13" fill="#b4c9db"/>
<ellipse cx="500.7" cy="154.6" rx="15.2" ry="13" fill="#f2b6c4"/>
<ellipse cx="500.7" cy="154.6" rx="15.2" ry="13" fill="#ab8fab" clip-path="url(#vc8)"/>
<text font-size="5.6" fill="#4d71a0" text-anchor="middle" transform="translate(479.1 156.6)" stroke="#4d71a0" stroke-width="0.12">35</text>
<text font-size="5.6" fill="#c03a58" text-anchor="middle" transform="translate(507.9 156.6)" stroke="#c03a58" stroke-width="0.12">1591</text>
<text font-size="7.2" fill="#2a1e2c" text-anchor="middle" transform="translate(493.1 157)" stroke="#2a1e2c" stroke-width="0.12">11</text>
<text font-size="6.8" fill="#44679a" text-anchor="middle" transform="translate(484.5 138.8) scale(0.860 1)" stroke="#44679a" stroke-width="0.12">ALL</text>
<text font-size="6.8" fill="#c23b5a" text-anchor="middle" transform="translate(501.6 138.8) scale(0.923 1)" stroke="#c23b5a" stroke-width="0.12">AML</text>
<text font-size="7.1" fill="#231f20" text-anchor="end" transform="translate(462.3 156.8) scale(0.893 1)" stroke="#231f20" stroke-width="0.12">LS08</text>
<clipPath id="vc9"><ellipse cx="377.4" cy="193.8" rx="15.2" ry="13"/></clipPath>
<ellipse cx="377.4" cy="193.8" rx="15.2" ry="13" fill="#b4c9db"/>
<ellipse cx="392.6" cy="193.8" rx="15.2" ry="13" fill="#f2b6c4"/>
<ellipse cx="392.6" cy="193.8" rx="15.2" ry="13" fill="#ab8fab" clip-path="url(#vc9)"/>
<text font-size="5.6" fill="#4d71a0" text-anchor="middle" transform="translate(371 195.8)" stroke="#4d71a0" stroke-width="0.12">12</text>
<text font-size="5.6" fill="#c03a58" text-anchor="middle" transform="translate(399.8 195.8)" stroke="#c03a58" stroke-width="0.12">29</text>
<text font-size="7.2" fill="#2a1e2c" text-anchor="middle" transform="translate(385 196.2)" stroke="#2a1e2c" stroke-width="0.12">9</text>
<text font-size="6.8" fill="#44679a" text-anchor="middle" transform="translate(376.4 178) scale(0.860 1)" stroke="#44679a" stroke-width="0.12">ALL</text>
<text font-size="6.8" fill="#c23b5a" text-anchor="middle" transform="translate(393.5 178) scale(0.923 1)" stroke="#c23b5a" stroke-width="0.12">AML</text>
<text font-size="7.1" fill="#231f20" text-anchor="end" transform="translate(355.3 196) scale(0.893 1)" stroke="#231f20" stroke-width="0.12">LS09</text>
<clipPath id="vc10"><ellipse cx="485.7" cy="194.9" rx="15.2" ry="13"/></clipPath>
<ellipse cx="485.7" cy="194.9" rx="15.2" ry="13" fill="#b4c9db"/>
<ellipse cx="500.9" cy="194.9" rx="15.2" ry="13" fill="#f2b6c4"/>
<ellipse cx="500.9" cy="194.9" rx="15.2" ry="13" fill="#ab8fab" clip-path="url(#vc10)"/>
<text font-size="5.6" fill="#4d71a0" text-anchor="middle" transform="translate(479.3 196.9)" stroke="#4d71a0" stroke-width="0.12">46</text>
<text font-size="5.6" fill="#c03a58" text-anchor="middle" transform="translate(508.1 196.9)" stroke="#c03a58" stroke-width="0.12">49</text>
<text font-size="7.2" fill="#2a1e2c" text-anchor="middle" transform="translate(493.3 197.3)" stroke="#2a1e2c" stroke-width="0.12">58</text>
<text font-size="6.8" fill="#44679a" text-anchor="middle" transform="translate(484.7 179.1) scale(0.860 1)" stroke="#44679a" stroke-width="0.12">ALL</text>
<text font-size="6.8" fill="#c23b5a" text-anchor="middle" transform="translate(501.8 179.1) scale(0.923 1)" stroke="#c23b5a" stroke-width="0.12">AML</text>
<text font-size="7.1" fill="#231f20" text-anchor="end" transform="translate(462.3 197.1) scale(0.921 1)" stroke="#231f20" stroke-width="0.12">LS010</text>
<clipPath id="vc11"><ellipse cx="377.4" cy="247" rx="15.2" ry="13"/></clipPath>
<ellipse cx="377.4" cy="247" rx="15.2" ry="13" fill="#b4c9db"/>
<ellipse cx="392.6" cy="247" rx="15.2" ry="13" fill="#f2b6c4"/>
<ellipse cx="392.6" cy="247" rx="15.2" ry="13" fill="#ab8fab" clip-path="url(#vc11)"/>
<text font-size="5.6" fill="#4d71a0" text-anchor="middle" transform="translate(371 249)" stroke="#4d71a0" stroke-width="0.12">258</text>
<text font-size="5.6" fill="#c03a58" text-anchor="middle" transform="translate(399.8 249)" stroke="#c03a58" stroke-width="0.12">220</text>
<text font-size="7.2" fill="#2a1e2c" text-anchor="middle" transform="translate(385 249.4)" stroke="#2a1e2c" stroke-width="0.12">1</text>
<text font-size="6.4" fill="#44679a" text-anchor="middle" transform="translate(370 230.8) scale(1.032 1)" stroke="#44679a" stroke-width="0.12">Lymphoid</text>
<text font-size="6.4" fill="#c23b5a" text-anchor="middle" transform="translate(400 230.8) scale(1.057 1)" stroke="#c23b5a" stroke-width="0.12">Myeloid</text>
<text font-size="7.1" fill="#231f20" text-anchor="end" transform="translate(355.5 249.2) scale(0.958 1)" stroke="#231f20" stroke-width="0.12">MPAL1</text>
<clipPath id="vc12"><ellipse cx="485.4" cy="247.3" rx="15.2" ry="13"/></clipPath>
<ellipse cx="485.4" cy="247.3" rx="15.2" ry="13" fill="#b4c9db"/>
<ellipse cx="500.6" cy="247.3" rx="15.2" ry="13" fill="#f2b6c4"/>
<ellipse cx="500.6" cy="247.3" rx="15.2" ry="13" fill="#ab8fab" clip-path="url(#vc12)"/>
<text font-size="5.6" fill="#4d71a0" text-anchor="middle" transform="translate(479 249.3)" stroke="#4d71a0" stroke-width="0.12">36</text>
<text font-size="5.6" fill="#c03a58" text-anchor="middle" transform="translate(507.8 249.3)" stroke="#c03a58" stroke-width="0.12">350</text>
<line x1="491.1" y1="247.6" x2="494.9" y2="247.6" stroke="#3a2b3c" stroke-width="0.9"/>
<text font-size="6.4" fill="#44679a" text-anchor="middle" transform="translate(478 231.1) scale(1.032 1)" stroke="#44679a" stroke-width="0.12">Lymphoid</text>
<text font-size="6.4" fill="#c23b5a" text-anchor="middle" transform="translate(508 231.1) scale(1.057 1)" stroke="#c23b5a" stroke-width="0.12">Myeloid</text>
<text font-size="7.1" fill="#231f20" text-anchor="end" transform="translate(462.9 249.5) scale(0.976 1)" stroke="#231f20" stroke-width="0.12">MPAL2</text>
<text font-size="8.8" fill="#231f20" text-anchor="middle" transform="translate(325 109) rotate(-90) scale(0.849 1)" stroke="#231f20" stroke-width="0.12">LSALs</text>
<text font-size="8.8" fill="#231f20" text-anchor="middle" transform="translate(325 244.2) rotate(-90) scale(0.917 1)" stroke="#231f20" stroke-width="0.12">MPALs</text>
<text font-size="4" fill="#231f20" text-anchor="end" transform="translate(355.1 12.1)">PABPC1</text>
<text font-size="4" fill="#231f20" text-anchor="end" font-style="normal" transform="translate(461.9 13.8)">NRAS</text>
<text font-size="4.1" fill="#231f20" text-anchor="end" font-style="italic" transform="translate(461.9 50.2)">KRAS</text>
<text font-size="4.1" fill="#231f20" text-anchor="end" font-style="italic" transform="translate(461.9 55)">CTNND1</text>
<text font-size="4.1" fill="#231f20" text-anchor="end" font-style="italic" transform="translate(461.9 59.8)">DARS2</text>
<text font-size="4.3" fill="#231f20" text-anchor="end" font-style="italic" transform="translate(438.9 75.8)">JMJD1C</text>
<text font-size="4.3" fill="#231f20" text-anchor="end" font-style="italic" transform="translate(438.9 80.91)">L3MBTL4</text>
<text font-size="4.3" fill="#231f20" text-anchor="end" font-style="italic" transform="translate(438.9 86.02)">BCL9</text>
<text font-size="4.3" fill="#231f20" text-anchor="end" font-style="italic" transform="translate(438.9 91.13)">SLC27A1</text>
<text font-size="4.3" fill="#231f20" text-anchor="end" font-style="italic" transform="translate(438.9 96.24)">EOLA2</text>
<text font-size="4.3" fill="#231f20" text-anchor="end" font-style="italic" transform="translate(438.9 101.35)">SCUBE1</text>
<text font-size="4.3" fill="#231f20" text-anchor="end" font-style="italic" transform="translate(438.9 106.46)">WDR62</text>
<text font-size="4.3" fill="#231f20" text-anchor="end" font-style="italic" transform="translate(438.9 111.57)">CLIP1</text>
<text font-size="4.3" fill="#231f20" text-anchor="end" font-style="italic" transform="translate(438.9 116.68)">CRYBA4</text>
<text font-size="4.3" fill="#231f20" text-anchor="end" font-style="italic" transform="translate(438.9 121.79)">VWA5B2</text>
<text font-size="4.3" fill="#231f20" text-anchor="end" font-style="italic" transform="translate(438.9 126.9)">PDLIM3</text>
<text font-size="4.3" fill="#231f20" text-anchor="end" font-style="italic" transform="translate(438.9 132.01)">LMF1</text>
<text font-size="4.3" fill="#231f20" text-anchor="end" font-style="italic" transform="translate(438.9 137.12)">SQSTM1</text>
<text font-size="4.3" fill="#231f20" text-anchor="end" font-style="italic" transform="translate(438.9 142.23)">GPRASP1</text>
<text font-size="4.3" fill="#231f20" text-anchor="end" font-style="italic" transform="translate(438.9 147.34)">SCRIB</text>
<text font-size="4.3" fill="#231f20" text-anchor="end" font-style="italic" transform="translate(438.9 152.45)">CNN3</text>
<text font-size="4.3" fill="#231f20" text-anchor="end" font-style="italic" transform="translate(438.9 157.56)">MYO18A</text>
<text font-size="4.3" fill="#231f20" text-anchor="end" font-style="italic" transform="translate(438.9 162.67)">GPR133</text>
<text font-size="4.3" fill="#231f20" text-anchor="end" font-style="italic" transform="translate(438.9 167.78)">NEB</text>
<text font-size="4.3" fill="#231f20" text-anchor="end" font-style="italic" transform="translate(438.9 172.89)">RAB30B</text>
<text font-size="4.3" fill="#231f20" text-anchor="end" font-style="italic" transform="translate(438.9 178)">COPG1</text>
<text font-size="4.3" fill="#231f20" text-anchor="end" font-style="italic" transform="translate(438.9 183.11)">OLFML2B</text>
<text font-size="4.3" fill="#231f20" text-anchor="end" font-style="italic" transform="translate(438.9 188.22)">ACTN1</text>
<text font-size="4.3" fill="#231f20" text-anchor="end" font-style="italic" transform="translate(438.9 193.33)">SH3BP4</text>
<text font-size="4.3" fill="#231f20" text-anchor="end" font-style="italic" transform="translate(438.9 198.44)">SPRYD7</text>
<text font-size="4.3" fill="#231f20" text-anchor="end" font-style="italic" transform="translate(438.9 203.55)">ITGAX</text>
<text font-size="4.2" fill="#231f20" text-anchor="end" font-style="italic" transform="translate(461.9 117.65)">BCLAF1</text>
<text font-size="4.2" fill="#231f20" text-anchor="end" font-style="italic" transform="translate(461.9 122.5)">OTOGL</text>
<text font-size="4.2" fill="#231f20" text-anchor="end" font-style="italic" transform="translate(461.9 127.35)">PIEZO2</text>
<text font-size="4.2" fill="#231f20" text-anchor="end" font-style="italic" transform="translate(461.9 132.2)">AIPL1</text>
<text font-size="4.2" fill="#231f20" text-anchor="end" font-style="italic" transform="translate(461.9 137.05)">RLF</text>
<text font-size="4.2" fill="#231f20" text-anchor="end" font-style="italic" transform="translate(461.9 141.9)">AQP7</text>
<text font-size="4.2" fill="#231f20" text-anchor="end" font-style="italic" transform="translate(461.9 146.75)">OTUD7A</text>
<text font-size="4.2" fill="#231f20" text-anchor="end" font-style="italic" transform="translate(354.8 164.1)">KRAS</text>
<text font-size="4.2" fill="#231f20" text-anchor="end" font-style="italic" transform="translate(354.8 168.98)">KCNT1</text>
<text font-size="4.2" fill="#231f20" text-anchor="end" font-style="italic" transform="translate(354.8 173.86)">HS3ST4</text>
<text font-size="4.2" fill="#231f20" text-anchor="end" font-style="italic" transform="translate(354.8 178.74)">TBCD</text>
<text font-size="4.2" fill="#231f20" text-anchor="end" font-style="italic" transform="translate(354.8 183.62)">OR51A7</text>
<text font-size="4.2" fill="#231f20" text-anchor="end" font-style="italic" transform="translate(354.8 188.5)">ESCO2</text>
<line x1="357.1" y1="10.4" x2="382.5" y2="17.3" stroke="#1a1a1a" stroke-width="0.85"/>
<circle cx="382.5" cy="17.3" r="1.2" fill="#1a1a1a"/>
<line x1="466" y1="14.1" x2="489" y2="19.8" stroke="#1a1a1a" stroke-width="0.85"/>
<circle cx="489" cy="19.8" r="1.2" fill="#1a1a1a"/>
<line x1="466" y1="55" x2="489" y2="61.1" stroke="#1a1a1a" stroke-width="0.85"/>
<circle cx="489" cy="61.1" r="1.2" fill="#1a1a1a"/>
<line x1="464.2" y1="135.6" x2="488.4" y2="146.7" stroke="#1a1a1a" stroke-width="0.85"/>
<circle cx="488.4" cy="146.7" r="1.2" fill="#1a1a1a"/>
<line x1="442.1" y1="163.7" x2="487.9" y2="187.3" stroke="#1a1a1a" stroke-width="0.85"/>
<circle cx="487.9" cy="187.3" r="1.2" fill="#1a1a1a"/>
<line x1="357.1" y1="182" x2="380.7" y2="187.4" stroke="#1a1a1a" stroke-width="0.85"/>
<circle cx="380.7" cy="187.4" r="1.2" fill="#1a1a1a"/>
<text font-size="10.8" fill="#000" font-weight="bold" transform="translate(303.8 282.2)" stroke="#000" stroke-width="0.12">C</text>
<rect x="435" y="285.5" width="41.7" height="73.4" fill="#e8e8e8"/>
<text font-size="6.8" fill="#231f20" text-anchor="middle" transform="translate(455.85 293.2)" stroke="#231f20" stroke-width="0.12">Lineage</text>
<text font-size="6.8" fill="#231f20" text-anchor="middle" transform="translate(455.85 302.7)" stroke="#231f20" stroke-width="0.12">switch</text>
<line x1="340.2" y1="336.88" x2="478" y2="336.88" stroke="#333" stroke-width="0.6" stroke-dasharray="1.1,1.1"/>
<text font-size="7" fill="#231f20" transform="translate(342.2 334.98)" stroke="#231f20" stroke-width="0.12">Clonal</text>
<text font-size="7" fill="#231f20" transform="translate(342.2 343.78)" stroke="#231f20" stroke-width="0.12">Sub</text>
<text font-size="7" fill="#231f20" transform="translate(342.2 350.78) scale(0.962 1)" stroke="#231f20" stroke-width="0.12">clonal</text>
<line x1="340.2" y1="281.7" x2="340.2" y2="359.5" stroke="#000" stroke-width="1.1"/>
<line x1="339.7" y1="358.9" x2="478" y2="358.9" stroke="#000" stroke-width="1.1"/>
<line x1="337.4" y1="358.9" x2="340.2" y2="358.9" stroke="#000" stroke-width="0.9"/>
<text font-size="7.5" fill="#231f20" text-anchor="end" transform="translate(334.2 361.6)" stroke="#231f20" stroke-width="0.12">0</text>
<line x1="337.4" y1="344.22" x2="340.2" y2="344.22" stroke="#000" stroke-width="0.9"/>
<text font-size="7.5" fill="#231f20" text-anchor="end" transform="translate(334.2 346.92)" stroke="#231f20" stroke-width="0.12">20</text>
<line x1="337.4" y1="329.54" x2="340.2" y2="329.54" stroke="#000" stroke-width="0.9"/>
<text font-size="7.5" fill="#231f20" text-anchor="end" transform="translate(334.2 332.24)" stroke="#231f20" stroke-width="0.12">40</text>
<line x1="337.4" y1="314.86" x2="340.2" y2="314.86" stroke="#000" stroke-width="0.9"/>
<text font-size="7.5" fill="#231f20" text-anchor="end" transform="translate(334.2 317.56)" stroke="#231f20" stroke-width="0.12">60</text>
<line x1="337.4" y1="300.18" x2="340.2" y2="300.18" stroke="#000" stroke-width="0.9"/>
<text font-size="7.5" fill="#231f20" text-anchor="end" transform="translate(334.2 302.88)" stroke="#231f20" stroke-width="0.12">80</text>
<line x1="337.4" y1="285.5" x2="340.2" y2="285.5" stroke="#000" stroke-width="0.9"/>
<text font-size="7.5" fill="#231f20" text-anchor="end" transform="translate(334.2 288.2)" stroke="#231f20" stroke-width="0.12">100</text>
<line x1="363.3" y1="358.9" x2="363.3" y2="361.1" stroke="#000" stroke-width="0.9"/>
<line x1="409.5" y1="358.9" x2="409.5" y2="361.1" stroke="#000" stroke-width="0.9"/>
<line x1="455.2" y1="358.9" x2="455.2" y2="361.1" stroke="#000" stroke-width="0.9"/>
<text font-size="9.2" fill="#231f20" text-anchor="middle" transform="translate(409.6 282.6)" stroke="#231f20" stroke-width="0.12">LS02</text>
<text font-size="8" fill="#231f20" text-anchor="middle" transform="translate(316.5 322.2) rotate(-90) scale(0.930 1)" stroke="#231f20" stroke-width="0.12">VAF %</text>
<text font-size="7.3" fill="#231f20" text-anchor="middle" transform="translate(363.3 370)" stroke="#231f20" stroke-width="0.12">Presentation</text>
<text font-size="7.3" fill="#231f20" text-anchor="middle" transform="translate(363.3 377.9)" stroke="#231f20" stroke-width="0.12">(ALL)</text>
<text font-size="7.3" fill="#231f20" text-anchor="middle" transform="translate(409.5 370)" stroke="#231f20" stroke-width="0.12">Relapse</text>
<text font-size="7.3" fill="#231f20" text-anchor="middle" transform="translate(409.5 377.9)" stroke="#231f20" stroke-width="0.12">(ALL)</text>
<text font-size="7.3" fill="#231f20" text-anchor="middle" transform="translate(455.2 370)" stroke="#231f20" stroke-width="0.12">Relapse</text>
<text font-size="7.3" fill="#231f20" text-anchor="middle" transform="translate(455.2 377.9)" stroke="#231f20" stroke-width="0.12">(AML)</text>
<polyline points="363.3,348.62 409.5,339.08 455.2,355.96" fill="none" stroke="#4cb04f" stroke-width="1.5" stroke-linejoin="round"/>
<circle cx="363.3" cy="348.62" r="1.7" fill="#4cb04f"/>
<circle cx="409.5" cy="339.08" r="1.7" fill="#4cb04f"/>
<circle cx="455.2" cy="355.96" r="1.7" fill="#4cb04f"/>
<polyline points="363.3,339.08 409.5,358.9 455.2,358.9" fill="none" stroke="#1f4e79" stroke-width="1.5" stroke-linejoin="round"/>
<circle cx="363.3" cy="339.08" r="1.7" fill="#1f4e79"/>
<circle cx="409.5" cy="358.9" r="1.7" fill="#1f4e79"/>
<circle cx="455.2" cy="358.9" r="1.7" fill="#1f4e79"/>
<line x1="481.45" y1="292.4" x2="488.25" y2="292.4" stroke="#1f4e79" stroke-width="1.1"/>
<circle cx="484.85" cy="292.4" r="1.2" fill="#1f4e79"/>
<text font-size="6.8" fill="#231f20" transform="translate(492.1 288.9)" stroke="#231f20" stroke-width="0.12">KRAS</text>
<text font-size="6.8" fill="#231f20" transform="translate(492.1 297)" stroke="#231f20" stroke-width="0.12">(A146T)</text>
<line x1="481.45" y1="313.1" x2="488.25" y2="313.1" stroke="#4cb04f" stroke-width="1.1"/>
<circle cx="484.85" cy="313.1" r="1.2" fill="#4cb04f"/>
<text font-size="6.8" fill="#231f20" transform="translate(492.1 310.7)" stroke="#231f20" stroke-width="0.12">NRAS</text>
<text font-size="6.8" fill="#231f20" transform="translate(492.1 317.6)" stroke="#231f20" stroke-width="0.12">(Q61K)</text>
<rect x="437" y="402.3" width="41.5" height="70.5" fill="#f0f0f2"/>
<text font-size="6.8" fill="#231f20" text-anchor="middle" transform="translate(457.75 413.4)" stroke="#231f20" stroke-width="0.12">Lineage</text>
<text font-size="6.8" fill="#231f20" text-anchor="middle" transform="translate(457.75 422.3)" stroke="#231f20" stroke-width="0.12">switch</text>
<line x1="340.2" y1="451.65" x2="480.6" y2="451.65" stroke="#333" stroke-width="0.6" stroke-dasharray="1.1,1.1"/>
<text font-size="7" fill="#231f20" transform="translate(342.2 449.75)" stroke="#231f20" stroke-width="0.12">Clonal</text>
<text font-size="7" fill="#231f20" transform="translate(342.2 458.55)" stroke="#231f20" stroke-width="0.12">Sub</text>
<text font-size="7" fill="#231f20" transform="translate(342.2 465.55) scale(0.962 1)" stroke="#231f20" stroke-width="0.12">clonal</text>
<line x1="340.2" y1="398.5" x2="340.2" y2="473.4" stroke="#000" stroke-width="1.1"/>
<line x1="339.7" y1="472.8" x2="480.6" y2="472.8" stroke="#000" stroke-width="1.1"/>
<line x1="337.4" y1="472.8" x2="340.2" y2="472.8" stroke="#000" stroke-width="0.9"/>
<text font-size="7.5" fill="#231f20" text-anchor="end" transform="translate(334.2 475.5)" stroke="#231f20" stroke-width="0.12">0</text>
<line x1="337.4" y1="458.7" x2="340.2" y2="458.7" stroke="#000" stroke-width="0.9"/>
<text font-size="7.5" fill="#231f20" text-anchor="end" transform="translate(334.2 461.4)" stroke="#231f20" stroke-width="0.12">20</text>
<line x1="337.4" y1="444.6" x2="340.2" y2="444.6" stroke="#000" stroke-width="0.9"/>
<text font-size="7.5" fill="#231f20" text-anchor="end" transform="translate(334.2 447.3)" stroke="#231f20" stroke-width="0.12">40</text>
<line x1="337.4" y1="430.5" x2="340.2" y2="430.5" stroke="#000" stroke-width="0.9"/>
<text font-size="7.5" fill="#231f20" text-anchor="end" transform="translate(334.2 433.2)" stroke="#231f20" stroke-width="0.12">60</text>
<line x1="337.4" y1="416.4" x2="340.2" y2="416.4" stroke="#000" stroke-width="0.9"/>
<text font-size="7.5" fill="#231f20" text-anchor="end" transform="translate(334.2 419.1)" stroke="#231f20" stroke-width="0.12">80</text>
<line x1="337.4" y1="402.3" x2="340.2" y2="402.3" stroke="#000" stroke-width="0.9"/>
<text font-size="7.5" fill="#231f20" text-anchor="end" transform="translate(334.2 405)" stroke="#231f20" stroke-width="0.12">100</text>
<line x1="363.5" y1="472.8" x2="363.5" y2="475" stroke="#000" stroke-width="0.9"/>
<line x1="410.4" y1="472.8" x2="410.4" y2="475" stroke="#000" stroke-width="0.9"/>
<line x1="457.3" y1="472.8" x2="457.3" y2="475" stroke="#000" stroke-width="0.9"/>
<text font-size="9.2" fill="#231f20" text-anchor="middle" transform="translate(409.9 399.4)" stroke="#231f20" stroke-width="0.12">LS03</text>
<text font-size="8" fill="#231f20" text-anchor="middle" transform="translate(317.2 438.2) rotate(-90) scale(0.930 1)" stroke="#231f20" stroke-width="0.12">VAF %</text>
<text font-size="7.3" fill="#231f20" text-anchor="middle" transform="translate(363.5 482.6)" stroke="#231f20" stroke-width="0.12">Presentation</text>
<text font-size="7.3" fill="#231f20" text-anchor="middle" transform="translate(363.5 491.8)" stroke="#231f20" stroke-width="0.12">(ALL)</text>
<text font-size="7.3" fill="#231f20" text-anchor="middle" transform="translate(410.4 482.6)" stroke="#231f20" stroke-width="0.12">Relapse</text>
<text font-size="7.3" fill="#231f20" text-anchor="middle" transform="translate(410.4 491.8)" stroke="#231f20" stroke-width="0.12">(ALL)</text>
<text font-size="7.3" fill="#231f20" text-anchor="middle" transform="translate(457.3 482.6)" stroke="#231f20" stroke-width="0.12">Relapse</text>
<text font-size="7.3" fill="#231f20" text-anchor="middle" transform="translate(457.3 491.8)" stroke="#231f20" stroke-width="0.12">(AML)</text>
<polyline points="363.5,472.8 410.4,450.24 457.3,453.76" fill="none" stroke="#4cb04f" stroke-width="1.5" stroke-linejoin="round"/>
<circle cx="363.5" cy="472.8" r="1.7" fill="#4cb04f"/>
<circle cx="410.4" cy="450.24" r="1.7" fill="#4cb04f"/>
<circle cx="457.3" cy="453.76" r="1.7" fill="#4cb04f"/>
<polyline points="363.5,462.23 410.4,472.8" fill="none" stroke="#c0143c" stroke-width="1.5" stroke-linejoin="round"/>
<circle cx="363.5" cy="462.23" r="1.7" fill="#c0143c"/>
<circle cx="410.4" cy="472.8" r="1.7" fill="#c0143c"/>
<polyline points="363.5,467.16 410.4,472.8 457.3,472.8" fill="none" stroke="#1f4e79" stroke-width="1.5" stroke-linejoin="round"/>
<circle cx="363.5" cy="467.16" r="1.7" fill="#1f4e79"/>
<circle cx="410.4" cy="472.8" r="1.7" fill="#1f4e79"/>
<circle cx="457.3" cy="472.8" r="1.7" fill="#1f4e79"/>
<line x1="482.1" y1="407" x2="488.9" y2="407" stroke="#1f4e79" stroke-width="1.1"/>
<circle cx="485.5" cy="407" r="1.2" fill="#1f4e79"/>
<text font-size="6.8" fill="#231f20" transform="translate(493 404.1)" stroke="#231f20" stroke-width="0.12">KRAS</text>
<text font-size="6.8" fill="#231f20" transform="translate(493 412.6)" stroke="#231f20" stroke-width="0.12">(G12S)</text>
<line x1="482.1" y1="430.5" x2="488.9" y2="430.5" stroke="#4cb04f" stroke-width="1.1"/>
<circle cx="485.5" cy="430.5" r="1.2" fill="#4cb04f"/>
<text font-size="6.8" fill="#231f20" transform="translate(493 427.8)" stroke="#231f20" stroke-width="0.12">NRAS</text>
<text font-size="6.8" fill="#231f20" transform="translate(493 437)" stroke="#231f20" stroke-width="0.12">(Q61K)</text>
<line x1="482.1" y1="452.2" x2="488.9" y2="452.2" stroke="#c0143c" stroke-width="1.1"/>
<circle cx="485.5" cy="452.2" r="1.2" fill="#c0143c"/>
<text font-size="6.8" fill="#231f20" transform="translate(493 450.3)" stroke="#231f20" stroke-width="0.12">NRAS</text>
<text font-size="6.8" fill="#231f20" transform="translate(493 459)" stroke="#231f20" stroke-width="0.12">(G13D)</text>
<rect x="405.1" y="515.4" width="40.6" height="73.6" fill="#f0f0f2"/>
<text font-size="6.8" fill="#231f20" text-anchor="middle" transform="translate(425.4 523.8)" stroke="#231f20" stroke-width="0.12">Lineage</text>
<text font-size="6.8" fill="#231f20" text-anchor="middle" transform="translate(425.4 532.8)" stroke="#231f20" stroke-width="0.12">switch</text>
<line x1="340.5" y1="566.92" x2="449" y2="566.92" stroke="#333" stroke-width="0.6" stroke-dasharray="1.1,1.1"/>
<text font-size="7" fill="#231f20" transform="translate(342.5 565.02)" stroke="#231f20" stroke-width="0.12">Clonal</text>
<text font-size="7" fill="#231f20" transform="translate(342.5 573.82)" stroke="#231f20" stroke-width="0.12">Sub</text>
<text font-size="7" fill="#231f20" transform="translate(342.5 580.82) scale(0.962 1)" stroke="#231f20" stroke-width="0.12">clonal</text>
<line x1="340.5" y1="511.6" x2="340.5" y2="589.6" stroke="#000" stroke-width="1.1"/>
<line x1="340" y1="589" x2="449" y2="589" stroke="#000" stroke-width="1.1"/>
<line x1="337.7" y1="589" x2="340.5" y2="589" stroke="#000" stroke-width="0.9"/>
<text font-size="7.5" fill="#231f20" text-anchor="end" transform="translate(334.5 591.7)" stroke="#231f20" stroke-width="0.12">0</text>
<line x1="337.7" y1="574.28" x2="340.5" y2="574.28" stroke="#000" stroke-width="0.9"/>
<text font-size="7.5" fill="#231f20" text-anchor="end" transform="translate(334.5 576.98)" stroke="#231f20" stroke-width="0.12">20</text>
<line x1="337.7" y1="559.56" x2="340.5" y2="559.56" stroke="#000" stroke-width="0.9"/>
<text font-size="7.5" fill="#231f20" text-anchor="end" transform="translate(334.5 562.26)" stroke="#231f20" stroke-width="0.12">40</text>
<line x1="337.7" y1="544.84" x2="340.5" y2="544.84" stroke="#000" stroke-width="0.9"/>
<text font-size="7.5" fill="#231f20" text-anchor="end" transform="translate(334.5 547.54)" stroke="#231f20" stroke-width="0.12">60</text>
<line x1="337.7" y1="530.12" x2="340.5" y2="530.12" stroke="#000" stroke-width="0.9"/>
<text font-size="7.5" fill="#231f20" text-anchor="end" transform="translate(334.5 532.82)" stroke="#231f20" stroke-width="0.12">80</text>
<line x1="337.7" y1="515.4" x2="340.5" y2="515.4" stroke="#000" stroke-width="0.9"/>
<text font-size="7.5" fill="#231f20" text-anchor="end" transform="translate(334.5 518.1)" stroke="#231f20" stroke-width="0.12">100</text>
<line x1="364.7" y1="589" x2="364.7" y2="591.2" stroke="#000" stroke-width="0.9"/>
<line x1="424.2" y1="589" x2="424.2" y2="591.2" stroke="#000" stroke-width="0.9"/>
<text font-size="9.2" fill="#231f20" text-anchor="middle" transform="translate(394 512.5)" stroke="#231f20" stroke-width="0.12">LS04</text>
<text font-size="8" fill="#231f20" text-anchor="middle" transform="translate(317.2 553) rotate(-90) scale(0.930 1)" stroke="#231f20" stroke-width="0.12">VAF %</text>
<text font-size="7.3" fill="#231f20" text-anchor="middle" transform="translate(364.2 601.6)" stroke="#231f20" stroke-width="0.12">Presentation (ALL)</text>
<text font-size="7.3" fill="#231f20" text-anchor="middle" transform="translate(428.6 601.6)" stroke="#231f20" stroke-width="0.12">Relapse (ALL)</text>
<polyline points="364.7,575.75 424.2,589" fill="none" stroke="#c0143c" stroke-width="1.5" stroke-linejoin="round"/>
<circle cx="364.7" cy="575.75" r="1.7" fill="#c0143c"/>
<circle cx="424.2" cy="589" r="1.7" fill="#c0143c"/>
<polyline points="364.7,575.75 424.2,549.99" fill="none" stroke="#1f4e79" stroke-width="1.5" stroke-linejoin="round"/>
<circle cx="364.7" cy="575.75" r="1.7" fill="#1f4e79"/>
<circle cx="424.2" cy="549.99" r="1.7" fill="#1f4e79"/>
<line x1="458" y1="514.5" x2="464.8" y2="514.5" stroke="#1f4e79" stroke-width="1.1"/>
<circle cx="461.4" cy="514.5" r="1.2" fill="#1f4e79"/>
<text font-size="6.8" fill="#231f20" transform="translate(466.5 517.3)" stroke="#231f20" stroke-width="0.12">KRAS (G13D)</text>
<line x1="458" y1="524.1" x2="464.8" y2="524.1" stroke="#c0143c" stroke-width="1.1"/>
<circle cx="461.4" cy="524.1" r="1.2" fill="#c0143c"/>
<text font-size="6.8" fill="#231f20" transform="translate(466.5 526.6)" stroke="#231f20" stroke-width="0.12">NRAS (G12D)</text>
<rect x="326.5" y="625.3" width="43.2" height="73.8" fill="#f0f0f2"/>
<text font-size="6.8" fill="#231f20" text-anchor="middle" transform="translate(348.1 633.7)" stroke="#231f20" stroke-width="0.12">Lineage</text>
<text font-size="6.8" fill="#231f20" text-anchor="middle" transform="translate(348.1 642.7)" stroke="#231f20" stroke-width="0.12">switch</text>
<line x1="272.3" y1="676.96" x2="372.9" y2="676.96" stroke="#333" stroke-width="0.6" stroke-dasharray="1.1,1.1"/>
<text font-size="7" fill="#231f20" transform="translate(274.3 675.06)" stroke="#231f20" stroke-width="0.12">Clonal</text>
<text font-size="7" fill="#231f20" transform="translate(274.3 683.86)" stroke="#231f20" stroke-width="0.12">Sub</text>
<text font-size="7" fill="#231f20" transform="translate(274.3 690.86) scale(0.962 1)" stroke="#231f20" stroke-width="0.12">clonal</text>
<line x1="272.3" y1="621.5" x2="272.3" y2="699.7" stroke="#000" stroke-width="1.1"/>
<line x1="271.8" y1="699.1" x2="372.9" y2="699.1" stroke="#000" stroke-width="1.1"/>
<line x1="269.5" y1="699.1" x2="272.3" y2="699.1" stroke="#000" stroke-width="0.9"/>
<text font-size="7.9" fill="#231f20" text-anchor="end" transform="translate(266.3 701.8)" stroke="#231f20" stroke-width="0.12">0</text>
<line x1="269.5" y1="684.34" x2="272.3" y2="684.34" stroke="#000" stroke-width="0.9"/>
<text font-size="7.9" fill="#231f20" text-anchor="end" transform="translate(266.3 687.04)" stroke="#231f20" stroke-width="0.12">20</text>
<line x1="269.5" y1="669.58" x2="272.3" y2="669.58" stroke="#000" stroke-width="0.9"/>
<text font-size="7.9" fill="#231f20" text-anchor="end" transform="translate(266.3 672.28)" stroke="#231f20" stroke-width="0.12">40</text>
<line x1="269.5" y1="654.82" x2="272.3" y2="654.82" stroke="#000" stroke-width="0.9"/>
<text font-size="7.9" fill="#231f20" text-anchor="end" transform="translate(266.3 657.52)" stroke="#231f20" stroke-width="0.12">60</text>
<line x1="269.5" y1="640.06" x2="272.3" y2="640.06" stroke="#000" stroke-width="0.9"/>
<text font-size="7.9" fill="#231f20" text-anchor="end" transform="translate(266.3 642.76)" stroke="#231f20" stroke-width="0.12">80</text>
<line x1="269.5" y1="625.3" x2="272.3" y2="625.3" stroke="#000" stroke-width="0.9"/>
<text font-size="7.9" fill="#231f20" text-anchor="end" transform="translate(266.3 628)" stroke="#231f20" stroke-width="0.12">100</text>
<line x1="297.6" y1="699.1" x2="297.6" y2="701.3" stroke="#000" stroke-width="0.9"/>
<line x1="346.6" y1="699.1" x2="346.6" y2="701.3" stroke="#000" stroke-width="0.9"/>
<text font-size="9.2" fill="#231f20" text-anchor="middle" transform="translate(322.2 622.4)" stroke="#231f20" stroke-width="0.12">LS06</text>
<text font-size="8" fill="#231f20" text-anchor="middle" transform="translate(249.4 662.4) rotate(-90) scale(0.930 1)" stroke="#231f20" stroke-width="0.12">VAF %</text>
<text font-size="7.3" fill="#231f20" text-anchor="middle" transform="translate(290.5 711.9)" stroke="#231f20" stroke-width="0.12">Presentation (ALL)</text>
<text font-size="7.3" fill="#231f20" text-anchor="middle" transform="translate(350.2 711.9)" stroke="#231f20" stroke-width="0.12">Relapse (ALL)</text>
<polyline points="297.6,670.32 346.6,699.1" fill="none" stroke="#1f4e79" stroke-width="1.5" stroke-linejoin="round"/>
<circle cx="297.6" cy="670.32" r="1.7" fill="#1f4e79"/>
<circle cx="346.6" cy="699.1" r="1.7" fill="#1f4e79"/>
<line x1="277.6" y1="636.5" x2="284.4" y2="636.5" stroke="#1f4e79" stroke-width="1.1"/>
<circle cx="281" cy="636.5" r="1.2" fill="#1f4e79"/>
<text font-size="6.8" fill="#231f20" transform="translate(288 634)" stroke="#231f20" stroke-width="0.12">KRAS</text>
<text font-size="6.8" fill="#231f20" transform="translate(288 642.6)" stroke="#231f20" stroke-width="0.12">(G12D)</text>
<rect x="465.1" y="625.3" width="43.2" height="73.8" fill="#f0f0f2"/>
<text font-size="6.8" fill="#231f20" text-anchor="middle" transform="translate(486.7 636.2)" stroke="#231f20" stroke-width="0.12">Lineage</text>
<text font-size="6.8" fill="#231f20" text-anchor="middle" transform="translate(486.7 645.4)" stroke="#231f20" stroke-width="0.12">switch</text>
<line x1="410.3" y1="676.96" x2="510" y2="676.96" stroke="#333" stroke-width="0.6" stroke-dasharray="1.1,1.1"/>
<text font-size="7" fill="#231f20" transform="translate(412.3 675.06)" stroke="#231f20" stroke-width="0.12">Clonal</text>
<text font-size="7" fill="#231f20" transform="translate(412.3 683.86)" stroke="#231f20" stroke-width="0.12">Sub</text>
<text font-size="7" fill="#231f20" transform="translate(412.3 690.86) scale(0.962 1)" stroke="#231f20" stroke-width="0.12">clonal</text>
<line x1="410.3" y1="621.5" x2="410.3" y2="699.7" stroke="#000" stroke-width="1.1"/>
<line x1="409.8" y1="699.1" x2="510" y2="699.1" stroke="#000" stroke-width="1.1"/>
<line x1="407.5" y1="699.1" x2="410.3" y2="699.1" stroke="#000" stroke-width="0.9"/>
<text font-size="7.9" fill="#231f20" text-anchor="end" transform="translate(404.3 701.8)" stroke="#231f20" stroke-width="0.12">0</text>
<line x1="407.5" y1="684.34" x2="410.3" y2="684.34" stroke="#000" stroke-width="0.9"/>
<text font-size="7.9" fill="#231f20" text-anchor="end" transform="translate(404.3 687.04)" stroke="#231f20" stroke-width="0.12">20</text>
<line x1="407.5" y1="669.58" x2="410.3" y2="669.58" stroke="#000" stroke-width="0.9"/>
<text font-size="7.9" fill="#231f20" text-anchor="end" transform="translate(404.3 672.28)" stroke="#231f20" stroke-width="0.12">40</text>
<line x1="407.5" y1="654.82" x2="410.3" y2="654.82" stroke="#000" stroke-width="0.9"/>
<text font-size="7.9" fill="#231f20" text-anchor="end" transform="translate(404.3 657.52)" stroke="#231f20" stroke-width="0.12">60</text>
<line x1="407.5" y1="640.06" x2="410.3" y2="640.06" stroke="#000" stroke-width="0.9"/>
<text font-size="7.9" fill="#231f20" text-anchor="end" transform="translate(404.3 642.76)" stroke="#231f20" stroke-width="0.12">80</text>
<line x1="407.5" y1="625.3" x2="410.3" y2="625.3" stroke="#000" stroke-width="0.9"/>
<text font-size="7.9" fill="#231f20" text-anchor="end" transform="translate(404.3 628)" stroke="#231f20" stroke-width="0.12">100</text>
<line x1="436.3" y1="699.1" x2="436.3" y2="701.3" stroke="#000" stroke-width="0.9"/>
<line x1="485.9" y1="699.1" x2="485.9" y2="701.3" stroke="#000" stroke-width="0.9"/>
<text font-size="9.2" fill="#231f20" text-anchor="middle" transform="translate(461 622.4)" stroke="#231f20" stroke-width="0.12">LS09</text>
<text font-size="8" fill="#231f20" text-anchor="middle" transform="translate(387.4 660.8) rotate(-90) scale(0.930 1)" stroke="#231f20" stroke-width="0.12">VAF %</text>
<text font-size="7.3" fill="#231f20" text-anchor="middle" transform="translate(428.7 711.9)" stroke="#231f20" stroke-width="0.12">Presentation (ALL)</text>
<text font-size="7.3" fill="#231f20" text-anchor="middle" transform="translate(488.2 711.9)" stroke="#231f20" stroke-width="0.12">Relapse (ALL)</text>
<polyline points="436.3,681.39 485.9,690.24" fill="none" stroke="#1f4e79" stroke-width="1.5" stroke-linejoin="round"/>
<circle cx="436.3" cy="681.39" r="1.7" fill="#1f4e79"/>
<circle cx="485.9" cy="690.24" r="1.7" fill="#1f4e79"/>
<line x1="416.95" y1="639.4" x2="423.75" y2="639.4" stroke="#1f4e79" stroke-width="1.1"/>
<circle cx="420.35" cy="639.4" r="1.2" fill="#1f4e79"/>
<text font-size="6.8" fill="#231f20" transform="translate(428.1 637.5)" stroke="#231f20" stroke-width="0.12">KRAS</text>
<text font-size="6.8" fill="#231f20" transform="translate(428.1 645.8)" stroke="#231f20" stroke-width="0.12">(G12D)</text>
</svg></body></html>
